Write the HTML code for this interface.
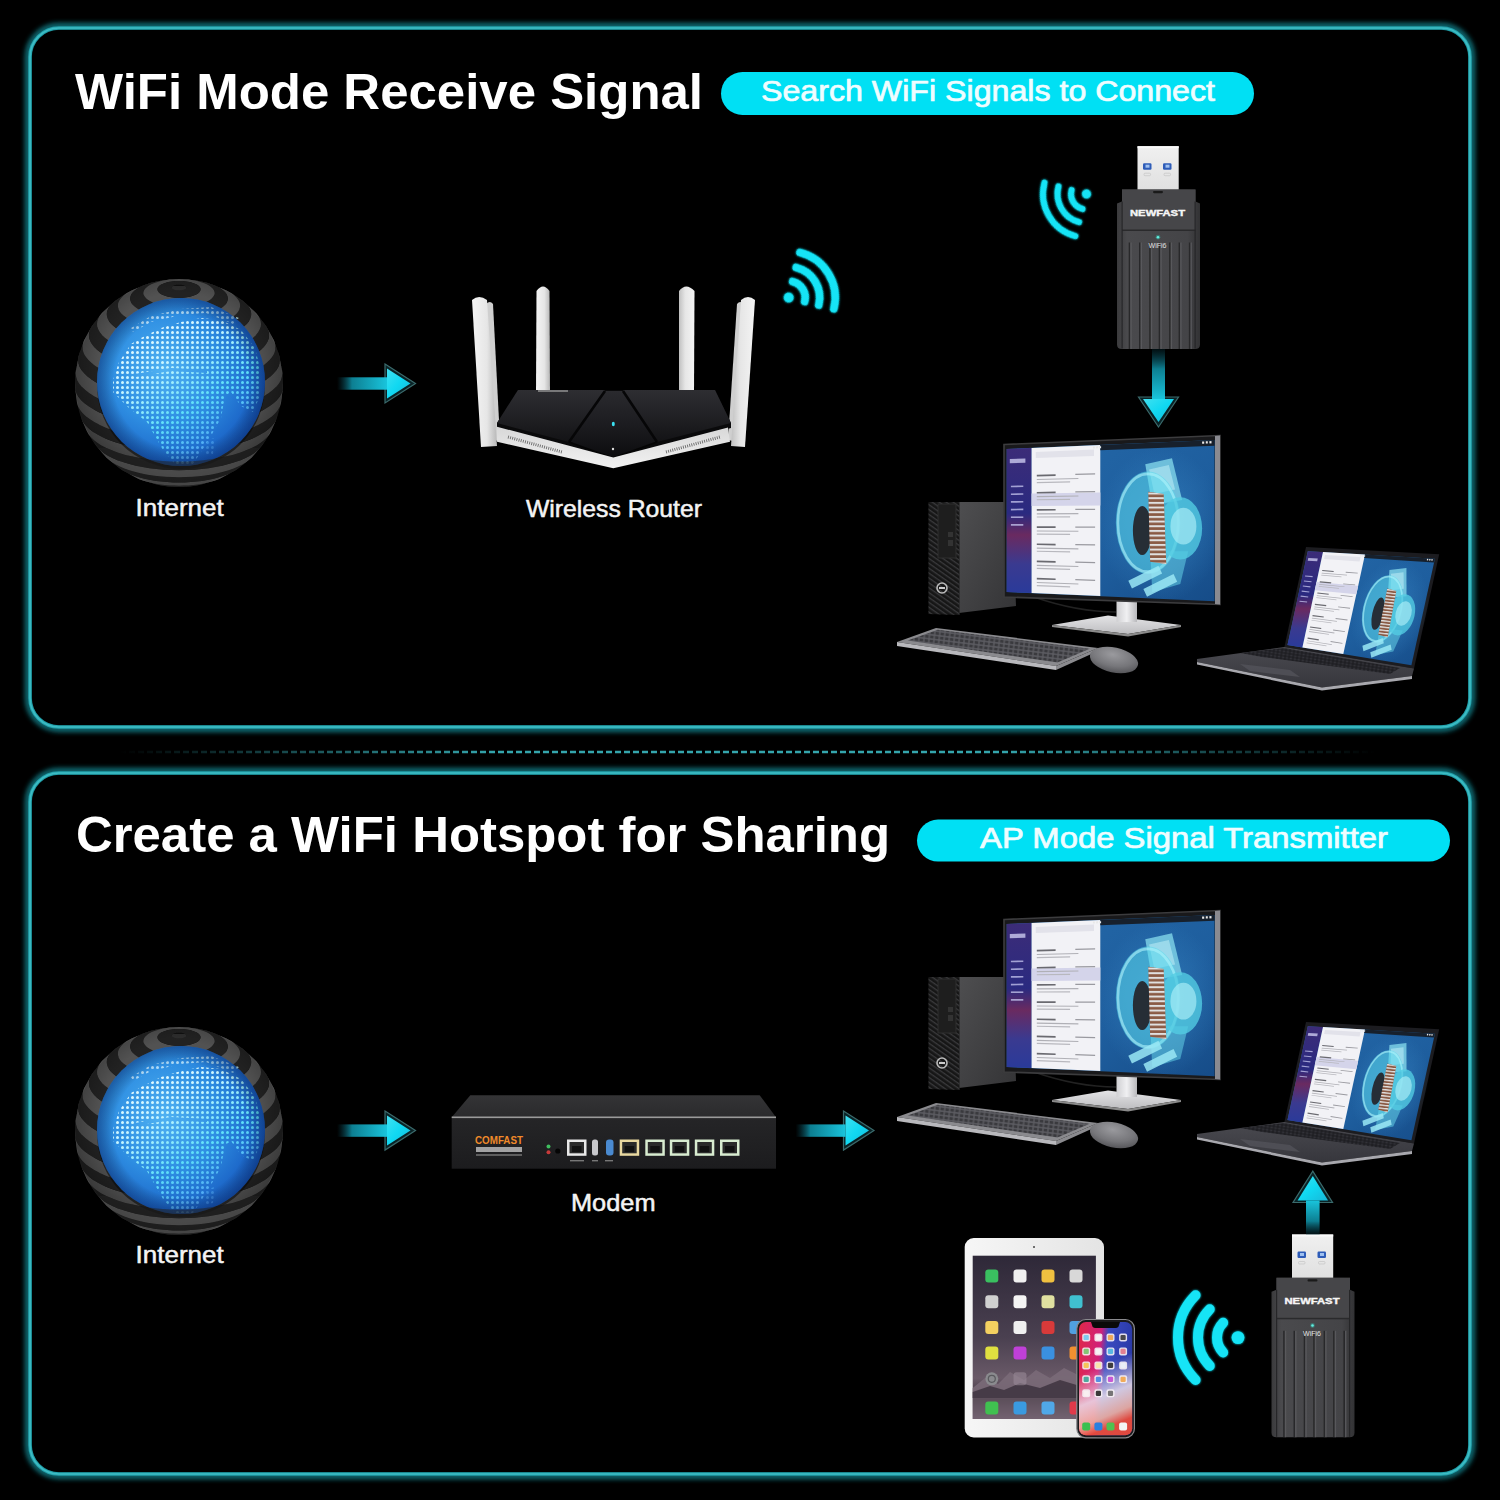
<!DOCTYPE html><html><head><meta charset="utf-8"><title>WiFi Adapter Modes</title><style>html,body{margin:0;padding:0;background:#000;width:1500px;height:1500px;overflow:hidden}svg{display:block}</style></head><body>
<svg width="1500" height="1500" viewBox="0 0 1500 1500">
<defs>
<filter id="glow" x="-5%" y="-5%" width="110%" height="110%"><feGaussianBlur stdDeviation="2.5"/></filter>
<filter id="softglow" x="-30%" y="-30%" width="160%" height="160%"><feGaussianBlur in="SourceGraphic" stdDeviation="1.2" result="b"/><feMerge><feMergeNode in="b"/><feMergeNode in="SourceGraphic"/></feMerge></filter>
<filter id="blur1"><feGaussianBlur stdDeviation="1"/></filter>
<radialGradient id="gBlue" cx="0.4" cy="0.42" r="0.65">
 <stop offset="0" stop-color="#50b2f2"/><stop offset="0.5" stop-color="#2e8ee2"/><stop offset="0.85" stop-color="#1c66c8"/><stop offset="1" stop-color="#1656b8"/>
</radialGradient>
<radialGradient id="gShade" cx="0.5" cy="0.5" r="0.5">
 <stop offset="0.8" stop-color="#000" stop-opacity="0"/><stop offset="1" stop-color="#001040" stop-opacity="0.35"/>
</radialGradient>
<pattern id="dots" width="5" height="5" patternUnits="userSpaceOnUse"><circle cx="2.5" cy="2.5" r="1.5" fill="#fff"/></pattern><linearGradient id="landGrad" x1="0.2" y1="0.1" x2="0.75" y2="0.95"><stop offset="0" stop-color="#f4fcff"/><stop offset="0.35" stop-color="#c8f6ff"/><stop offset="0.65" stop-color="#5ee0f8"/><stop offset="1" stop-color="#4a90f0"/></linearGradient><radialGradient id="shellShade" cx="0.5" cy="0.45" r="0.55"><stop offset="0.7" stop-color="#000" stop-opacity="0"/><stop offset="1" stop-color="#000" stop-opacity="0.35"/></radialGradient>
<linearGradient id="gShaftH" x1="0" x2="1" y1="0" y2="0"><stop offset="0" stop-color="#0a4a58" stop-opacity="0"/><stop offset="0.3" stop-color="#0d7f92"/><stop offset="1" stop-color="#19c4dc"/></linearGradient>
<linearGradient id="gShaftV" x1="0" x2="0" y1="0" y2="1"><stop offset="0" stop-color="#0a4a58" stop-opacity="0.2"/><stop offset="0.4" stop-color="#0d7f92"/><stop offset="1" stop-color="#19c4dc"/></linearGradient>
<linearGradient id="gShaftVu" x1="0" x2="0" y1="1" y2="0"><stop offset="0" stop-color="#0a4a58" stop-opacity="0.2"/><stop offset="0.4" stop-color="#0d7f92"/><stop offset="1" stop-color="#19c4dc"/></linearGradient>
<linearGradient id="gHead" x1="0" x2="1" y1="0" y2="1"><stop offset="0" stop-color="#40e0f0"/><stop offset="0.5" stop-color="#10d8f2"/><stop offset="1" stop-color="#18b8d8"/></linearGradient>
<linearGradient id="gDash" gradientUnits="userSpaceOnUse" x1="120" y1="0" x2="1375" y2="0"><stop offset="0" stop-color="#3ab8c0" stop-opacity="0"/><stop offset="0.3" stop-color="#3ab8c0" stop-opacity="0.9"/><stop offset="0.7" stop-color="#3ab8c0" stop-opacity="0.9"/><stop offset="1" stop-color="#3ab8c0" stop-opacity="0"/></linearGradient>

<linearGradient id="towerSide" x1="0" x2="1" y1="0" y2="1"><stop offset="0" stop-color="#4e4e50"/><stop offset="1" stop-color="#343436"/></linearGradient>
<pattern id="mesh" width="4" height="4" patternUnits="userSpaceOnUse" patternTransform="rotate(35)"><rect width="4" height="1.3" fill="#3a3a3c"/></pattern>
<linearGradient id="baseG" x1="0" x2="0" y1="0" y2="1"><stop offset="0" stop-color="#e4e4e6"/><stop offset="1" stop-color="#bdbdc0"/></linearGradient>
<linearGradient id="neckG" x1="0" x2="1"><stop offset="0" stop-color="#cfcfd2"/><stop offset="0.5" stop-color="#f0f0f2"/><stop offset="1" stop-color="#b8b8bb"/></linearGradient>
<linearGradient id="cadBg" x1="0" x2="1" y1="0" y2="1"><stop offset="0" stop-color="#2468a8"/><stop offset="0.6" stop-color="#1e5e9e"/><stop offset="1" stop-color="#164c88"/></linearGradient>
<linearGradient id="sidebarG" x1="0" x2="0" y1="0" y2="1"><stop offset="0" stop-color="#3c2c78"/><stop offset="0.45" stop-color="#2a2a80"/><stop offset="0.6" stop-color="#6a2a60"/><stop offset="0.8" stop-color="#3a3a90"/><stop offset="1" stop-color="#2a3a9a"/></linearGradient>
<pattern id="ribs" width="10" height="4.2" patternUnits="userSpaceOnUse"><rect width="10" height="1.8" fill="#e0e0e0"/></pattern>
<radialGradient id="cadGlow"><stop offset="0" stop-color="#3a8ac8" stop-opacity="0.6"/><stop offset="1" stop-color="#3a8ac8" stop-opacity="0"/></radialGradient>
<pattern id="keysP" width="5" height="4.2" patternUnits="userSpaceOnUse" patternTransform="rotate(7)"><rect width="5" height="4.2" fill="#5c5c62"/><rect x="0.7" y="0.7" width="3.6" height="2.8" fill="#3a3a3e"/></pattern>
<pattern id="keysP2" width="4" height="3" patternUnits="userSpaceOnUse" patternTransform="rotate(9)"><rect width="4" height="3" fill="#18181c"/><rect x="0.5" y="0.5" width="3" height="2" fill="#323238"/></pattern>
<radialGradient id="mouseG" cx="0.45" cy="0.3" r="0.75"><stop offset="0" stop-color="#9a9a9e"/><stop offset="0.6" stop-color="#76767a"/><stop offset="1" stop-color="#505054"/></radialGradient>
<linearGradient id="deckG" x1="0" x2="0" y1="0" y2="1"><stop offset="0" stop-color="#4a4a50"/><stop offset="1" stop-color="#36363c"/></linearGradient>
<linearGradient id="antG" x1="0" x2="1"><stop offset="0" stop-color="#f4f4f4"/><stop offset="0.6" stop-color="#e6e6e6"/><stop offset="1" stop-color="#b8b8b8"/></linearGradient>
<linearGradient id="antG2" x1="0" x2="1"><stop offset="0" stop-color="#c0c0c0"/><stop offset="0.4" stop-color="#e6e6e6"/><stop offset="1" stop-color="#f4f4f4"/></linearGradient>
<linearGradient id="prismL" x1="0" x2="1" y1="0" y2="1"><stop offset="0" stop-color="#3a3a40"/><stop offset="1" stop-color="#1a1a1e"/></linearGradient>
<linearGradient id="routerTop" x1="0" x2="0" y1="0" y2="1"><stop offset="0" stop-color="#2e2e32"/><stop offset="0.45" stop-color="#222226"/><stop offset="1" stop-color="#131315"/></linearGradient>
<linearGradient id="prismG" x1="0" x2="0" y1="0" y2="1"><stop offset="0" stop-color="#2a2a2e"/><stop offset="0.5" stop-color="#1c1c20"/><stop offset="1" stop-color="#0c0c0e"/></linearGradient>
<linearGradient id="routerBase" x1="0" x2="0" y1="0" y2="1"><stop offset="0" stop-color="#d8d8d8"/><stop offset="1" stop-color="#f2f2f2"/></linearGradient>
<linearGradient id="usbG" x1="0" x2="0" y1="0" y2="1"><stop offset="0" stop-color="#f0f0f0"/><stop offset="1" stop-color="#e0e0e0"/></linearGradient>
<linearGradient id="dongleG" x1="0" x2="1"><stop offset="0" stop-color="#3a3a3c"/><stop offset="0.12" stop-color="#4a4a4d"/><stop offset="0.85" stop-color="#444447"/><stop offset="1" stop-color="#323234"/></linearGradient>
<linearGradient id="modemTop" x1="0" x2="0" y1="0" y2="1"><stop offset="0" stop-color="#343436"/><stop offset="1" stop-color="#2a2a2c"/></linearGradient>
<linearGradient id="modemFront" x1="0" x2="0" y1="0" y2="1"><stop offset="0" stop-color="#252527"/><stop offset="1" stop-color="#1c1c1e"/></linearGradient>
<linearGradient id="ipadBody" x1="0" x2="1"><stop offset="0" stop-color="#f6f6f6"/><stop offset="1" stop-color="#e4e4e4"/></linearGradient>
<linearGradient id="ipadScreen" x1="0" x2="0" y1="0" y2="1"><stop offset="0" stop-color="#2e2838"/><stop offset="0.5" stop-color="#4a4050"/><stop offset="0.75" stop-color="#6a5a68"/><stop offset="0.88" stop-color="#3a3038"/><stop offset="1" stop-color="#6a5a68"/></linearGradient>
<linearGradient id="iphoneScreen" x1="0" x2="1" y1="0" y2="0.2"><stop offset="0" stop-color="#e02848"/><stop offset="0.42" stop-color="#d0207a"/><stop offset="0.55" stop-color="#3a4ac0"/><stop offset="1" stop-color="#2a3aa8"/></linearGradient>
<linearGradient id="iphoneBottom" x1="0" x2="0.2" y1="0" y2="1"><stop offset="0.45" stop-color="#f0e0e8" stop-opacity="0"/><stop offset="0.72" stop-color="#ece0ea" stop-opacity="0.85"/><stop offset="0.9" stop-color="#f0b0a0" stop-opacity="0.9"/><stop offset="1" stop-color="#e84a3a" stop-opacity="0.95"/></linearGradient>
</defs>
<defs><mask id="landMask1" maskUnits="userSpaceOnUse" x="0" y="0" width="1500" height="1500"><path d="M113.0,380.0 L119.0,362.0 L131.0,344.0 L141.0,338.0 L161.0,328.0 L181.0,322.0 L201.0,318.0 L221.0,320.0 L241.0,330.0 L255.0,348.0 L261.0,372.0 L259.0,398.0 L253.0,412.0 L241.0,406.0 L231.0,392.0 L225.0,396.0 L221.0,418.0 L211.0,436.0 L201.0,452.0 L193.0,464.0 L175.0,464.0 L163.0,450.0 L147.0,422.0 L129.0,408.0 L113.0,392.0Z" fill="url(#dots)"/><path d="M131.0,328.0 L151.0,316.0 L181.0,309.0 L211.0,307.0 L239.0,318.0 L233.0,324.0 L206.0,313.0 L181.0,315.0 L151.0,322.0 L133.0,332.0Z" fill="url(#dots)" opacity="0.7"/><path d="M207.0,440.0 L215.0,438.0 L213.0,454.0 L205.0,456.0Z" fill="url(#dots)" opacity="0.6"/><path d="M135.0,374.0 L171.0,368.0 L207.0,370.0 L207.0,373.0 L171.0,371.0 L135.0,377.0Z" fill="#000"/></mask><mask id="landMask2" maskUnits="userSpaceOnUse" x="0" y="0" width="1500" height="1500"><path d="M113.0,1129.0 L119.0,1111.0 L131.0,1093.0 L141.0,1087.0 L161.0,1077.0 L181.0,1071.0 L201.0,1067.0 L221.0,1069.0 L241.0,1079.0 L255.0,1097.0 L261.0,1121.0 L259.0,1147.0 L253.0,1161.0 L241.0,1155.0 L231.0,1141.0 L225.0,1145.0 L221.0,1167.0 L211.0,1185.0 L201.0,1201.0 L193.0,1213.0 L175.0,1213.0 L163.0,1199.0 L147.0,1171.0 L129.0,1157.0 L113.0,1141.0Z" fill="url(#dots)"/><path d="M131.0,1077.0 L151.0,1065.0 L181.0,1058.0 L211.0,1056.0 L239.0,1067.0 L233.0,1073.0 L206.0,1062.0 L181.0,1064.0 L151.0,1071.0 L133.0,1081.0Z" fill="url(#dots)" opacity="0.7"/><path d="M207.0,1189.0 L215.0,1187.0 L213.0,1203.0 L205.0,1205.0Z" fill="url(#dots)" opacity="0.6"/><path d="M135.0,1123.0 L171.0,1117.0 L207.0,1119.0 L207.0,1122.0 L171.0,1120.0 L135.0,1126.0Z" fill="#000"/></mask><clipPath id="gclip1"><rect x="60" y="448" width="240" height="60"/></clipPath><clipPath id="gclip2"><rect x="60" y="1196" width="240" height="60"/></clipPath></defs>
<rect width="1500" height="1500" fill="#000"/>
<rect x="28" y="26" width="1444" height="703" rx="31" fill="none" stroke="#139aa6" stroke-width="6" filter="url(#glow)" opacity="0.75"/>
<rect x="32" y="30" width="1436" height="695" rx="27" fill="#000"/>
<rect x="30" y="28" width="1440" height="699" rx="29" fill="none" stroke="#22a2ac" stroke-width="3.6"/>
<rect x="30" y="28" width="1440" height="699" rx="29" fill="none" stroke="#3ebcc4" stroke-width="1.7"/>
<rect x="28" y="771" width="1444" height="705" rx="31" fill="none" stroke="#139aa6" stroke-width="6" filter="url(#glow)" opacity="0.75"/>
<rect x="32" y="775" width="1436" height="697" rx="27" fill="#000"/>
<rect x="30" y="773" width="1440" height="701" rx="29" fill="none" stroke="#22a2ac" stroke-width="3.6"/>
<rect x="30" y="773" width="1440" height="701" rx="29" fill="none" stroke="#3ebcc4" stroke-width="1.7"/>
<line x1="120" y1="752" x2="1375" y2="752" stroke="url(#gDash)" stroke-width="2.4" stroke-dasharray="6 3"/>
<text x="75" y="108.6" font-family='"Liberation Sans", sans-serif' font-size="49.5" font-weight="bold" fill="#fff" textLength="628" lengthAdjust="spacingAndGlyphs">WiFi Mode Receive Signal</text>
<text x="76" y="852" font-family='"Liberation Sans", sans-serif' font-size="49.5" font-weight="bold" fill="#fff" textLength="814" lengthAdjust="spacingAndGlyphs">Create a WiFi Hotspot for Sharing</text>
<rect x="721" y="72" width="533" height="43" rx="21.5" fill="#00e0f4"/>
<text x="761" y="101" font-family='"Liberation Sans", sans-serif' font-size="29" font-weight="normal" fill="#effdff" stroke="#effdff" stroke-width="0.7" stroke-linejoin="round" textLength="454" lengthAdjust="spacingAndGlyphs">Search WiFi Signals to Connect</text>
<rect x="917" y="819.6" width="533" height="42" rx="21" fill="#00e0f4"/>
<text x="980" y="848" font-family='"Liberation Sans", sans-serif' font-size="29" font-weight="normal" fill="#effdff" stroke="#effdff" stroke-width="0.7" stroke-linejoin="round" textLength="408" lengthAdjust="spacingAndGlyphs">AP Mode Signal Transmitter</text>
<g>
<circle cx="179" cy="383" r="104" fill="#0e0e0e"/>
<path d="M193.5,477.8 L193.5,477.6 L193.4,477.3 L193.4,477.1 L193.3,476.8 L193.1,476.6 L193.0,476.3 L192.8,476.1 L192.6,475.9 L192.4,475.6 L192.1,475.4 L191.8,475.2 L191.5,475.0 L191.2,474.8 L190.9,474.6 L190.5,474.4 L190.1,474.2 L189.7,474.0 L189.2,473.8 L188.8,473.6 L188.3,473.5 L187.8,473.3 L187.3,473.2 L186.8,473.0 L186.2,472.9 L185.7,472.8 L185.1,472.7 L184.5,472.6 L184.0,472.5 L183.4,472.4 L182.7,472.3 L182.1,472.3 L181.5,472.2 L180.9,472.2 L180.3,472.2 L179.6,472.2 L179.0,472.1 L178.4,472.2 L177.7,472.2 L177.1,472.2 L176.5,472.2 L175.9,472.3 L175.3,472.3 L174.6,472.4 L174.0,472.5 L173.5,472.6 L172.9,472.7 L172.3,472.8 L171.8,472.9 L171.2,473.0 L170.7,473.2 L170.2,473.3 L169.7,473.5 L169.2,473.6 L168.8,473.8 L168.3,474.0 L167.9,474.2 L167.5,474.4 L167.1,474.6 L166.8,474.8 L166.5,475.0 L166.2,475.2 L165.9,475.4 L165.6,475.6 L165.4,475.9 L165.2,476.1 L165.0,476.3 L164.9,476.6 L164.7,476.8 L164.6,477.1 L164.6,477.3 L164.5,477.6 L164.5,477.8 L179.0,478.7 L179.0,478.7 L179.0,478.7 L179.0,478.7 L179.0,478.7 L179.0,478.7 L179.0,478.7 L179.0,478.7 L179.0,478.7 L179.0,478.7 L179.0,478.7 L179.0,478.7 L179.0,478.7 L179.0,478.7 L179.0,478.7 L179.0,478.7 L179.0,478.7 L179.0,478.7 L179.0,478.7 L179.0,478.7 L179.0,478.7 L179.0,478.7 L179.0,478.7 L179.0,478.7 L179.0,478.7 L179.0,478.7 L179.0,478.7 L179.0,478.7 L179.0,478.7 L179.0,478.7 L179.0,478.7 L179.0,478.7 L179.0,478.7 L179.0,478.7 L179.0,478.7 L179.0,478.7 L179.0,478.7 L179.0,478.7 L179.0,478.7 L179.0,478.7 L179.0,478.7 L179.0,478.7 L179.0,478.7 L179.0,478.7 L179.0,478.7 L179.0,478.7 L179.0,478.7 L179.0,478.7 L179.0,478.7 L179.0,478.7 L179.0,478.7 L179.0,478.7 L179.0,478.7 L179.0,478.7 L179.0,478.7 L179.0,478.7 L179.0,478.7 L179.0,478.7 L179.0,478.7 L179.0,478.7 L179.0,478.7 L179.0,478.7 L179.0,478.7 L179.0,478.7 L179.0,478.7 L179.0,478.7 L179.0,478.7 L179.0,478.7 L179.0,478.7 L179.0,478.7 L179.0,478.7 L179.0,478.7 L179.0,478.7Z" fill="#2e2e2e"/>
<path d="M207.7,475.0 L207.6,474.5 L207.6,474.0 L207.4,473.6 L207.2,473.1 L207.0,472.6 L206.7,472.1 L206.3,471.7 L205.9,471.2 L205.5,470.7 L205.0,470.3 L204.4,469.9 L203.8,469.4 L203.2,469.0 L202.5,468.6 L201.7,468.2 L201.0,467.8 L200.1,467.5 L199.3,467.1 L198.4,466.8 L197.4,466.4 L196.5,466.1 L195.4,465.8 L194.4,465.6 L193.3,465.3 L192.2,465.1 L191.1,464.9 L190.0,464.7 L188.8,464.5 L187.6,464.3 L186.4,464.2 L185.2,464.1 L184.0,464.0 L182.7,463.9 L181.5,463.9 L180.3,463.8 L179.0,463.8 L177.7,463.8 L176.5,463.9 L175.3,463.9 L174.0,464.0 L172.8,464.1 L171.6,464.2 L170.4,464.3 L169.2,464.5 L168.0,464.7 L166.9,464.9 L165.8,465.1 L164.7,465.3 L163.6,465.6 L162.6,465.8 L161.5,466.1 L160.6,466.4 L159.6,466.8 L158.7,467.1 L157.9,467.5 L157.0,467.8 L156.3,468.2 L155.5,468.6 L154.8,469.0 L154.2,469.4 L153.6,469.9 L153.0,470.3 L152.5,470.7 L152.1,471.2 L151.7,471.7 L151.3,472.1 L151.0,472.6 L150.8,473.1 L150.6,473.6 L150.4,474.0 L150.4,474.5 L150.3,475.0 L164.5,477.8 L164.5,477.6 L164.6,477.3 L164.6,477.1 L164.7,476.8 L164.9,476.6 L165.0,476.3 L165.2,476.1 L165.4,475.9 L165.6,475.6 L165.9,475.4 L166.2,475.2 L166.5,475.0 L166.8,474.8 L167.1,474.6 L167.5,474.4 L167.9,474.2 L168.3,474.0 L168.8,473.8 L169.2,473.6 L169.7,473.5 L170.2,473.3 L170.7,473.2 L171.2,473.0 L171.8,472.9 L172.3,472.8 L172.9,472.7 L173.5,472.6 L174.0,472.5 L174.6,472.4 L175.3,472.3 L175.9,472.3 L176.5,472.2 L177.1,472.2 L177.7,472.2 L178.4,472.2 L179.0,472.1 L179.6,472.2 L180.3,472.2 L180.9,472.2 L181.5,472.2 L182.1,472.3 L182.7,472.3 L183.4,472.4 L184.0,472.5 L184.5,472.6 L185.1,472.7 L185.7,472.8 L186.2,472.9 L186.8,473.0 L187.3,473.2 L187.8,473.3 L188.3,473.5 L188.8,473.6 L189.2,473.8 L189.7,474.0 L190.1,474.2 L190.5,474.4 L190.9,474.6 L191.2,474.8 L191.5,475.0 L191.8,475.2 L192.1,475.4 L192.4,475.6 L192.6,475.9 L192.8,476.1 L193.0,476.3 L193.1,476.6 L193.3,476.8 L193.4,477.1 L193.4,477.3 L193.5,477.6 L193.5,477.8Z" fill="#101010"/>
<path d="M221.3,470.5 L221.3,469.7 L221.1,469.0 L220.9,468.3 L220.7,467.6 L220.3,466.9 L219.9,466.2 L219.3,465.5 L218.7,464.8 L218.1,464.1 L217.3,463.5 L216.5,462.8 L215.6,462.2 L214.7,461.6 L213.7,461.0 L212.6,460.4 L211.4,459.8 L210.2,459.3 L208.9,458.8 L207.6,458.3 L206.2,457.8 L204.8,457.3 L203.3,456.9 L201.7,456.5 L200.2,456.1 L198.5,455.8 L196.9,455.5 L195.2,455.2 L193.5,454.9 L191.7,454.7 L189.9,454.5 L188.2,454.3 L186.3,454.2 L184.5,454.1 L182.7,454.0 L180.8,453.9 L179.0,453.9 L177.2,453.9 L175.3,454.0 L173.5,454.1 L171.7,454.2 L169.8,454.3 L168.1,454.5 L166.3,454.7 L164.5,454.9 L162.8,455.2 L161.1,455.5 L159.5,455.8 L157.8,456.1 L156.3,456.5 L154.7,456.9 L153.2,457.3 L151.8,457.8 L150.4,458.3 L149.1,458.8 L147.8,459.3 L146.6,459.8 L145.4,460.4 L144.3,461.0 L143.3,461.6 L142.4,462.2 L141.5,462.8 L140.7,463.5 L139.9,464.1 L139.3,464.8 L138.7,465.5 L138.1,466.2 L137.7,466.9 L137.3,467.6 L137.1,468.3 L136.9,469.0 L136.7,469.7 L136.7,470.5 L150.3,475.0 L150.4,474.5 L150.4,474.0 L150.6,473.6 L150.8,473.1 L151.0,472.6 L151.3,472.1 L151.7,471.7 L152.1,471.2 L152.5,470.7 L153.0,470.3 L153.6,469.9 L154.2,469.4 L154.8,469.0 L155.5,468.6 L156.3,468.2 L157.0,467.8 L157.9,467.5 L158.7,467.1 L159.6,466.8 L160.6,466.4 L161.5,466.1 L162.6,465.8 L163.6,465.6 L164.7,465.3 L165.8,465.1 L166.9,464.9 L168.0,464.7 L169.2,464.5 L170.4,464.3 L171.6,464.2 L172.8,464.1 L174.0,464.0 L175.3,463.9 L176.5,463.9 L177.7,463.8 L179.0,463.8 L180.3,463.8 L181.5,463.9 L182.7,463.9 L184.0,464.0 L185.2,464.1 L186.4,464.2 L187.6,464.3 L188.8,464.5 L190.0,464.7 L191.1,464.9 L192.2,465.1 L193.3,465.3 L194.4,465.6 L195.4,465.8 L196.5,466.1 L197.4,466.4 L198.4,466.8 L199.3,467.1 L200.1,467.5 L201.0,467.8 L201.7,468.2 L202.5,468.6 L203.2,469.0 L203.8,469.4 L204.4,469.9 L205.0,470.3 L205.5,470.7 L205.9,471.2 L206.3,471.7 L206.7,472.1 L207.0,472.6 L207.2,473.1 L207.4,473.6 L207.6,474.0 L207.6,474.5 L207.7,475.0Z" fill="#2e2e2e"/>
<path d="M234.1,464.2 L234.1,463.2 L233.9,462.3 L233.6,461.4 L233.3,460.4 L232.8,459.5 L232.2,458.6 L231.6,457.7 L230.8,456.8 L229.9,455.9 L228.9,455.1 L227.9,454.2 L226.7,453.4 L225.5,452.6 L224.1,451.8 L222.7,451.1 L221.2,450.3 L219.6,449.6 L218.0,449.0 L216.2,448.3 L214.4,447.7 L212.5,447.1 L210.6,446.5 L208.6,446.0 L206.6,445.5 L204.4,445.1 L202.3,444.7 L200.1,444.3 L197.8,444.0 L195.6,443.6 L193.3,443.4 L190.9,443.2 L188.6,443.0 L186.2,442.8 L183.8,442.7 L181.4,442.7 L179.0,442.7 L176.6,442.7 L174.2,442.7 L171.8,442.8 L169.4,443.0 L167.1,443.2 L164.7,443.4 L162.4,443.6 L160.2,444.0 L157.9,444.3 L155.7,444.7 L153.6,445.1 L151.4,445.5 L149.4,446.0 L147.4,446.5 L145.5,447.1 L143.6,447.7 L141.8,448.3 L140.0,449.0 L138.4,449.6 L136.8,450.3 L135.3,451.1 L133.9,451.8 L132.5,452.6 L131.3,453.4 L130.1,454.2 L129.1,455.1 L128.1,455.9 L127.2,456.8 L126.4,457.7 L125.8,458.6 L125.2,459.5 L124.7,460.4 L124.4,461.4 L124.1,462.3 L123.9,463.2 L123.9,464.2 L136.7,470.5 L136.7,469.7 L136.9,469.0 L137.1,468.3 L137.3,467.6 L137.7,466.9 L138.1,466.2 L138.7,465.5 L139.3,464.8 L139.9,464.1 L140.7,463.5 L141.5,462.8 L142.4,462.2 L143.3,461.6 L144.3,461.0 L145.4,460.4 L146.6,459.8 L147.8,459.3 L149.1,458.8 L150.4,458.3 L151.8,457.8 L153.2,457.3 L154.7,456.9 L156.3,456.5 L157.8,456.1 L159.5,455.8 L161.1,455.5 L162.8,455.2 L164.5,454.9 L166.3,454.7 L168.1,454.5 L169.8,454.3 L171.7,454.2 L173.5,454.1 L175.3,454.0 L177.2,453.9 L179.0,453.9 L180.8,453.9 L182.7,454.0 L184.5,454.1 L186.3,454.2 L188.2,454.3 L189.9,454.5 L191.7,454.7 L193.5,454.9 L195.2,455.2 L196.9,455.5 L198.5,455.8 L200.2,456.1 L201.7,456.5 L203.3,456.9 L204.8,457.3 L206.2,457.8 L207.6,458.3 L208.9,458.8 L210.2,459.3 L211.4,459.8 L212.6,460.4 L213.7,461.0 L214.7,461.6 L215.6,462.2 L216.5,462.8 L217.3,463.5 L218.1,464.1 L218.7,464.8 L219.3,465.5 L219.9,466.2 L220.3,466.9 L220.7,467.6 L220.9,468.3 L221.1,469.0 L221.3,469.7 L221.3,470.5Z" fill="#101010"/>
<path d="M245.8,456.3 L245.8,455.2 L245.6,454.1 L245.3,452.9 L244.8,451.8 L244.3,450.7 L243.6,449.6 L242.8,448.5 L241.8,447.4 L240.8,446.3 L239.6,445.3 L238.3,444.3 L236.9,443.3 L235.4,442.3 L233.8,441.4 L232.0,440.4 L230.2,439.5 L228.3,438.7 L226.3,437.9 L224.2,437.1 L222.0,436.3 L219.7,435.6 L217.3,434.9 L214.9,434.3 L212.4,433.7 L209.9,433.2 L207.3,432.7 L204.6,432.2 L201.9,431.8 L199.1,431.4 L196.3,431.1 L193.5,430.8 L190.6,430.6 L187.7,430.4 L184.8,430.3 L181.9,430.2 L179.0,430.2 L176.1,430.2 L173.2,430.3 L170.3,430.4 L167.4,430.6 L164.5,430.8 L161.7,431.1 L158.9,431.4 L156.1,431.8 L153.4,432.2 L150.7,432.7 L148.1,433.2 L145.6,433.7 L143.1,434.3 L140.7,434.9 L138.3,435.6 L136.0,436.3 L133.8,437.1 L131.7,437.9 L129.7,438.7 L127.8,439.5 L126.0,440.4 L124.2,441.4 L122.6,442.3 L121.1,443.3 L119.7,444.3 L118.4,445.3 L117.2,446.3 L116.2,447.4 L115.2,448.5 L114.4,449.6 L113.7,450.7 L113.2,451.8 L112.7,452.9 L112.4,454.1 L112.2,455.2 L112.2,456.3 L123.9,464.2 L123.9,463.2 L124.1,462.3 L124.4,461.4 L124.7,460.4 L125.2,459.5 L125.8,458.6 L126.4,457.7 L127.2,456.8 L128.1,455.9 L129.1,455.1 L130.1,454.2 L131.3,453.4 L132.5,452.6 L133.9,451.8 L135.3,451.1 L136.8,450.3 L138.4,449.6 L140.0,449.0 L141.8,448.3 L143.6,447.7 L145.5,447.1 L147.4,446.5 L149.4,446.0 L151.4,445.5 L153.6,445.1 L155.7,444.7 L157.9,444.3 L160.2,444.0 L162.4,443.6 L164.7,443.4 L167.1,443.2 L169.4,443.0 L171.8,442.8 L174.2,442.7 L176.6,442.7 L179.0,442.7 L181.4,442.7 L183.8,442.7 L186.2,442.8 L188.6,443.0 L190.9,443.2 L193.3,443.4 L195.6,443.6 L197.8,444.0 L200.1,444.3 L202.3,444.7 L204.4,445.1 L206.6,445.5 L208.6,446.0 L210.6,446.5 L212.5,447.1 L214.4,447.7 L216.2,448.3 L218.0,449.0 L219.6,449.6 L221.2,450.3 L222.7,451.1 L224.1,451.8 L225.5,452.6 L226.7,453.4 L227.9,454.2 L228.9,455.1 L229.9,455.9 L230.8,456.8 L231.6,457.7 L232.2,458.6 L232.8,459.5 L233.3,460.4 L233.6,461.4 L233.9,462.3 L234.1,463.2 L234.1,464.2Z" fill="#2e2e2e"/>
<path d="M256.3,447.1 L256.2,445.7 L256.0,444.4 L255.6,443.1 L255.1,441.8 L254.5,440.5 L253.7,439.2 L252.7,438.0 L251.6,436.7 L250.4,435.5 L249.0,434.3 L247.6,433.1 L245.9,432.0 L244.2,430.8 L242.3,429.7 L240.3,428.7 L238.2,427.6 L236.0,426.7 L233.7,425.7 L231.2,424.8 L228.7,423.9 L226.0,423.1 L223.3,422.3 L220.5,421.6 L217.6,420.9 L214.7,420.3 L211.7,419.7 L208.6,419.2 L205.4,418.7 L202.2,418.3 L199.0,417.9 L195.7,417.6 L192.4,417.3 L189.1,417.1 L185.7,417.0 L182.4,416.9 L179.0,416.9 L175.6,416.9 L172.3,417.0 L168.9,417.1 L165.6,417.3 L162.3,417.6 L159.0,417.9 L155.8,418.3 L152.6,418.7 L149.4,419.2 L146.3,419.7 L143.3,420.3 L140.4,420.9 L137.5,421.6 L134.7,422.3 L132.0,423.1 L129.3,423.9 L126.8,424.8 L124.3,425.7 L122.0,426.7 L119.8,427.6 L117.7,428.7 L115.7,429.7 L113.8,430.8 L112.1,432.0 L110.4,433.1 L109.0,434.3 L107.6,435.5 L106.4,436.7 L105.3,438.0 L104.3,439.2 L103.5,440.5 L102.9,441.8 L102.4,443.1 L102.0,444.4 L101.8,445.7 L101.7,447.1 L112.2,456.3 L112.2,455.2 L112.4,454.1 L112.7,452.9 L113.2,451.8 L113.7,450.7 L114.4,449.6 L115.2,448.5 L116.2,447.4 L117.2,446.3 L118.4,445.3 L119.7,444.3 L121.1,443.3 L122.6,442.3 L124.2,441.4 L126.0,440.4 L127.8,439.5 L129.7,438.7 L131.7,437.9 L133.8,437.1 L136.0,436.3 L138.3,435.6 L140.7,434.9 L143.1,434.3 L145.6,433.7 L148.1,433.2 L150.7,432.7 L153.4,432.2 L156.1,431.8 L158.9,431.4 L161.7,431.1 L164.5,430.8 L167.4,430.6 L170.3,430.4 L173.2,430.3 L176.1,430.2 L179.0,430.2 L181.9,430.2 L184.8,430.3 L187.7,430.4 L190.6,430.6 L193.5,430.8 L196.3,431.1 L199.1,431.4 L201.9,431.8 L204.6,432.2 L207.3,432.7 L209.9,433.2 L212.4,433.7 L214.9,434.3 L217.3,434.9 L219.7,435.6 L222.0,436.3 L224.2,437.1 L226.3,437.9 L228.3,438.7 L230.2,439.5 L232.0,440.4 L233.8,441.4 L235.4,442.3 L236.9,443.3 L238.3,444.3 L239.6,445.3 L240.8,446.3 L241.8,447.4 L242.8,448.5 L243.6,449.6 L244.3,450.7 L244.8,451.8 L245.3,452.9 L245.6,454.1 L245.8,455.2 L245.8,456.3Z" fill="#101010"/>
<path d="M265.2,436.5 L265.1,435.1 L264.9,433.6 L264.5,432.1 L263.9,430.7 L263.2,429.2 L262.3,427.8 L261.2,426.4 L260.0,425.0 L258.7,423.6 L257.1,422.3 L255.5,421.0 L253.7,419.7 L251.7,418.4 L249.6,417.2 L247.4,416.0 L245.0,414.9 L242.6,413.8 L240.0,412.7 L237.2,411.7 L234.4,410.7 L231.5,409.8 L228.5,408.9 L225.3,408.1 L222.1,407.4 L218.8,406.7 L215.4,406.0 L212.0,405.4 L208.5,404.9 L204.9,404.4 L201.3,404.0 L197.7,403.6 L194.0,403.4 L190.3,403.1 L186.5,403.0 L182.8,402.9 L179.0,402.8 L175.2,402.9 L171.5,403.0 L167.7,403.1 L164.0,403.4 L160.3,403.6 L156.7,404.0 L153.1,404.4 L149.5,404.9 L146.0,405.4 L142.6,406.0 L139.2,406.7 L135.9,407.4 L132.7,408.1 L129.5,408.9 L126.5,409.8 L123.6,410.7 L120.8,411.7 L118.0,412.7 L115.4,413.8 L113.0,414.9 L110.6,416.0 L108.4,417.2 L106.3,418.4 L104.3,419.7 L102.5,421.0 L100.9,422.3 L99.3,423.6 L98.0,425.0 L96.8,426.4 L95.7,427.8 L94.8,429.2 L94.1,430.7 L93.5,432.1 L93.1,433.6 L92.9,435.1 L92.8,436.5 L101.7,447.1 L101.8,445.7 L102.0,444.4 L102.4,443.1 L102.9,441.8 L103.5,440.5 L104.3,439.2 L105.3,438.0 L106.4,436.7 L107.6,435.5 L109.0,434.3 L110.4,433.1 L112.1,432.0 L113.8,430.8 L115.7,429.7 L117.7,428.7 L119.8,427.6 L122.0,426.7 L124.3,425.7 L126.8,424.8 L129.3,423.9 L132.0,423.1 L134.7,422.3 L137.5,421.6 L140.4,420.9 L143.3,420.3 L146.3,419.7 L149.4,419.2 L152.6,418.7 L155.8,418.3 L159.0,417.9 L162.3,417.6 L165.6,417.3 L168.9,417.1 L172.3,417.0 L175.6,416.9 L179.0,416.9 L182.4,416.9 L185.7,417.0 L189.1,417.1 L192.4,417.3 L195.7,417.6 L199.0,417.9 L202.2,418.3 L205.4,418.7 L208.6,419.2 L211.7,419.7 L214.7,420.3 L217.6,420.9 L220.5,421.6 L223.3,422.3 L226.0,423.1 L228.7,423.9 L231.2,424.8 L233.7,425.7 L236.0,426.7 L238.2,427.6 L240.3,428.7 L242.3,429.7 L244.2,430.8 L245.9,432.0 L247.6,433.1 L249.0,434.3 L250.4,435.5 L251.6,436.7 L252.7,438.0 L253.7,439.2 L254.5,440.5 L255.1,441.8 L255.6,443.1 L256.0,444.4 L256.2,445.7 L256.3,447.1Z" fill="#2e2e2e"/>
<path d="M272.5,425.0 L272.4,423.4 L272.1,421.8 L271.7,420.2 L271.1,418.6 L270.3,417.1 L269.3,415.5 L268.1,414.0 L266.8,412.5 L265.4,411.0 L263.7,409.5 L261.9,408.1 L260.0,406.7 L257.8,405.3 L255.6,404.0 L253.2,402.7 L250.6,401.5 L247.9,400.3 L245.1,399.1 L242.2,398.0 L239.1,397.0 L235.9,396.0 L232.6,395.0 L229.2,394.2 L225.7,393.3 L222.2,392.6 L218.5,391.9 L214.8,391.2 L211.0,390.6 L207.1,390.1 L203.2,389.7 L199.2,389.3 L195.2,389.0 L191.2,388.8 L187.1,388.6 L183.1,388.5 L179.0,388.4 L174.9,388.5 L170.9,388.6 L166.8,388.8 L162.8,389.0 L158.8,389.3 L154.8,389.7 L150.9,390.1 L147.0,390.6 L143.2,391.2 L139.5,391.9 L135.8,392.6 L132.3,393.3 L128.8,394.2 L125.4,395.0 L122.1,396.0 L118.9,397.0 L115.8,398.0 L112.9,399.1 L110.1,400.3 L107.4,401.5 L104.8,402.7 L102.4,404.0 L100.2,405.3 L98.0,406.7 L96.1,408.1 L94.3,409.5 L92.6,411.0 L91.2,412.5 L89.9,414.0 L88.7,415.5 L87.7,417.1 L86.9,418.6 L86.3,420.2 L85.9,421.8 L85.6,423.4 L85.5,425.0 L92.8,436.5 L92.9,435.1 L93.1,433.6 L93.5,432.1 L94.1,430.7 L94.8,429.2 L95.7,427.8 L96.8,426.4 L98.0,425.0 L99.3,423.6 L100.9,422.3 L102.5,421.0 L104.3,419.7 L106.3,418.4 L108.4,417.2 L110.6,416.0 L113.0,414.9 L115.4,413.8 L118.0,412.7 L120.8,411.7 L123.6,410.7 L126.5,409.8 L129.5,408.9 L132.7,408.1 L135.9,407.4 L139.2,406.7 L142.6,406.0 L146.0,405.4 L149.5,404.9 L153.1,404.4 L156.7,404.0 L160.3,403.6 L164.0,403.4 L167.7,403.1 L171.5,403.0 L175.2,402.9 L179.0,402.8 L182.8,402.9 L186.5,403.0 L190.3,403.1 L194.0,403.4 L197.7,403.6 L201.3,404.0 L204.9,404.4 L208.5,404.9 L212.0,405.4 L215.4,406.0 L218.8,406.7 L222.1,407.4 L225.3,408.1 L228.5,408.9 L231.5,409.8 L234.4,410.7 L237.2,411.7 L240.0,412.7 L242.6,413.8 L245.0,414.9 L247.4,416.0 L249.6,417.2 L251.7,418.4 L253.7,419.7 L255.5,421.0 L257.1,422.3 L258.7,423.6 L260.0,425.0 L261.2,426.4 L262.3,427.8 L263.2,429.2 L263.9,430.7 L264.5,432.1 L264.9,433.6 L265.1,435.1 L265.2,436.5Z" fill="#101010"/>
<path d="M277.9,412.6 L277.8,410.9 L277.5,409.2 L277.1,407.5 L276.4,405.9 L275.6,404.2 L274.5,402.6 L273.3,401.0 L271.9,399.4 L270.4,397.8 L268.6,396.2 L266.7,394.7 L264.7,393.3 L262.4,391.8 L260.0,390.4 L257.5,389.1 L254.8,387.7 L251.9,386.5 L248.9,385.3 L245.8,384.1 L242.6,383.0 L239.2,381.9 L235.7,380.9 L232.1,380.0 L228.5,379.1 L224.7,378.3 L220.8,377.6 L216.9,376.9 L212.8,376.3 L208.7,375.7 L204.6,375.3 L200.4,374.9 L196.2,374.5 L191.9,374.3 L187.6,374.1 L183.3,374.0 L179.0,373.9 L174.7,374.0 L170.4,374.1 L166.1,374.3 L161.8,374.5 L157.6,374.9 L153.4,375.3 L149.3,375.7 L145.2,376.3 L141.1,376.9 L137.2,377.6 L133.3,378.3 L129.5,379.1 L125.9,380.0 L122.3,380.9 L118.8,381.9 L115.4,383.0 L112.2,384.1 L109.1,385.3 L106.1,386.5 L103.2,387.7 L100.5,389.1 L98.0,390.4 L95.6,391.8 L93.3,393.3 L91.3,394.7 L89.4,396.2 L87.6,397.8 L86.1,399.4 L84.7,401.0 L83.5,402.6 L82.4,404.2 L81.6,405.9 L80.9,407.5 L80.5,409.2 L80.2,410.9 L80.1,412.6 L85.5,425.0 L85.6,423.4 L85.9,421.8 L86.3,420.2 L86.9,418.6 L87.7,417.1 L88.7,415.5 L89.9,414.0 L91.2,412.5 L92.6,411.0 L94.3,409.5 L96.1,408.1 L98.0,406.7 L100.2,405.3 L102.4,404.0 L104.8,402.7 L107.4,401.5 L110.1,400.3 L112.9,399.1 L115.8,398.0 L118.9,397.0 L122.1,396.0 L125.4,395.0 L128.8,394.2 L132.3,393.3 L135.8,392.6 L139.5,391.9 L143.2,391.2 L147.0,390.6 L150.9,390.1 L154.8,389.7 L158.8,389.3 L162.8,389.0 L166.8,388.8 L170.9,388.6 L174.9,388.5 L179.0,388.4 L183.1,388.5 L187.1,388.6 L191.2,388.8 L195.2,389.0 L199.2,389.3 L203.2,389.7 L207.1,390.1 L211.0,390.6 L214.8,391.2 L218.5,391.9 L222.2,392.6 L225.7,393.3 L229.2,394.2 L232.6,395.0 L235.9,396.0 L239.1,397.0 L242.2,398.0 L245.1,399.1 L247.9,400.3 L250.6,401.5 L253.2,402.7 L255.6,404.0 L257.8,405.3 L260.0,406.7 L261.9,408.1 L263.7,409.5 L265.4,411.0 L266.8,412.5 L268.1,414.0 L269.3,415.5 L270.3,417.1 L271.1,418.6 L271.7,420.2 L272.1,421.8 L272.4,423.4 L272.5,425.0Z" fill="#2e2e2e"/>
<path d="M281.4,399.6 L281.3,397.9 L281.0,396.1 L280.5,394.4 L279.9,392.7 L279.0,391.0 L277.9,389.3 L276.7,387.6 L275.2,385.9 L273.6,384.3 L271.8,382.7 L269.8,381.1 L267.7,379.6 L265.4,378.1 L262.9,376.7 L260.3,375.3 L257.5,373.9 L254.5,372.6 L251.4,371.3 L248.2,370.1 L244.8,369.0 L241.3,367.9 L237.7,366.8 L234.0,365.9 L230.2,365.0 L226.3,364.1 L222.3,363.4 L218.2,362.7 L214.0,362.0 L209.8,361.5 L205.5,361.0 L201.2,360.6 L196.8,360.2 L192.4,359.9 L187.9,359.8 L183.5,359.6 L179.0,359.6 L174.5,359.6 L170.1,359.8 L165.6,359.9 L161.2,360.2 L156.8,360.6 L152.5,361.0 L148.2,361.5 L144.0,362.0 L139.8,362.7 L135.7,363.4 L131.7,364.1 L127.8,365.0 L124.0,365.9 L120.3,366.8 L116.7,367.9 L113.2,369.0 L109.8,370.1 L106.6,371.3 L103.5,372.6 L100.5,373.9 L97.7,375.3 L95.1,376.7 L92.6,378.1 L90.3,379.6 L88.2,381.1 L86.2,382.7 L84.4,384.3 L82.8,385.9 L81.3,387.6 L80.1,389.3 L79.0,391.0 L78.1,392.7 L77.5,394.4 L77.0,396.1 L76.7,397.9 L76.6,399.6 L80.1,412.6 L80.2,410.9 L80.5,409.2 L80.9,407.5 L81.6,405.9 L82.4,404.2 L83.5,402.6 L84.7,401.0 L86.1,399.4 L87.6,397.8 L89.4,396.2 L91.3,394.7 L93.3,393.3 L95.6,391.8 L98.0,390.4 L100.5,389.1 L103.2,387.7 L106.1,386.5 L109.1,385.3 L112.2,384.1 L115.4,383.0 L118.8,381.9 L122.3,380.9 L125.9,380.0 L129.5,379.1 L133.3,378.3 L137.2,377.6 L141.1,376.9 L145.2,376.3 L149.3,375.7 L153.4,375.3 L157.6,374.9 L161.8,374.5 L166.1,374.3 L170.4,374.1 L174.7,374.0 L179.0,373.9 L183.3,374.0 L187.6,374.1 L191.9,374.3 L196.2,374.5 L200.4,374.9 L204.6,375.3 L208.7,375.7 L212.8,376.3 L216.9,376.9 L220.8,377.6 L224.7,378.3 L228.5,379.1 L232.1,380.0 L235.7,380.9 L239.2,381.9 L242.6,383.0 L245.8,384.1 L248.9,385.3 L251.9,386.5 L254.8,387.7 L257.5,389.1 L260.0,390.4 L262.4,391.8 L264.7,393.3 L266.7,394.7 L268.6,396.2 L270.4,397.8 L271.9,399.4 L273.3,401.0 L274.5,402.6 L275.6,404.2 L276.4,405.9 L277.1,407.5 L277.5,409.2 L277.8,410.9 L277.9,412.6Z" fill="#101010"/>
<path d="M282.9,386.3 L282.8,384.6 L282.5,382.8 L282.0,381.0 L281.4,379.3 L280.5,377.6 L279.4,375.8 L278.1,374.1 L276.7,372.5 L275.0,370.8 L273.2,369.2 L271.2,367.6 L269.0,366.0 L266.7,364.5 L264.1,363.0 L261.5,361.6 L258.6,360.2 L255.6,358.9 L252.5,357.6 L249.2,356.4 L245.8,355.2 L242.3,354.1 L238.6,353.1 L234.8,352.1 L231.0,351.2 L227.0,350.3 L222.9,349.5 L218.8,348.8 L214.5,348.2 L210.3,347.6 L205.9,347.1 L201.5,346.7 L197.0,346.3 L192.6,346.1 L188.1,345.9 L183.5,345.8 L179.0,345.7 L174.5,345.8 L169.9,345.9 L165.4,346.1 L161.0,346.3 L156.5,346.7 L152.1,347.1 L147.7,347.6 L143.5,348.2 L139.2,348.8 L135.1,349.5 L131.0,350.3 L127.0,351.2 L123.2,352.1 L119.4,353.1 L115.7,354.1 L112.2,355.2 L108.8,356.4 L105.5,357.6 L102.4,358.9 L99.4,360.2 L96.5,361.6 L93.9,363.0 L91.3,364.5 L89.0,366.0 L86.8,367.6 L84.8,369.2 L83.0,370.8 L81.3,372.5 L79.9,374.1 L78.6,375.8 L77.5,377.6 L76.6,379.3 L76.0,381.0 L75.5,382.8 L75.2,384.6 L75.1,386.3 L76.6,399.6 L76.7,397.9 L77.0,396.1 L77.5,394.4 L78.1,392.7 L79.0,391.0 L80.1,389.3 L81.3,387.6 L82.8,385.9 L84.4,384.3 L86.2,382.7 L88.2,381.1 L90.3,379.6 L92.6,378.1 L95.1,376.7 L97.7,375.3 L100.5,373.9 L103.5,372.6 L106.6,371.3 L109.8,370.1 L113.2,369.0 L116.7,367.9 L120.3,366.8 L124.0,365.9 L127.8,365.0 L131.7,364.1 L135.7,363.4 L139.8,362.7 L144.0,362.0 L148.2,361.5 L152.5,361.0 L156.8,360.6 L161.2,360.2 L165.6,359.9 L170.1,359.8 L174.5,359.6 L179.0,359.6 L183.5,359.6 L187.9,359.8 L192.4,359.9 L196.8,360.2 L201.2,360.6 L205.5,361.0 L209.8,361.5 L214.0,362.0 L218.2,362.7 L222.3,363.4 L226.3,364.1 L230.2,365.0 L234.0,365.9 L237.7,366.8 L241.3,367.9 L244.8,369.0 L248.2,370.1 L251.4,371.3 L254.5,372.6 L257.5,373.9 L260.3,375.3 L262.9,376.7 L265.4,378.1 L267.7,379.6 L269.8,381.1 L271.8,382.7 L273.6,384.3 L275.2,385.9 L276.7,387.6 L277.9,389.3 L279.0,391.0 L279.9,392.7 L280.5,394.4 L281.0,396.1 L281.3,397.9 L281.4,399.6Z" fill="#2e2e2e"/>
<path d="M282.4,373.0 L282.3,371.2 L282.0,369.5 L281.5,367.7 L280.9,366.0 L280.0,364.2 L278.9,362.5 L277.6,360.8 L276.2,359.2 L274.6,357.5 L272.7,355.9 L270.7,354.3 L268.6,352.8 L266.2,351.3 L263.7,349.8 L261.1,348.4 L258.2,347.0 L255.3,345.7 L252.1,344.4 L248.9,343.2 L245.5,342.0 L242.0,340.9 L238.3,339.9 L234.6,338.9 L230.7,338.0 L226.8,337.1 L222.7,336.4 L218.6,335.7 L214.4,335.0 L210.1,334.5 L205.8,334.0 L201.4,333.5 L197.0,333.2 L192.5,332.9 L188.0,332.7 L183.5,332.6 L179.0,332.6 L174.5,332.6 L170.0,332.7 L165.5,332.9 L161.0,333.2 L156.6,333.5 L152.2,334.0 L147.9,334.5 L143.6,335.0 L139.4,335.7 L135.3,336.4 L131.2,337.1 L127.3,338.0 L123.4,338.9 L119.7,339.9 L116.0,340.9 L112.5,342.0 L109.1,343.2 L105.9,344.4 L102.7,345.7 L99.8,347.0 L96.9,348.4 L94.3,349.8 L91.8,351.3 L89.4,352.8 L87.3,354.3 L85.3,355.9 L83.4,357.5 L81.8,359.2 L80.4,360.8 L79.1,362.5 L78.0,364.2 L77.1,366.0 L76.5,367.7 L76.0,369.5 L75.7,371.2 L75.6,373.0 L75.1,386.3 L75.2,384.6 L75.5,382.8 L76.0,381.0 L76.6,379.3 L77.5,377.6 L78.6,375.8 L79.9,374.1 L81.3,372.5 L83.0,370.8 L84.8,369.2 L86.8,367.6 L89.0,366.0 L91.3,364.5 L93.9,363.0 L96.5,361.6 L99.4,360.2 L102.4,358.9 L105.5,357.6 L108.8,356.4 L112.2,355.2 L115.7,354.1 L119.4,353.1 L123.2,352.1 L127.0,351.2 L131.0,350.3 L135.1,349.5 L139.2,348.8 L143.5,348.2 L147.7,347.6 L152.1,347.1 L156.5,346.7 L161.0,346.3 L165.4,346.1 L169.9,345.9 L174.5,345.8 L179.0,345.7 L183.5,345.8 L188.1,345.9 L192.6,346.1 L197.0,346.3 L201.5,346.7 L205.9,347.1 L210.3,347.6 L214.5,348.2 L218.8,348.8 L222.9,349.5 L227.0,350.3 L231.0,351.2 L234.8,352.1 L238.6,353.1 L242.3,354.1 L245.8,355.2 L249.2,356.4 L252.5,357.6 L255.6,358.9 L258.6,360.2 L261.5,361.6 L264.1,363.0 L266.7,364.5 L269.0,366.0 L271.2,367.6 L273.2,369.2 L275.0,370.8 L276.7,372.5 L278.1,374.1 L279.4,375.8 L280.5,377.6 L281.4,379.3 L282.0,381.0 L282.5,382.8 L282.8,384.6 L282.9,386.3Z" fill="#101010"/>
<path d="M279.9,359.8 L279.8,358.1 L279.5,356.4 L279.0,354.7 L278.4,353.0 L277.5,351.3 L276.5,349.6 L275.2,348.0 L273.8,346.4 L272.2,344.8 L270.5,343.2 L268.5,341.6 L266.4,340.1 L264.1,338.7 L261.7,337.2 L259.1,335.8 L256.3,334.5 L253.4,333.2 L250.4,332.0 L247.2,330.8 L243.9,329.6 L240.4,328.6 L236.9,327.5 L233.2,326.6 L229.5,325.7 L225.6,324.9 L221.6,324.1 L217.6,323.4 L213.5,322.8 L209.3,322.2 L205.1,321.8 L200.8,321.3 L196.5,321.0 L192.2,320.7 L187.8,320.6 L183.4,320.4 L179.0,320.4 L174.6,320.4 L170.2,320.6 L165.8,320.7 L161.5,321.0 L157.2,321.3 L152.9,321.8 L148.7,322.2 L144.5,322.8 L140.4,323.4 L136.4,324.1 L132.4,324.9 L128.5,325.7 L124.8,326.6 L121.1,327.5 L117.6,328.6 L114.1,329.6 L110.8,330.8 L107.6,332.0 L104.6,333.2 L101.7,334.5 L98.9,335.8 L96.3,337.2 L93.9,338.7 L91.6,340.1 L89.5,341.6 L87.5,343.2 L85.8,344.8 L84.2,346.4 L82.8,348.0 L81.5,349.6 L80.5,351.3 L79.6,353.0 L79.0,354.7 L78.5,356.4 L78.2,358.1 L78.1,359.8 L75.6,373.0 L75.7,371.2 L76.0,369.5 L76.5,367.7 L77.1,366.0 L78.0,364.2 L79.1,362.5 L80.4,360.8 L81.8,359.2 L83.4,357.5 L85.3,355.9 L87.3,354.3 L89.4,352.8 L91.8,351.3 L94.3,349.8 L96.9,348.4 L99.8,347.0 L102.7,345.7 L105.9,344.4 L109.1,343.2 L112.5,342.0 L116.0,340.9 L119.7,339.9 L123.4,338.9 L127.3,338.0 L131.2,337.1 L135.3,336.4 L139.4,335.7 L143.6,335.0 L147.9,334.5 L152.2,334.0 L156.6,333.5 L161.0,333.2 L165.5,332.9 L170.0,332.7 L174.5,332.6 L179.0,332.6 L183.5,332.6 L188.0,332.7 L192.5,332.9 L197.0,333.2 L201.4,333.5 L205.8,334.0 L210.1,334.5 L214.4,335.0 L218.6,335.7 L222.7,336.4 L226.8,337.1 L230.7,338.0 L234.6,338.9 L238.3,339.9 L242.0,340.9 L245.5,342.0 L248.9,343.2 L252.1,344.4 L255.3,345.7 L258.2,347.0 L261.1,348.4 L263.7,349.8 L266.2,351.3 L268.6,352.8 L270.7,354.3 L272.7,355.9 L274.6,357.5 L276.2,359.2 L277.6,360.8 L278.9,362.5 L280.0,364.2 L280.9,366.0 L281.5,367.7 L282.0,369.5 L282.3,371.2 L282.4,373.0Z" fill="#2e2e2e"/>
<path d="M275.4,347.1 L275.3,345.5 L275.1,343.9 L274.6,342.2 L274.0,340.6 L273.1,339.0 L272.1,337.4 L271.0,335.8 L269.6,334.3 L268.1,332.7 L266.4,331.2 L264.5,329.7 L262.5,328.3 L260.3,326.9 L258.0,325.5 L255.5,324.2 L252.9,322.9 L250.1,321.7 L247.2,320.5 L244.1,319.4 L241.0,318.3 L237.7,317.2 L234.3,316.3 L230.8,315.4 L227.2,314.5 L223.5,313.7 L219.8,313.0 L215.9,312.3 L212.0,311.7 L208.0,311.2 L204.0,310.7 L199.9,310.4 L195.7,310.0 L191.6,309.8 L187.4,309.6 L183.2,309.5 L179.0,309.5 L174.8,309.5 L170.6,309.6 L166.4,309.8 L162.3,310.0 L158.1,310.4 L154.0,310.7 L150.0,311.2 L146.0,311.7 L142.1,312.3 L138.2,313.0 L134.5,313.7 L130.8,314.5 L127.2,315.4 L123.7,316.3 L120.3,317.2 L117.0,318.3 L113.9,319.4 L110.8,320.5 L107.9,321.7 L105.1,322.9 L102.5,324.2 L100.0,325.5 L97.7,326.9 L95.5,328.3 L93.5,329.7 L91.6,331.2 L89.9,332.7 L88.4,334.3 L87.0,335.8 L85.9,337.4 L84.9,339.0 L84.0,340.6 L83.4,342.2 L82.9,343.9 L82.7,345.5 L82.6,347.1 L78.1,359.8 L78.2,358.1 L78.5,356.4 L79.0,354.7 L79.6,353.0 L80.5,351.3 L81.5,349.6 L82.8,348.0 L84.2,346.4 L85.8,344.8 L87.5,343.2 L89.5,341.6 L91.6,340.1 L93.9,338.7 L96.3,337.2 L98.9,335.8 L101.7,334.5 L104.6,333.2 L107.6,332.0 L110.8,330.8 L114.1,329.6 L117.6,328.6 L121.1,327.5 L124.8,326.6 L128.5,325.7 L132.4,324.9 L136.4,324.1 L140.4,323.4 L144.5,322.8 L148.7,322.2 L152.9,321.8 L157.2,321.3 L161.5,321.0 L165.8,320.7 L170.2,320.6 L174.6,320.4 L179.0,320.4 L183.4,320.4 L187.8,320.6 L192.2,320.7 L196.5,321.0 L200.8,321.3 L205.1,321.8 L209.3,322.2 L213.5,322.8 L217.6,323.4 L221.6,324.1 L225.6,324.9 L229.5,325.7 L233.2,326.6 L236.9,327.5 L240.4,328.6 L243.9,329.6 L247.2,330.8 L250.4,332.0 L253.4,333.2 L256.3,334.5 L259.1,335.8 L261.7,337.2 L264.1,338.7 L266.4,340.1 L268.5,341.6 L270.5,343.2 L272.2,344.8 L273.8,346.4 L275.2,348.0 L276.5,349.6 L277.5,351.3 L278.4,353.0 L279.0,354.7 L279.5,356.4 L279.8,358.1 L279.9,359.8Z" fill="#101010"/>
<path d="M269.1,335.1 L269.0,333.6 L268.7,332.1 L268.3,330.5 L267.7,329.0 L266.9,327.5 L266.0,326.0 L264.9,324.6 L263.6,323.1 L262.2,321.7 L260.6,320.3 L258.9,318.9 L257.0,317.5 L255.0,316.2 L252.8,314.9 L250.5,313.7 L248.0,312.5 L245.4,311.4 L242.7,310.2 L239.8,309.2 L236.9,308.2 L233.8,307.2 L230.7,306.3 L227.4,305.5 L224.0,304.7 L220.6,303.9 L217.1,303.2 L213.5,302.6 L209.8,302.1 L206.1,301.6 L202.3,301.1 L198.5,300.8 L194.6,300.5 L190.8,300.2 L186.8,300.1 L182.9,300.0 L179.0,299.9 L175.1,300.0 L171.2,300.1 L167.2,300.2 L163.4,300.5 L159.5,300.8 L155.7,301.1 L151.9,301.6 L148.2,302.1 L144.5,302.6 L140.9,303.2 L137.4,303.9 L134.0,304.7 L130.6,305.5 L127.3,306.3 L124.2,307.2 L121.1,308.2 L118.2,309.2 L115.3,310.2 L112.6,311.4 L110.0,312.5 L107.5,313.7 L105.2,314.9 L103.0,316.2 L101.0,317.5 L99.1,318.9 L97.4,320.3 L95.8,321.7 L94.4,323.1 L93.1,324.6 L92.0,326.0 L91.1,327.5 L90.3,329.0 L89.7,330.5 L89.3,332.1 L89.0,333.6 L88.9,335.1 L82.6,347.1 L82.7,345.5 L82.9,343.9 L83.4,342.2 L84.0,340.6 L84.9,339.0 L85.9,337.4 L87.0,335.8 L88.4,334.3 L89.9,332.7 L91.6,331.2 L93.5,329.7 L95.5,328.3 L97.7,326.9 L100.0,325.5 L102.5,324.2 L105.1,322.9 L107.9,321.7 L110.8,320.5 L113.9,319.4 L117.0,318.3 L120.3,317.2 L123.7,316.3 L127.2,315.4 L130.8,314.5 L134.5,313.7 L138.2,313.0 L142.1,312.3 L146.0,311.7 L150.0,311.2 L154.0,310.7 L158.1,310.4 L162.3,310.0 L166.4,309.8 L170.6,309.6 L174.8,309.5 L179.0,309.5 L183.2,309.5 L187.4,309.6 L191.6,309.8 L195.7,310.0 L199.9,310.4 L204.0,310.7 L208.0,311.2 L212.0,311.7 L215.9,312.3 L219.8,313.0 L223.5,313.7 L227.2,314.5 L230.8,315.4 L234.3,316.3 L237.7,317.2 L241.0,318.3 L244.1,319.4 L247.2,320.5 L250.1,321.7 L252.9,322.9 L255.5,324.2 L258.0,325.5 L260.3,326.9 L262.5,328.3 L264.5,329.7 L266.4,331.2 L268.1,332.7 L269.6,334.3 L271.0,335.8 L272.1,337.4 L273.1,339.0 L274.0,340.6 L274.6,342.2 L275.1,343.9 L275.3,345.5 L275.4,347.1Z" fill="#2e2e2e"/>
<path d="M261.0,324.1 L260.9,322.7 L260.6,321.3 L260.3,319.9 L259.7,318.5 L259.0,317.1 L258.2,315.8 L257.2,314.4 L256.0,313.1 L254.7,311.8 L253.3,310.5 L251.7,309.3 L250.0,308.1 L248.1,306.9 L246.1,305.7 L244.0,304.6 L241.8,303.5 L239.4,302.4 L236.9,301.4 L234.4,300.5 L231.7,299.5 L228.9,298.7 L226.0,297.8 L223.0,297.1 L220.0,296.3 L216.8,295.7 L213.6,295.0 L210.4,294.5 L207.0,294.0 L203.6,293.5 L200.2,293.1 L196.7,292.8 L193.2,292.5 L189.7,292.3 L186.1,292.2 L182.6,292.1 L179.0,292.0 L175.4,292.1 L171.9,292.2 L168.3,292.3 L164.8,292.5 L161.3,292.8 L157.8,293.1 L154.4,293.5 L151.0,294.0 L147.6,294.5 L144.4,295.0 L141.2,295.7 L138.0,296.3 L135.0,297.1 L132.0,297.8 L129.1,298.7 L126.3,299.5 L123.6,300.5 L121.1,301.4 L118.6,302.4 L116.2,303.5 L114.0,304.6 L111.9,305.7 L109.9,306.9 L108.0,308.1 L106.3,309.3 L104.7,310.5 L103.3,311.8 L102.0,313.1 L100.8,314.4 L99.8,315.8 L99.0,317.1 L98.3,318.5 L97.7,319.9 L97.4,321.3 L97.1,322.7 L97.0,324.1 L88.9,335.1 L89.0,333.6 L89.3,332.1 L89.7,330.5 L90.3,329.0 L91.1,327.5 L92.0,326.0 L93.1,324.6 L94.4,323.1 L95.8,321.7 L97.4,320.3 L99.1,318.9 L101.0,317.5 L103.0,316.2 L105.2,314.9 L107.5,313.7 L110.0,312.5 L112.6,311.4 L115.3,310.2 L118.2,309.2 L121.1,308.2 L124.2,307.2 L127.3,306.3 L130.6,305.5 L134.0,304.7 L137.4,303.9 L140.9,303.2 L144.5,302.6 L148.2,302.1 L151.9,301.6 L155.7,301.1 L159.5,300.8 L163.4,300.5 L167.2,300.2 L171.2,300.1 L175.1,300.0 L179.0,299.9 L182.9,300.0 L186.8,300.1 L190.8,300.2 L194.6,300.5 L198.5,300.8 L202.3,301.1 L206.1,301.6 L209.8,302.1 L213.5,302.6 L217.1,303.2 L220.6,303.9 L224.0,304.7 L227.4,305.5 L230.7,306.3 L233.8,307.2 L236.9,308.2 L239.8,309.2 L242.7,310.2 L245.4,311.4 L248.0,312.5 L250.5,313.7 L252.8,314.9 L255.0,316.2 L257.0,317.5 L258.9,318.9 L260.6,320.3 L262.2,321.7 L263.6,323.1 L264.9,324.6 L266.0,326.0 L266.9,327.5 L267.7,329.0 L268.3,330.5 L268.7,332.1 L269.0,333.6 L269.1,335.1Z" fill="#101010"/>
<path d="M251.2,314.1 L251.2,312.9 L251.0,311.7 L250.6,310.5 L250.1,309.2 L249.5,308.0 L248.8,306.8 L247.9,305.6 L246.9,304.5 L245.7,303.3 L244.5,302.2 L243.1,301.1 L241.6,300.0 L239.9,299.0 L238.2,297.9 L236.3,297.0 L234.3,296.0 L232.3,295.1 L230.1,294.2 L227.8,293.3 L225.4,292.5 L223.0,291.7 L220.4,291.0 L217.8,290.3 L215.1,289.7 L212.4,289.1 L209.5,288.6 L206.6,288.1 L203.7,287.6 L200.7,287.2 L197.7,286.9 L194.6,286.6 L191.5,286.3 L188.4,286.1 L185.3,286.0 L182.2,285.9 L179.0,285.9 L175.8,285.9 L172.7,286.0 L169.6,286.1 L166.5,286.3 L163.4,286.6 L160.3,286.9 L157.3,287.2 L154.3,287.6 L151.4,288.1 L148.5,288.6 L145.6,289.1 L142.9,289.7 L140.2,290.3 L137.6,291.0 L135.0,291.7 L132.6,292.5 L130.2,293.3 L127.9,294.2 L125.7,295.1 L123.7,296.0 L121.7,297.0 L119.8,297.9 L118.1,299.0 L116.4,300.0 L114.9,301.1 L113.5,302.2 L112.3,303.3 L111.1,304.5 L110.1,305.6 L109.2,306.8 L108.5,308.0 L107.9,309.2 L107.4,310.5 L107.0,311.7 L106.8,312.9 L106.8,314.1 L97.0,324.1 L97.1,322.7 L97.4,321.3 L97.7,319.9 L98.3,318.5 L99.0,317.1 L99.8,315.8 L100.8,314.4 L102.0,313.1 L103.3,311.8 L104.7,310.5 L106.3,309.3 L108.0,308.1 L109.9,306.9 L111.9,305.7 L114.0,304.6 L116.2,303.5 L118.6,302.4 L121.1,301.4 L123.6,300.5 L126.3,299.5 L129.1,298.7 L132.0,297.8 L135.0,297.1 L138.0,296.3 L141.2,295.7 L144.4,295.0 L147.6,294.5 L151.0,294.0 L154.4,293.5 L157.8,293.1 L161.3,292.8 L164.8,292.5 L168.3,292.3 L171.9,292.2 L175.4,292.1 L179.0,292.0 L182.6,292.1 L186.1,292.2 L189.7,292.3 L193.2,292.5 L196.7,292.8 L200.2,293.1 L203.6,293.5 L207.0,294.0 L210.4,294.5 L213.6,295.0 L216.8,295.7 L220.0,296.3 L223.0,297.1 L226.0,297.8 L228.9,298.7 L231.7,299.5 L234.4,300.5 L236.9,301.4 L239.4,302.4 L241.8,303.5 L244.0,304.6 L246.1,305.7 L248.1,306.9 L250.0,308.1 L251.7,309.3 L253.3,310.5 L254.7,311.8 L256.0,313.1 L257.2,314.4 L258.2,315.8 L259.0,317.1 L259.7,318.5 L260.3,319.9 L260.6,321.3 L260.9,322.7 L261.0,324.1Z" fill="#2e2e2e"/>
<path d="M240.1,305.6 L240.1,304.5 L239.9,303.5 L239.6,302.4 L239.2,301.4 L238.7,300.4 L238.0,299.4 L237.3,298.4 L236.4,297.4 L235.5,296.4 L234.4,295.5 L233.2,294.5 L231.9,293.6 L230.6,292.7 L229.1,291.9 L227.5,291.0 L225.8,290.2 L224.1,289.4 L222.2,288.7 L220.3,287.9 L218.3,287.3 L216.2,286.6 L214.1,286.0 L211.8,285.4 L209.6,284.9 L207.2,284.4 L204.8,283.9 L202.4,283.5 L199.9,283.1 L197.4,282.8 L194.8,282.5 L192.2,282.2 L189.6,282.0 L187.0,281.9 L184.3,281.8 L181.7,281.7 L179.0,281.7 L176.3,281.7 L173.7,281.8 L171.0,281.9 L168.4,282.0 L165.8,282.2 L163.2,282.5 L160.6,282.8 L158.1,283.1 L155.6,283.5 L153.2,283.9 L150.8,284.4 L148.4,284.9 L146.2,285.4 L143.9,286.0 L141.8,286.6 L139.7,287.3 L137.7,287.9 L135.8,288.7 L133.9,289.4 L132.2,290.2 L130.5,291.0 L128.9,291.9 L127.4,292.7 L126.1,293.6 L124.8,294.5 L123.6,295.5 L122.5,296.4 L121.6,297.4 L120.7,298.4 L120.0,299.4 L119.3,300.4 L118.8,301.4 L118.4,302.4 L118.1,303.5 L117.9,304.5 L117.9,305.6 L106.8,314.1 L106.8,312.9 L107.0,311.7 L107.4,310.5 L107.9,309.2 L108.5,308.0 L109.2,306.8 L110.1,305.6 L111.1,304.5 L112.3,303.3 L113.5,302.2 L114.9,301.1 L116.4,300.0 L118.1,299.0 L119.8,297.9 L121.7,297.0 L123.7,296.0 L125.7,295.1 L127.9,294.2 L130.2,293.3 L132.6,292.5 L135.0,291.7 L137.6,291.0 L140.2,290.3 L142.9,289.7 L145.6,289.1 L148.5,288.6 L151.4,288.1 L154.3,287.6 L157.3,287.2 L160.3,286.9 L163.4,286.6 L166.5,286.3 L169.6,286.1 L172.7,286.0 L175.8,285.9 L179.0,285.9 L182.2,285.9 L185.3,286.0 L188.4,286.1 L191.5,286.3 L194.6,286.6 L197.7,286.9 L200.7,287.2 L203.7,287.6 L206.6,288.1 L209.5,288.6 L212.4,289.1 L215.1,289.7 L217.8,290.3 L220.4,291.0 L223.0,291.7 L225.4,292.5 L227.8,293.3 L230.1,294.2 L232.3,295.1 L234.3,296.0 L236.3,297.0 L238.2,297.9 L239.9,299.0 L241.6,300.0 L243.1,301.1 L244.5,302.2 L245.7,303.3 L246.9,304.5 L247.9,305.6 L248.8,306.8 L249.5,308.0 L250.1,309.2 L250.6,310.5 L251.0,311.7 L251.2,312.9 L251.2,314.1Z" fill="#101010"/>
<path d="M227.8,298.5 L227.8,297.6 L227.6,296.8 L227.4,296.0 L227.1,295.2 L226.7,294.3 L226.2,293.5 L225.6,292.7 L224.9,291.9 L224.1,291.2 L223.3,290.4 L222.3,289.7 L221.3,288.9 L220.2,288.2 L219.0,287.5 L217.7,286.9 L216.4,286.2 L215.0,285.6 L213.5,285.0 L212.0,284.4 L210.4,283.9 L208.7,283.3 L207.0,282.8 L205.2,282.4 L203.4,282.0 L201.5,281.6 L199.6,281.2 L197.7,280.8 L195.7,280.5 L193.7,280.3 L191.6,280.0 L189.6,279.8 L187.5,279.7 L185.4,279.6 L183.3,279.5 L181.1,279.4 L179.0,279.4 L176.9,279.4 L174.7,279.5 L172.6,279.6 L170.5,279.7 L168.4,279.8 L166.4,280.0 L164.3,280.3 L162.3,280.5 L160.3,280.8 L158.4,281.2 L156.5,281.6 L154.6,282.0 L152.8,282.4 L151.0,282.8 L149.3,283.3 L147.6,283.9 L146.0,284.4 L144.5,285.0 L143.0,285.6 L141.6,286.2 L140.3,286.9 L139.0,287.5 L137.8,288.2 L136.7,288.9 L135.7,289.7 L134.7,290.4 L133.9,291.2 L133.1,291.9 L132.4,292.7 L131.8,293.5 L131.3,294.3 L130.9,295.2 L130.6,296.0 L130.4,296.8 L130.2,297.6 L130.2,298.5 L117.9,305.6 L117.9,304.5 L118.1,303.5 L118.4,302.4 L118.8,301.4 L119.3,300.4 L120.0,299.4 L120.7,298.4 L121.6,297.4 L122.5,296.4 L123.6,295.5 L124.8,294.5 L126.1,293.6 L127.4,292.7 L128.9,291.9 L130.5,291.0 L132.2,290.2 L133.9,289.4 L135.8,288.7 L137.7,287.9 L139.7,287.3 L141.8,286.6 L143.9,286.0 L146.2,285.4 L148.4,284.9 L150.8,284.4 L153.2,283.9 L155.6,283.5 L158.1,283.1 L160.6,282.8 L163.2,282.5 L165.8,282.2 L168.4,282.0 L171.0,281.9 L173.7,281.8 L176.3,281.7 L179.0,281.7 L181.7,281.7 L184.3,281.8 L187.0,281.9 L189.6,282.0 L192.2,282.2 L194.8,282.5 L197.4,282.8 L199.9,283.1 L202.4,283.5 L204.8,283.9 L207.2,284.4 L209.6,284.9 L211.8,285.4 L214.1,286.0 L216.2,286.6 L218.3,287.3 L220.3,287.9 L222.2,288.7 L224.1,289.4 L225.8,290.2 L227.5,291.0 L229.1,291.9 L230.6,292.7 L231.9,293.6 L233.2,294.5 L234.4,295.5 L235.5,296.4 L236.4,297.4 L237.3,298.4 L238.0,299.4 L238.7,300.4 L239.2,301.4 L239.6,302.4 L239.9,303.5 L240.1,304.5 L240.1,305.6Z" fill="#2e2e2e"/>
<path d="M214.6,293.0 L214.5,292.4 L214.4,291.8 L214.3,291.2 L214.0,290.6 L213.7,290.0 L213.4,289.4 L212.9,288.9 L212.4,288.3 L211.9,287.7 L211.2,287.2 L210.6,286.6 L209.8,286.1 L209.0,285.6 L208.1,285.1 L207.2,284.6 L206.2,284.1 L205.2,283.7 L204.2,283.2 L203.0,282.8 L201.9,282.4 L200.7,282.0 L199.4,281.7 L198.1,281.3 L196.8,281.0 L195.4,280.7 L194.0,280.4 L192.6,280.2 L191.2,280.0 L189.7,279.8 L188.2,279.6 L186.7,279.5 L185.2,279.4 L183.6,279.3 L182.1,279.2 L180.6,279.2 L179.0,279.1 L177.4,279.2 L175.9,279.2 L174.4,279.3 L172.8,279.4 L171.3,279.5 L169.8,279.6 L168.3,279.8 L166.8,280.0 L165.4,280.2 L164.0,280.4 L162.6,280.7 L161.2,281.0 L159.9,281.3 L158.6,281.7 L157.3,282.0 L156.1,282.4 L155.0,282.8 L153.8,283.2 L152.8,283.7 L151.8,284.1 L150.8,284.6 L149.9,285.1 L149.0,285.6 L148.2,286.1 L147.4,286.6 L146.8,287.2 L146.1,287.7 L145.6,288.3 L145.1,288.9 L144.6,289.4 L144.3,290.0 L144.0,290.6 L143.7,291.2 L143.6,291.8 L143.5,292.4 L143.4,293.0 L130.2,298.5 L130.2,297.6 L130.4,296.8 L130.6,296.0 L130.9,295.2 L131.3,294.3 L131.8,293.5 L132.4,292.7 L133.1,291.9 L133.9,291.2 L134.7,290.4 L135.7,289.7 L136.7,288.9 L137.8,288.2 L139.0,287.5 L140.3,286.9 L141.6,286.2 L143.0,285.6 L144.5,285.0 L146.0,284.4 L147.6,283.9 L149.3,283.3 L151.0,282.8 L152.8,282.4 L154.6,282.0 L156.5,281.6 L158.4,281.2 L160.3,280.8 L162.3,280.5 L164.3,280.3 L166.4,280.0 L168.4,279.8 L170.5,279.7 L172.6,279.6 L174.7,279.5 L176.9,279.4 L179.0,279.4 L181.1,279.4 L183.3,279.5 L185.4,279.6 L187.5,279.7 L189.6,279.8 L191.6,280.0 L193.7,280.3 L195.7,280.5 L197.7,280.8 L199.6,281.2 L201.5,281.6 L203.4,282.0 L205.2,282.4 L207.0,282.8 L208.7,283.3 L210.4,283.9 L212.0,284.4 L213.5,285.0 L215.0,285.6 L216.4,286.2 L217.7,286.9 L219.0,287.5 L220.2,288.2 L221.3,288.9 L222.3,289.7 L223.3,290.4 L224.1,291.2 L224.9,291.9 L225.6,292.7 L226.2,293.5 L226.7,294.3 L227.1,295.2 L227.4,296.0 L227.6,296.8 L227.8,297.6 L227.8,298.5Z" fill="#101010"/>
<path d="M200.6,289.4 L200.6,289.0 L200.5,288.6 L200.4,288.3 L200.3,287.9 L200.1,287.5 L199.9,287.2 L199.6,286.8 L199.3,286.5 L199.0,286.1 L198.6,285.8 L198.2,285.5 L197.7,285.1 L197.2,284.8 L196.7,284.5 L196.2,284.2 L195.6,283.9 L194.9,283.7 L194.3,283.4 L193.6,283.1 L192.9,282.9 L192.2,282.7 L191.4,282.4 L190.6,282.2 L189.8,282.0 L189.0,281.9 L188.1,281.7 L187.3,281.6 L186.4,281.4 L185.5,281.3 L184.6,281.2 L183.7,281.1 L182.8,281.0 L181.8,281.0 L180.9,280.9 L179.9,280.9 L179.0,280.9 L178.1,280.9 L177.1,280.9 L176.2,281.0 L175.2,281.0 L174.3,281.1 L173.4,281.2 L172.5,281.3 L171.6,281.4 L170.7,281.6 L169.9,281.7 L169.0,281.9 L168.2,282.0 L167.4,282.2 L166.6,282.4 L165.8,282.7 L165.1,282.9 L164.4,283.1 L163.7,283.4 L163.1,283.7 L162.4,283.9 L161.8,284.2 L161.3,284.5 L160.8,284.8 L160.3,285.1 L159.8,285.5 L159.4,285.8 L159.0,286.1 L158.7,286.5 L158.4,286.8 L158.1,287.2 L157.9,287.5 L157.7,287.9 L157.6,288.3 L157.5,288.6 L157.4,289.0 L157.4,289.4 L143.4,293.0 L143.5,292.4 L143.6,291.8 L143.7,291.2 L144.0,290.6 L144.3,290.0 L144.6,289.4 L145.1,288.9 L145.6,288.3 L146.1,287.7 L146.8,287.2 L147.4,286.6 L148.2,286.1 L149.0,285.6 L149.9,285.1 L150.8,284.6 L151.8,284.1 L152.8,283.7 L153.8,283.2 L155.0,282.8 L156.1,282.4 L157.3,282.0 L158.6,281.7 L159.9,281.3 L161.2,281.0 L162.6,280.7 L164.0,280.4 L165.4,280.2 L166.8,280.0 L168.3,279.8 L169.8,279.6 L171.3,279.5 L172.8,279.4 L174.4,279.3 L175.9,279.2 L177.4,279.2 L179.0,279.1 L180.6,279.2 L182.1,279.2 L183.6,279.3 L185.2,279.4 L186.7,279.5 L188.2,279.6 L189.7,279.8 L191.2,280.0 L192.6,280.2 L194.0,280.4 L195.4,280.7 L196.8,281.0 L198.1,281.3 L199.4,281.7 L200.7,282.0 L201.9,282.4 L203.0,282.8 L204.2,283.2 L205.2,283.7 L206.2,284.1 L207.2,284.6 L208.1,285.1 L209.0,285.6 L209.8,286.1 L210.6,286.6 L211.2,287.2 L211.9,287.7 L212.4,288.3 L212.9,288.9 L213.4,289.4 L213.7,290.0 L214.0,290.6 L214.3,291.2 L214.4,291.8 L214.5,292.4 L214.6,293.0Z" fill="#2e2e2e"/>
<path d="M186.3,287.5 L186.2,287.4 L186.2,287.3 L186.2,287.1 L186.1,287.0 L186.1,286.9 L186.0,286.8 L185.9,286.6 L185.8,286.5 L185.7,286.4 L185.6,286.3 L185.4,286.2 L185.3,286.1 L185.1,286.0 L184.9,285.9 L184.8,285.8 L184.6,285.7 L184.3,285.6 L184.1,285.5 L183.9,285.4 L183.7,285.3 L183.4,285.3 L183.2,285.2 L182.9,285.1 L182.6,285.0 L182.3,285.0 L182.1,284.9 L181.8,284.9 L181.5,284.8 L181.2,284.8 L180.9,284.8 L180.6,284.7 L180.3,284.7 L179.9,284.7 L179.6,284.7 L179.3,284.7 L179.0,284.7 L178.7,284.7 L178.4,284.7 L178.1,284.7 L177.7,284.7 L177.4,284.7 L177.1,284.8 L176.8,284.8 L176.5,284.8 L176.2,284.9 L175.9,284.9 L175.7,285.0 L175.4,285.0 L175.1,285.1 L174.8,285.2 L174.6,285.3 L174.3,285.3 L174.1,285.4 L173.9,285.5 L173.7,285.6 L173.4,285.7 L173.2,285.8 L173.1,285.9 L172.9,286.0 L172.7,286.1 L172.6,286.2 L172.4,286.3 L172.3,286.4 L172.2,286.5 L172.1,286.6 L172.0,286.8 L171.9,286.9 L171.9,287.0 L171.8,287.1 L171.8,287.3 L171.8,287.4 L171.7,287.5 L157.4,289.4 L157.4,289.0 L157.5,288.6 L157.6,288.3 L157.7,287.9 L157.9,287.5 L158.1,287.2 L158.4,286.8 L158.7,286.5 L159.0,286.1 L159.4,285.8 L159.8,285.5 L160.3,285.1 L160.8,284.8 L161.3,284.5 L161.8,284.2 L162.4,283.9 L163.1,283.7 L163.7,283.4 L164.4,283.1 L165.1,282.9 L165.8,282.7 L166.6,282.4 L167.4,282.2 L168.2,282.0 L169.0,281.9 L169.9,281.7 L170.7,281.6 L171.6,281.4 L172.5,281.3 L173.4,281.2 L174.3,281.1 L175.2,281.0 L176.2,281.0 L177.1,280.9 L178.1,280.9 L179.0,280.9 L179.9,280.9 L180.9,280.9 L181.8,281.0 L182.8,281.0 L183.7,281.1 L184.6,281.2 L185.5,281.3 L186.4,281.4 L187.3,281.6 L188.1,281.7 L189.0,281.9 L189.8,282.0 L190.6,282.2 L191.4,282.4 L192.2,282.7 L192.9,282.9 L193.6,283.1 L194.3,283.4 L194.9,283.7 L195.6,283.9 L196.2,284.2 L196.7,284.5 L197.2,284.8 L197.7,285.1 L198.2,285.5 L198.6,285.8 L199.0,286.1 L199.3,286.5 L199.6,286.8 L199.9,287.2 L200.1,287.5 L200.3,287.9 L200.4,288.3 L200.5,288.6 L200.6,289.0 L200.6,289.4Z" fill="#101010"/>
<path d="M147.4,481.8 L151.4,482.8 L155.7,483.7 L160.2,484.4 L164.7,485.0 L169.4,485.4 L174.2,485.6 L179.0,485.7 L183.8,485.6 L188.6,485.4 L193.3,485.0 L197.8,484.4 L202.3,483.7 L206.6,482.8 L210.6,481.8 L203.3,484.0 L200.2,484.8 L196.9,485.4 L193.5,486.0 L189.9,486.4 L186.3,486.7 L182.7,486.9 L179.0,487.0 L175.3,486.9 L171.7,486.7 L168.1,486.4 L164.5,486.0 L161.1,485.4 L157.8,484.8 L154.7,484.0Z" fill="#222222" opacity="1.0"/>
<path d="M127.8,473.1 L131.7,474.8 L136.0,476.3 L140.7,477.7 L145.6,479.0 L150.7,480.0 L156.1,480.9 L161.7,481.6 L167.4,482.1 L173.2,482.4 L179.0,482.5 L184.8,482.4 L190.6,482.1 L196.3,481.6 L201.9,480.9 L207.3,480.0 L212.4,479.0 L217.3,477.7 L222.0,476.3 L226.3,474.8 L230.2,473.1 L221.2,478.0 L218.0,479.4 L214.4,480.7 L210.6,481.8 L206.6,482.8 L202.3,483.7 L197.8,484.4 L193.3,485.0 L188.6,485.4 L183.8,485.6 L179.0,485.7 L174.2,485.6 L169.4,485.4 L164.7,485.0 L160.2,484.4 L155.7,483.7 L151.4,482.8 L147.4,481.8 L143.6,480.7 L140.0,479.4 L136.8,478.0Z" fill="#525252" opacity="1.0"/>
<path d="M112.1,462.2 L115.7,464.4 L119.8,466.5 L124.3,468.4 L129.3,470.2 L134.7,471.8 L140.4,473.2 L146.3,474.4 L152.6,475.4 L159.0,476.2 L165.6,476.8 L172.3,477.1 L179.0,477.3 L185.7,477.1 L192.4,476.8 L199.0,476.2 L205.4,475.4 L211.7,474.4 L217.6,473.2 L223.3,471.8 L228.7,470.2 L233.7,468.4 L238.2,466.5 L242.3,464.4 L245.9,462.2 L236.9,469.4 L233.8,471.3 L230.2,473.1 L226.3,474.8 L222.0,476.3 L217.3,477.7 L212.4,479.0 L207.3,480.0 L201.9,480.9 L196.3,481.6 L190.6,482.1 L184.8,482.4 L179.0,482.5 L173.2,482.4 L167.4,482.1 L161.7,481.6 L156.1,480.9 L150.7,480.0 L145.6,479.0 L140.7,477.7 L136.0,476.3 L131.7,474.8 L127.8,473.1 L124.2,471.3 L121.1,469.4Z" fill="#222222" opacity="1.0"/>
<path d="M98.0,448.1 L100.9,450.8 L104.3,453.4 L108.4,455.9 L113.0,458.2 L118.0,460.4 L123.6,462.3 L129.5,464.1 L135.9,465.7 L142.6,467.1 L149.5,468.2 L156.7,469.1 L164.0,469.7 L171.5,470.1 L179.0,470.2 L186.5,470.1 L194.0,469.7 L201.3,469.1 L208.5,468.2 L215.4,467.1 L222.1,465.7 L228.5,464.1 L234.4,462.3 L240.0,460.4 L245.0,458.2 L249.6,455.9 L253.7,453.4 L257.1,450.8 L260.0,448.1 L251.6,457.4 L249.0,459.8 L245.9,462.2 L242.3,464.4 L238.2,466.5 L233.7,468.4 L228.7,470.2 L223.3,471.8 L217.6,473.2 L211.7,474.4 L205.4,475.4 L199.0,476.2 L192.4,476.8 L185.7,477.1 L179.0,477.3 L172.3,477.1 L165.6,476.8 L159.0,476.2 L152.6,475.4 L146.3,474.4 L140.4,473.2 L134.7,471.8 L129.3,470.2 L124.3,468.4 L119.8,466.5 L115.7,464.4 L112.1,462.2 L109.0,459.8 L106.4,457.4Z" fill="#525252" opacity="1.0"/>
<path d="M88.7,434.4 L91.2,437.5 L94.3,440.4 L98.0,443.2 L102.4,445.9 L107.4,448.4 L112.9,450.8 L118.9,452.9 L125.4,454.9 L132.3,456.6 L139.5,458.1 L147.0,459.3 L154.8,460.2 L162.8,460.9 L170.9,461.4 L179.0,461.5 L187.1,461.4 L195.2,460.9 L203.2,460.2 L211.0,459.3 L218.5,458.1 L225.7,456.6 L232.6,454.9 L239.1,452.9 L245.1,450.8 L250.6,448.4 L255.6,445.9 L260.0,443.2 L263.7,440.4 L266.8,437.5 L269.3,434.4 L262.3,445.3 L260.0,448.1 L257.1,450.8 L253.7,453.4 L249.6,455.9 L245.0,458.2 L240.0,460.4 L234.4,462.3 L228.5,464.1 L222.1,465.7 L215.4,467.1 L208.5,468.2 L201.3,469.1 L194.0,469.7 L186.5,470.1 L179.0,470.2 L171.5,470.1 L164.0,469.7 L156.7,469.1 L149.5,468.2 L142.6,467.1 L135.9,465.7 L129.5,464.1 L123.6,462.3 L118.0,460.4 L113.0,458.2 L108.4,455.9 L104.3,453.4 L100.9,450.8 L98.0,448.1 L95.7,445.3Z" fill="#222222" opacity="1.0"/>
<path d="M81.6,419.3 L83.5,422.6 L86.1,425.8 L89.4,428.9 L93.3,431.9 L98.0,434.8 L103.2,437.4 L109.1,439.9 L115.4,442.2 L122.3,444.2 L129.5,446.1 L137.2,447.6 L145.2,448.9 L153.4,449.9 L161.8,450.6 L170.4,451.1 L179.0,451.2 L187.6,451.1 L196.2,450.6 L204.6,449.9 L212.8,448.9 L220.8,447.6 L228.5,446.1 L235.7,444.2 L242.6,442.2 L248.9,439.9 L254.8,437.4 L260.0,434.8 L264.7,431.9 L268.6,428.9 L271.9,425.8 L274.5,422.6 L276.4,419.3 L271.1,431.3 L269.3,434.4 L266.8,437.5 L263.7,440.4 L260.0,443.2 L255.6,445.9 L250.6,448.4 L245.1,450.8 L239.1,452.9 L232.6,454.9 L225.7,456.6 L218.5,458.1 L211.0,459.3 L203.2,460.2 L195.2,460.9 L187.1,461.4 L179.0,461.5 L170.9,461.4 L162.8,460.9 L154.8,460.2 L147.0,459.3 L139.5,458.1 L132.3,456.6 L125.4,454.9 L118.9,452.9 L112.9,450.8 L107.4,448.4 L102.4,445.9 L98.0,443.2 L94.3,440.4 L91.2,437.5 L88.7,434.4 L86.9,431.3Z" fill="#525252" opacity="1.0"/>
<path d="M78.1,406.6 L80.1,410.0 L82.8,413.3 L86.2,416.5 L90.3,419.6 L95.1,422.6 L100.5,425.3 L106.6,427.9 L113.2,430.3 L120.3,432.4 L127.8,434.3 L135.7,435.9 L144.0,437.2 L152.5,438.3 L161.2,439.0 L170.1,439.5 L179.0,439.6 L187.9,439.5 L196.8,439.0 L205.5,438.3 L214.0,437.2 L222.3,435.9 L230.2,434.3 L237.7,432.4 L244.8,430.3 L251.4,427.9 L257.5,425.3 L262.9,422.6 L267.7,419.6 L271.8,416.5 L275.2,413.3 L277.9,410.0 L279.9,406.6 L276.4,419.3 L274.5,422.6 L271.9,425.8 L268.6,428.9 L264.7,431.9 L260.0,434.8 L254.8,437.4 L248.9,439.9 L242.6,442.2 L235.7,444.2 L228.5,446.1 L220.8,447.6 L212.8,448.9 L204.6,449.9 L196.2,450.6 L187.6,451.1 L179.0,451.2 L170.4,451.1 L161.8,450.6 L153.4,449.9 L145.2,448.9 L137.2,447.6 L129.5,446.1 L122.3,444.2 L115.4,442.2 L109.1,439.9 L103.2,437.4 L98.0,434.8 L93.3,431.9 L89.4,428.9 L86.1,425.8 L83.5,422.6 L81.6,419.3Z" fill="#222222" opacity="1.0"/>
<path d="M75.5,389.9 L76.6,393.4 L78.6,396.9 L81.3,400.2 L84.8,403.5 L89.0,406.6 L93.9,409.6 L99.4,412.4 L105.5,415.1 L112.2,417.5 L119.4,419.6 L127.0,421.5 L135.1,423.1 L143.5,424.5 L152.1,425.6 L161.0,426.3 L169.9,426.8 L179.0,427.0 L188.1,426.8 L197.0,426.3 L205.9,425.6 L214.5,424.5 L222.9,423.1 L231.0,421.5 L238.6,419.6 L245.8,417.5 L252.5,415.1 L258.6,412.4 L264.1,409.6 L269.0,406.6 L273.2,403.5 L276.7,400.2 L279.4,396.9 L281.4,393.4 L282.5,389.9 L281.0,403.1 L279.9,406.6 L277.9,410.0 L275.2,413.3 L271.8,416.5 L267.7,419.6 L262.9,422.6 L257.5,425.3 L251.4,427.9 L244.8,430.3 L237.7,432.4 L230.2,434.3 L222.3,435.9 L214.0,437.2 L205.5,438.3 L196.8,439.0 L187.9,439.5 L179.0,439.6 L170.1,439.5 L161.2,439.0 L152.5,438.3 L144.0,437.2 L135.7,435.9 L127.8,434.3 L120.3,432.4 L113.2,430.3 L106.6,427.9 L100.5,425.3 L95.1,422.6 L90.3,419.6 L86.2,416.5 L82.8,413.3 L80.1,410.0 L78.1,406.6 L77.0,403.1Z" fill="#525252" opacity="1.0"/>
<path d="M75.6,373.0 L76.0,376.5 L77.1,380.0 L79.1,383.5 L81.8,386.8 L85.3,390.1 L89.4,393.2 L94.3,396.2 L99.8,399.0 L105.9,401.6 L112.5,404.0 L119.7,406.1 L127.3,408.0 L135.3,409.6 L143.6,411.0 L152.2,412.0 L161.0,412.8 L170.0,413.3 L179.0,413.4 L188.0,413.3 L197.0,412.8 L205.8,412.0 L214.4,411.0 L222.7,409.6 L230.7,408.0 L238.3,406.1 L245.5,404.0 L252.1,401.6 L258.2,399.0 L263.7,396.2 L268.6,393.2 L272.7,390.1 L276.2,386.8 L278.9,383.5 L280.9,380.0 L282.0,376.5 L282.4,373.0 L282.9,386.3 L282.5,389.9 L281.4,393.4 L279.4,396.9 L276.7,400.2 L273.2,403.5 L269.0,406.6 L264.1,409.6 L258.6,412.4 L252.5,415.1 L245.8,417.5 L238.6,419.6 L231.0,421.5 L222.9,423.1 L214.5,424.5 L205.9,425.6 L197.0,426.3 L188.1,426.8 L179.0,427.0 L169.9,426.8 L161.0,426.3 L152.1,425.6 L143.5,424.5 L135.1,423.1 L127.0,421.5 L119.4,419.6 L112.2,417.5 L105.5,415.1 L99.4,412.4 L93.9,409.6 L89.0,406.6 L84.8,403.5 L81.3,400.2 L78.6,396.9 L76.6,393.4 L75.5,389.9 L75.1,386.3Z" fill="#222222" opacity="1.0"/>
<path d="M78.1,359.8 L78.5,363.3 L79.6,366.7 L81.5,370.0 L84.2,373.3 L87.5,376.5 L91.6,379.6 L96.3,382.5 L101.7,385.2 L107.6,387.7 L114.1,390.0 L121.1,392.1 L128.5,394.0 L136.4,395.6 L144.5,396.9 L152.9,397.9 L161.5,398.7 L170.2,399.1 L179.0,399.3 L187.8,399.1 L196.5,398.7 L205.1,397.9 L213.5,396.9 L221.6,395.6 L229.5,394.0 L236.9,392.1 L243.9,390.0 L250.4,387.7 L256.3,385.2 L261.7,382.5 L266.4,379.6 L270.5,376.5 L273.8,373.3 L276.5,370.0 L278.4,366.7 L279.5,363.3 L279.9,359.8 L282.4,373.0 L282.0,376.5 L280.9,380.0 L278.9,383.5 L276.2,386.8 L272.7,390.1 L268.6,393.2 L263.7,396.2 L258.2,399.0 L252.1,401.6 L245.5,404.0 L238.3,406.1 L230.7,408.0 L222.7,409.6 L214.4,411.0 L205.8,412.0 L197.0,412.8 L188.0,413.3 L179.0,413.4 L170.0,413.3 L161.0,412.8 L152.2,412.0 L143.6,411.0 L135.3,409.6 L127.3,408.0 L119.7,406.1 L112.5,404.0 L105.9,401.6 L99.8,399.0 L94.3,396.2 L89.4,393.2 L85.3,390.1 L81.8,386.8 L79.1,383.5 L77.1,380.0 L76.0,376.5 L75.6,373.0Z" fill="#525252" opacity="1.0"/>
<path d="M82.9,343.9 L82.6,347.1 L82.9,350.4 L84.0,353.7 L85.9,356.9 L88.4,360.0 L91.6,363.1 L95.5,366.0 L100.0,368.7 L105.1,371.4 L110.8,373.8 L117.0,376.0 L123.7,378.0 L130.8,379.8 L138.2,381.3 L146.0,382.5 L154.0,383.5 L162.3,384.2 L170.6,384.7 L179.0,384.8 L187.4,384.7 L195.7,384.2 L204.0,383.5 L212.0,382.5 L219.8,381.3 L227.2,379.8 L234.3,378.0 L241.0,376.0 L247.2,373.8 L252.9,371.4 L258.0,368.7 L262.5,366.0 L266.4,363.1 L269.6,360.0 L272.1,356.9 L274.0,353.7 L275.1,350.4 L275.4,347.1 L275.1,343.9 L279.5,356.4 L279.9,359.8 L279.5,363.3 L278.4,366.7 L276.5,370.0 L273.8,373.3 L270.5,376.5 L266.4,379.6 L261.7,382.5 L256.3,385.2 L250.4,387.7 L243.9,390.0 L236.9,392.1 L229.5,394.0 L221.6,395.6 L213.5,396.9 L205.1,397.9 L196.5,398.7 L187.8,399.1 L179.0,399.3 L170.2,399.1 L161.5,398.7 L152.9,397.9 L144.5,396.9 L136.4,395.6 L128.5,394.0 L121.1,392.1 L114.1,390.0 L107.6,387.7 L101.7,385.2 L96.3,382.5 L91.6,379.6 L87.5,376.5 L84.2,373.3 L81.5,370.0 L79.6,366.7 L78.5,363.3 L78.1,359.8 L78.5,356.4Z" fill="#222222" opacity="1.0"/>
<path d="M90.3,329.0 L89.3,332.1 L88.9,335.1 L89.3,338.2 L90.3,341.2 L92.0,344.2 L94.4,347.2 L97.4,350.0 L101.0,352.7 L105.2,355.3 L110.0,357.8 L115.3,360.0 L121.1,362.1 L127.3,364.0 L134.0,365.6 L140.9,367.0 L148.2,368.2 L155.7,369.1 L163.4,369.8 L171.2,370.2 L179.0,370.3 L186.8,370.2 L194.6,369.8 L202.3,369.1 L209.8,368.2 L217.1,367.0 L224.0,365.6 L230.7,364.0 L236.9,362.1 L242.7,360.0 L248.0,357.8 L252.8,355.3 L257.0,352.7 L260.6,350.0 L263.6,347.2 L266.0,344.2 L267.7,341.2 L268.7,338.2 L269.1,335.1 L268.7,332.1 L267.7,329.0 L274.0,340.6 L275.1,343.9 L275.4,347.1 L275.1,350.4 L274.0,353.7 L272.1,356.9 L269.6,360.0 L266.4,363.1 L262.5,366.0 L258.0,368.7 L252.9,371.4 L247.2,373.8 L241.0,376.0 L234.3,378.0 L227.2,379.8 L219.8,381.3 L212.0,382.5 L204.0,383.5 L195.7,384.2 L187.4,384.7 L179.0,384.8 L170.6,384.7 L162.3,384.2 L154.0,383.5 L146.0,382.5 L138.2,381.3 L130.8,379.8 L123.7,378.0 L117.0,376.0 L110.8,373.8 L105.1,371.4 L100.0,368.7 L95.5,366.0 L91.6,363.1 L88.4,360.0 L85.9,356.9 L84.0,353.7 L82.9,350.4 L82.6,347.1 L82.9,343.9 L84.0,340.6Z" fill="#525252" opacity="1.0"/>
<path d="M99.8,315.8 L98.3,318.5 L97.4,321.3 L97.0,324.1 L97.4,326.9 L98.3,329.6 L99.8,332.3 L102.0,335.0 L104.7,337.6 L108.0,340.1 L111.9,342.4 L116.2,344.6 L121.1,346.7 L126.3,348.6 L132.0,350.3 L138.0,351.8 L144.4,353.1 L151.0,354.2 L157.8,355.0 L164.8,355.6 L171.9,356.0 L179.0,356.1 L186.1,356.0 L193.2,355.6 L200.2,355.0 L207.0,354.2 L213.6,353.1 L220.0,351.8 L226.0,350.3 L231.7,348.6 L236.9,346.7 L241.8,344.6 L246.1,342.4 L250.0,340.1 L253.3,337.6 L256.0,335.0 L258.2,332.3 L259.7,329.6 L260.6,326.9 L261.0,324.1 L260.6,321.3 L259.7,318.5 L258.2,315.8 L266.0,326.0 L267.7,329.0 L268.7,332.1 L269.1,335.1 L268.7,338.2 L267.7,341.2 L266.0,344.2 L263.6,347.2 L260.6,350.0 L257.0,352.7 L252.8,355.3 L248.0,357.8 L242.7,360.0 L236.9,362.1 L230.7,364.0 L224.0,365.6 L217.1,367.0 L209.8,368.2 L202.3,369.1 L194.6,369.8 L186.8,370.2 L179.0,370.3 L171.2,370.2 L163.4,369.8 L155.7,369.1 L148.2,368.2 L140.9,367.0 L134.0,365.6 L127.3,364.0 L121.1,362.1 L115.3,360.0 L110.0,357.8 L105.2,355.3 L101.0,352.7 L97.4,350.0 L94.4,347.2 L92.0,344.2 L90.3,341.2 L89.3,338.2 L88.9,335.1 L89.3,332.1 L90.3,329.0 L92.0,326.0Z" fill="#222222" opacity="1.0"/>
<path d="M111.1,304.5 L109.2,306.8 L107.9,309.2 L107.0,311.7 L106.8,314.1 L107.0,316.6 L107.9,319.0 L109.2,321.4 L111.1,323.8 L113.5,326.1 L116.4,328.2 L119.8,330.3 L123.7,332.3 L127.9,334.1 L132.6,335.8 L137.6,337.3 L142.9,338.6 L148.5,339.7 L154.3,340.7 L160.3,341.4 L166.5,341.9 L172.7,342.3 L179.0,342.4 L185.3,342.3 L191.5,341.9 L197.7,341.4 L203.7,340.7 L209.5,339.7 L215.1,338.6 L220.4,337.3 L225.4,335.8 L230.1,334.1 L234.3,332.3 L238.2,330.3 L241.6,328.2 L244.5,326.1 L246.9,323.8 L248.8,321.4 L250.1,319.0 L251.0,316.6 L251.2,314.1 L251.0,311.7 L250.1,309.2 L248.8,306.8 L246.9,304.5 L256.0,313.1 L258.2,315.8 L259.7,318.5 L260.6,321.3 L261.0,324.1 L260.6,326.9 L259.7,329.6 L258.2,332.3 L256.0,335.0 L253.3,337.6 L250.0,340.1 L246.1,342.4 L241.8,344.6 L236.9,346.7 L231.7,348.6 L226.0,350.3 L220.0,351.8 L213.6,353.1 L207.0,354.2 L200.2,355.0 L193.2,355.6 L186.1,356.0 L179.0,356.1 L171.9,356.0 L164.8,355.6 L157.8,355.0 L151.0,354.2 L144.4,353.1 L138.0,351.8 L132.0,350.3 L126.3,348.6 L121.1,346.7 L116.2,344.6 L111.9,342.4 L108.0,340.1 L104.7,337.6 L102.0,335.0 L99.8,332.3 L98.3,329.6 L97.4,326.9 L97.0,324.1 L97.4,321.3 L98.3,318.5 L99.8,315.8 L102.0,313.1Z" fill="#525252" opacity="1.0"/>
<path d="M126.1,293.6 L123.6,295.5 L121.6,297.4 L120.0,299.4 L118.8,301.4 L118.1,303.5 L117.9,305.6 L118.1,307.6 L118.8,309.7 L120.0,311.7 L121.6,313.7 L123.6,315.6 L126.1,317.5 L128.9,319.3 L132.2,320.9 L135.8,322.4 L139.7,323.8 L143.9,325.1 L148.4,326.2 L153.2,327.2 L158.1,328.0 L163.2,328.6 L168.4,329.1 L173.7,329.3 L179.0,329.4 L184.3,329.3 L189.6,329.1 L194.8,328.6 L199.9,328.0 L204.8,327.2 L209.6,326.2 L214.1,325.1 L218.3,323.8 L222.2,322.4 L225.8,320.9 L229.1,319.3 L231.9,317.5 L234.4,315.6 L236.4,313.7 L238.0,311.7 L239.2,309.7 L239.9,307.6 L240.1,305.6 L239.9,303.5 L239.2,301.4 L238.0,299.4 L236.4,297.4 L234.4,295.5 L231.9,293.6 L241.6,300.0 L244.5,302.2 L246.9,304.5 L248.8,306.8 L250.1,309.2 L251.0,311.7 L251.2,314.1 L251.0,316.6 L250.1,319.0 L248.8,321.4 L246.9,323.8 L244.5,326.1 L241.6,328.2 L238.2,330.3 L234.3,332.3 L230.1,334.1 L225.4,335.8 L220.4,337.3 L215.1,338.6 L209.5,339.7 L203.7,340.7 L197.7,341.4 L191.5,341.9 L185.3,342.3 L179.0,342.4 L172.7,342.3 L166.5,341.9 L160.3,341.4 L154.3,340.7 L148.5,339.7 L142.9,338.6 L137.6,337.3 L132.6,335.8 L127.9,334.1 L123.7,332.3 L119.8,330.3 L116.4,328.2 L113.5,326.1 L111.1,323.8 L109.2,321.4 L107.9,319.0 L107.0,316.6 L106.8,314.1 L107.0,311.7 L107.9,309.2 L109.2,306.8 L111.1,304.5 L113.5,302.2 L116.4,300.0Z" fill="#222222" opacity="1.0"/>
<path d="M141.6,286.2 L139.0,287.5 L136.7,288.9 L134.7,290.4 L133.1,291.9 L131.8,293.5 L130.9,295.2 L130.4,296.8 L130.2,298.5 L130.4,300.1 L130.9,301.8 L131.8,303.4 L133.1,305.0 L134.7,306.5 L136.7,308.0 L139.0,309.4 L141.6,310.7 L144.5,312.0 L147.6,313.1 L151.0,314.1 L154.6,315.0 L158.4,315.8 L162.3,316.4 L166.4,316.9 L170.5,317.3 L174.7,317.5 L179.0,317.6 L183.3,317.5 L187.5,317.3 L191.6,316.9 L195.7,316.4 L199.6,315.8 L203.4,315.0 L207.0,314.1 L210.4,313.1 L213.5,312.0 L216.4,310.7 L219.0,309.4 L221.3,308.0 L223.3,306.5 L224.9,305.0 L226.2,303.4 L227.1,301.8 L227.6,300.1 L227.8,298.5 L227.6,296.8 L227.1,295.2 L226.2,293.5 L224.9,291.9 L223.3,290.4 L221.3,288.9 L219.0,287.5 L216.4,286.2 L225.8,290.2 L229.1,291.9 L231.9,293.6 L234.4,295.5 L236.4,297.4 L238.0,299.4 L239.2,301.4 L239.9,303.5 L240.1,305.6 L239.9,307.6 L239.2,309.7 L238.0,311.7 L236.4,313.7 L234.4,315.6 L231.9,317.5 L229.1,319.3 L225.8,320.9 L222.2,322.4 L218.3,323.8 L214.1,325.1 L209.6,326.2 L204.8,327.2 L199.9,328.0 L194.8,328.6 L189.6,329.1 L184.3,329.3 L179.0,329.4 L173.7,329.3 L168.4,329.1 L163.2,328.6 L158.1,328.0 L153.2,327.2 L148.4,326.2 L143.9,325.1 L139.7,323.8 L135.8,322.4 L132.2,320.9 L128.9,319.3 L126.1,317.5 L123.6,315.6 L121.6,313.7 L120.0,311.7 L118.8,309.7 L118.1,307.6 L117.9,305.6 L118.1,303.5 L118.8,301.4 L120.0,299.4 L121.6,297.4 L123.6,295.5 L126.1,293.6 L128.9,291.9 L132.2,290.2Z" fill="#525252" opacity="1.0"/>
<path d="M166.8,280.0 L164.0,280.4 L161.2,281.0 L158.6,281.7 L156.1,282.4 L153.8,283.2 L151.8,284.1 L149.9,285.1 L148.2,286.1 L146.8,287.2 L145.6,288.3 L144.6,289.4 L144.0,290.6 L143.6,291.8 L143.4,293.0 L143.6,294.3 L144.0,295.5 L144.6,296.6 L145.6,297.8 L146.8,298.9 L148.2,300.0 L149.9,301.0 L151.8,302.0 L153.8,302.9 L156.1,303.7 L158.6,304.4 L161.2,305.1 L164.0,305.6 L166.8,306.1 L169.8,306.5 L172.8,306.7 L175.9,306.9 L179.0,306.9 L182.1,306.9 L185.2,306.7 L188.2,306.5 L191.2,306.1 L194.0,305.6 L196.8,305.1 L199.4,304.4 L201.9,303.7 L204.2,302.9 L206.2,302.0 L208.1,301.0 L209.8,300.0 L211.2,298.9 L212.4,297.8 L213.4,296.6 L214.0,295.5 L214.4,294.3 L214.6,293.0 L214.4,291.8 L214.0,290.6 L213.4,289.4 L212.4,288.3 L211.2,287.2 L209.8,286.1 L208.1,285.1 L206.2,284.1 L204.2,283.2 L201.9,282.4 L199.4,281.7 L196.8,281.0 L194.0,280.4 L191.2,280.0 L195.7,280.5 L199.6,281.2 L203.4,282.0 L207.0,282.8 L210.4,283.9 L213.5,285.0 L216.4,286.2 L219.0,287.5 L221.3,288.9 L223.3,290.4 L224.9,291.9 L226.2,293.5 L227.1,295.2 L227.6,296.8 L227.8,298.5 L227.6,300.1 L227.1,301.8 L226.2,303.4 L224.9,305.0 L223.3,306.5 L221.3,308.0 L219.0,309.4 L216.4,310.7 L213.5,312.0 L210.4,313.1 L207.0,314.1 L203.4,315.0 L199.6,315.8 L195.7,316.4 L191.6,316.9 L187.5,317.3 L183.3,317.5 L179.0,317.6 L174.7,317.5 L170.5,317.3 L166.4,316.9 L162.3,316.4 L158.4,315.8 L154.6,315.0 L151.0,314.1 L147.6,313.1 L144.5,312.0 L141.6,310.7 L139.0,309.4 L136.7,308.0 L134.7,306.5 L133.1,305.0 L131.8,303.4 L130.9,301.8 L130.4,300.1 L130.2,298.5 L130.4,296.8 L130.9,295.2 L131.8,293.5 L133.1,291.9 L134.7,290.4 L136.7,288.9 L139.0,287.5 L141.6,286.2 L144.5,285.0 L147.6,283.9 L151.0,282.8 L154.6,282.0 L158.4,281.2 L162.3,280.5Z" fill="#222222" opacity="1.0"/>
<path d="M179.0,280.9 L177.1,280.9 L175.2,281.0 L173.4,281.2 L171.6,281.4 L169.9,281.7 L168.2,282.0 L166.6,282.4 L165.1,282.9 L163.7,283.4 L162.4,283.9 L161.3,284.5 L160.3,285.1 L159.4,285.8 L158.7,286.5 L158.1,287.2 L157.7,287.9 L157.5,288.6 L157.4,289.4 L157.5,290.1 L157.7,290.8 L158.1,291.5 L158.7,292.2 L159.4,292.9 L160.3,293.6 L161.3,294.2 L162.4,294.8 L163.7,295.3 L165.1,295.8 L166.6,296.3 L168.2,296.7 L169.9,297.0 L171.6,297.3 L173.4,297.5 L175.2,297.7 L177.1,297.8 L179.0,297.8 L180.9,297.8 L182.8,297.7 L184.6,297.5 L186.4,297.3 L188.1,297.0 L189.8,296.7 L191.4,296.3 L192.9,295.8 L194.3,295.3 L195.6,294.8 L196.7,294.2 L197.7,293.6 L198.6,292.9 L199.3,292.2 L199.9,291.5 L200.3,290.8 L200.5,290.1 L200.6,289.4 L200.5,288.6 L200.3,287.9 L199.9,287.2 L199.3,286.5 L198.6,285.8 L197.7,285.1 L196.7,284.5 L195.6,283.9 L194.3,283.4 L192.9,282.9 L191.4,282.4 L189.8,282.0 L188.1,281.7 L186.4,281.4 L184.6,281.2 L182.8,281.0 L180.9,280.9 L179.0,280.9 L179.0,279.1 L182.1,279.2 L185.2,279.4 L188.2,279.6 L191.2,280.0 L194.0,280.4 L196.8,281.0 L199.4,281.7 L201.9,282.4 L204.2,283.2 L206.2,284.1 L208.1,285.1 L209.8,286.1 L211.2,287.2 L212.4,288.3 L213.4,289.4 L214.0,290.6 L214.4,291.8 L214.6,293.0 L214.4,294.3 L214.0,295.5 L213.4,296.6 L212.4,297.8 L211.2,298.9 L209.8,300.0 L208.1,301.0 L206.2,302.0 L204.2,302.9 L201.9,303.7 L199.4,304.4 L196.8,305.1 L194.0,305.6 L191.2,306.1 L188.2,306.5 L185.2,306.7 L182.1,306.9 L179.0,306.9 L175.9,306.9 L172.8,306.7 L169.8,306.5 L166.8,306.1 L164.0,305.6 L161.2,305.1 L158.6,304.4 L156.1,303.7 L153.8,302.9 L151.8,302.0 L149.9,301.0 L148.2,300.0 L146.8,298.9 L145.6,297.8 L144.6,296.6 L144.0,295.5 L143.6,294.3 L143.4,293.0 L143.6,291.8 L144.0,290.6 L144.6,289.4 L145.6,288.3 L146.8,287.2 L148.2,286.1 L149.9,285.1 L151.8,284.1 L153.8,283.2 L156.1,282.4 L158.6,281.7 L161.2,281.0 L164.0,280.4 L166.8,280.0 L169.8,279.6 L172.8,279.4 L175.9,279.2 L179.0,279.1Z" fill="#525252" opacity="1.0"/>
<path d="M179.0,284.7 L178.4,284.7 L177.7,284.7 L177.1,284.8 L176.5,284.8 L175.9,284.9 L175.4,285.0 L174.8,285.2 L174.3,285.3 L173.9,285.5 L173.4,285.7 L173.1,285.9 L172.7,286.1 L172.4,286.3 L172.2,286.5 L172.0,286.8 L171.9,287.0 L171.8,287.3 L171.7,287.5 L171.8,287.7 L171.9,288.0 L172.0,288.2 L172.2,288.5 L172.4,288.7 L172.7,288.9 L173.1,289.1 L173.4,289.3 L173.9,289.5 L174.3,289.7 L174.8,289.8 L175.4,290.0 L175.9,290.1 L176.5,290.2 L177.1,290.2 L177.7,290.3 L178.4,290.3 L179.0,290.3 L179.6,290.3 L180.3,290.3 L180.9,290.2 L181.5,290.2 L182.1,290.1 L182.6,290.0 L183.2,289.8 L183.7,289.7 L184.1,289.5 L184.6,289.3 L184.9,289.1 L185.3,288.9 L185.6,288.7 L185.8,288.5 L186.0,288.2 L186.1,288.0 L186.2,287.7 L186.3,287.5 L186.2,287.3 L186.1,287.0 L186.0,286.8 L185.8,286.5 L185.6,286.3 L185.3,286.1 L184.9,285.9 L184.6,285.7 L184.1,285.5 L183.7,285.3 L183.2,285.2 L182.6,285.0 L182.1,284.9 L181.5,284.8 L180.9,284.8 L180.3,284.7 L179.6,284.7 L179.0,284.7 L179.0,280.9 L180.9,280.9 L182.8,281.0 L184.6,281.2 L186.4,281.4 L188.1,281.7 L189.8,282.0 L191.4,282.4 L192.9,282.9 L194.3,283.4 L195.6,283.9 L196.7,284.5 L197.7,285.1 L198.6,285.8 L199.3,286.5 L199.9,287.2 L200.3,287.9 L200.5,288.6 L200.6,289.4 L200.5,290.1 L200.3,290.8 L199.9,291.5 L199.3,292.2 L198.6,292.9 L197.7,293.6 L196.7,294.2 L195.6,294.8 L194.3,295.3 L192.9,295.8 L191.4,296.3 L189.8,296.7 L188.1,297.0 L186.4,297.3 L184.6,297.5 L182.8,297.7 L180.9,297.8 L179.0,297.8 L177.1,297.8 L175.2,297.7 L173.4,297.5 L171.6,297.3 L169.9,297.0 L168.2,296.7 L166.6,296.3 L165.1,295.8 L163.7,295.3 L162.4,294.8 L161.3,294.2 L160.3,293.6 L159.4,292.9 L158.7,292.2 L158.1,291.5 L157.7,290.8 L157.5,290.1 L157.4,289.4 L157.5,288.6 L157.7,287.9 L158.1,287.2 L158.7,286.5 L159.4,285.8 L160.3,285.1 L161.3,284.5 L162.4,283.9 L163.7,283.4 L165.1,282.9 L166.6,282.4 L168.2,282.0 L169.9,281.7 L171.6,281.4 L173.4,281.2 L175.2,281.0 L177.1,280.9 L179.0,280.9Z" fill="#222222" opacity="1.0"/>
<circle cx="179" cy="383" r="103.5" fill="url(#shellShade)"/>
<circle cx="181" cy="382" r="84" fill="#0a0a0a" opacity="0.6" transform="translate(0,3)"/>
<circle cx="181" cy="382" r="84" fill="url(#gBlue)"/>
<rect x="97" y="298" width="168" height="168" fill="url(#landGrad)" mask="url(#landMask1)"/>
<circle cx="181" cy="382" r="84" fill="url(#gShade)"/>
<g clip-path="url(#gclip1)"><path d="M147.4,481.8 L151.4,482.8 L155.7,483.7 L160.2,484.4 L164.7,485.0 L169.4,485.4 L174.2,485.6 L179.0,485.7 L183.8,485.6 L188.6,485.4 L193.3,485.0 L197.8,484.4 L202.3,483.7 L206.6,482.8 L210.6,481.8 L203.3,484.0 L200.2,484.8 L196.9,485.4 L193.5,486.0 L189.9,486.4 L186.3,486.7 L182.7,486.9 L179.0,487.0 L175.3,486.9 L171.7,486.7 L168.1,486.4 L164.5,486.0 L161.1,485.4 L157.8,484.8 L154.7,484.0Z" fill="#222222" opacity="0.55"/>
<path d="M127.8,473.1 L131.7,474.8 L136.0,476.3 L140.7,477.7 L145.6,479.0 L150.7,480.0 L156.1,480.9 L161.7,481.6 L167.4,482.1 L173.2,482.4 L179.0,482.5 L184.8,482.4 L190.6,482.1 L196.3,481.6 L201.9,480.9 L207.3,480.0 L212.4,479.0 L217.3,477.7 L222.0,476.3 L226.3,474.8 L230.2,473.1 L221.2,478.0 L218.0,479.4 L214.4,480.7 L210.6,481.8 L206.6,482.8 L202.3,483.7 L197.8,484.4 L193.3,485.0 L188.6,485.4 L183.8,485.6 L179.0,485.7 L174.2,485.6 L169.4,485.4 L164.7,485.0 L160.2,484.4 L155.7,483.7 L151.4,482.8 L147.4,481.8 L143.6,480.7 L140.0,479.4 L136.8,478.0Z" fill="#525252" opacity="0.55"/>
<path d="M112.1,462.2 L115.7,464.4 L119.8,466.5 L124.3,468.4 L129.3,470.2 L134.7,471.8 L140.4,473.2 L146.3,474.4 L152.6,475.4 L159.0,476.2 L165.6,476.8 L172.3,477.1 L179.0,477.3 L185.7,477.1 L192.4,476.8 L199.0,476.2 L205.4,475.4 L211.7,474.4 L217.6,473.2 L223.3,471.8 L228.7,470.2 L233.7,468.4 L238.2,466.5 L242.3,464.4 L245.9,462.2 L236.9,469.4 L233.8,471.3 L230.2,473.1 L226.3,474.8 L222.0,476.3 L217.3,477.7 L212.4,479.0 L207.3,480.0 L201.9,480.9 L196.3,481.6 L190.6,482.1 L184.8,482.4 L179.0,482.5 L173.2,482.4 L167.4,482.1 L161.7,481.6 L156.1,480.9 L150.7,480.0 L145.6,479.0 L140.7,477.7 L136.0,476.3 L131.7,474.8 L127.8,473.1 L124.2,471.3 L121.1,469.4Z" fill="#222222" opacity="0.55"/>
<path d="M98.0,448.1 L100.9,450.8 L104.3,453.4 L108.4,455.9 L113.0,458.2 L118.0,460.4 L123.6,462.3 L129.5,464.1 L135.9,465.7 L142.6,467.1 L149.5,468.2 L156.7,469.1 L164.0,469.7 L171.5,470.1 L179.0,470.2 L186.5,470.1 L194.0,469.7 L201.3,469.1 L208.5,468.2 L215.4,467.1 L222.1,465.7 L228.5,464.1 L234.4,462.3 L240.0,460.4 L245.0,458.2 L249.6,455.9 L253.7,453.4 L257.1,450.8 L260.0,448.1 L251.6,457.4 L249.0,459.8 L245.9,462.2 L242.3,464.4 L238.2,466.5 L233.7,468.4 L228.7,470.2 L223.3,471.8 L217.6,473.2 L211.7,474.4 L205.4,475.4 L199.0,476.2 L192.4,476.8 L185.7,477.1 L179.0,477.3 L172.3,477.1 L165.6,476.8 L159.0,476.2 L152.6,475.4 L146.3,474.4 L140.4,473.2 L134.7,471.8 L129.3,470.2 L124.3,468.4 L119.8,466.5 L115.7,464.4 L112.1,462.2 L109.0,459.8 L106.4,457.4Z" fill="#525252" opacity="0.55"/>
<path d="M88.7,434.4 L91.2,437.5 L94.3,440.4 L98.0,443.2 L102.4,445.9 L107.4,448.4 L112.9,450.8 L118.9,452.9 L125.4,454.9 L132.3,456.6 L139.5,458.1 L147.0,459.3 L154.8,460.2 L162.8,460.9 L170.9,461.4 L179.0,461.5 L187.1,461.4 L195.2,460.9 L203.2,460.2 L211.0,459.3 L218.5,458.1 L225.7,456.6 L232.6,454.9 L239.1,452.9 L245.1,450.8 L250.6,448.4 L255.6,445.9 L260.0,443.2 L263.7,440.4 L266.8,437.5 L269.3,434.4 L262.3,445.3 L260.0,448.1 L257.1,450.8 L253.7,453.4 L249.6,455.9 L245.0,458.2 L240.0,460.4 L234.4,462.3 L228.5,464.1 L222.1,465.7 L215.4,467.1 L208.5,468.2 L201.3,469.1 L194.0,469.7 L186.5,470.1 L179.0,470.2 L171.5,470.1 L164.0,469.7 L156.7,469.1 L149.5,468.2 L142.6,467.1 L135.9,465.7 L129.5,464.1 L123.6,462.3 L118.0,460.4 L113.0,458.2 L108.4,455.9 L104.3,453.4 L100.9,450.8 L98.0,448.1 L95.7,445.3Z" fill="#222222" opacity="0.55"/></g>
</g>
<g>
<circle cx="179" cy="1131" r="104" fill="#0e0e0e"/>
<path d="M193.5,1225.8 L193.5,1225.6 L193.4,1225.3 L193.4,1225.1 L193.3,1224.8 L193.1,1224.6 L193.0,1224.3 L192.8,1224.1 L192.6,1223.9 L192.4,1223.6 L192.1,1223.4 L191.8,1223.2 L191.5,1223.0 L191.2,1222.8 L190.9,1222.6 L190.5,1222.4 L190.1,1222.2 L189.7,1222.0 L189.2,1221.8 L188.8,1221.6 L188.3,1221.5 L187.8,1221.3 L187.3,1221.2 L186.8,1221.0 L186.2,1220.9 L185.7,1220.8 L185.1,1220.7 L184.5,1220.6 L184.0,1220.5 L183.4,1220.4 L182.7,1220.3 L182.1,1220.3 L181.5,1220.2 L180.9,1220.2 L180.3,1220.2 L179.6,1220.2 L179.0,1220.1 L178.4,1220.2 L177.7,1220.2 L177.1,1220.2 L176.5,1220.2 L175.9,1220.3 L175.3,1220.3 L174.6,1220.4 L174.0,1220.5 L173.5,1220.6 L172.9,1220.7 L172.3,1220.8 L171.8,1220.9 L171.2,1221.0 L170.7,1221.2 L170.2,1221.3 L169.7,1221.5 L169.2,1221.6 L168.8,1221.8 L168.3,1222.0 L167.9,1222.2 L167.5,1222.4 L167.1,1222.6 L166.8,1222.8 L166.5,1223.0 L166.2,1223.2 L165.9,1223.4 L165.6,1223.6 L165.4,1223.9 L165.2,1224.1 L165.0,1224.3 L164.9,1224.6 L164.7,1224.8 L164.6,1225.1 L164.6,1225.3 L164.5,1225.6 L164.5,1225.8 L179.0,1226.7 L179.0,1226.7 L179.0,1226.7 L179.0,1226.7 L179.0,1226.7 L179.0,1226.7 L179.0,1226.7 L179.0,1226.7 L179.0,1226.7 L179.0,1226.7 L179.0,1226.7 L179.0,1226.7 L179.0,1226.7 L179.0,1226.7 L179.0,1226.7 L179.0,1226.7 L179.0,1226.7 L179.0,1226.7 L179.0,1226.7 L179.0,1226.7 L179.0,1226.7 L179.0,1226.7 L179.0,1226.7 L179.0,1226.7 L179.0,1226.7 L179.0,1226.7 L179.0,1226.7 L179.0,1226.7 L179.0,1226.7 L179.0,1226.7 L179.0,1226.7 L179.0,1226.7 L179.0,1226.7 L179.0,1226.7 L179.0,1226.7 L179.0,1226.7 L179.0,1226.7 L179.0,1226.7 L179.0,1226.7 L179.0,1226.7 L179.0,1226.7 L179.0,1226.7 L179.0,1226.7 L179.0,1226.7 L179.0,1226.7 L179.0,1226.7 L179.0,1226.7 L179.0,1226.7 L179.0,1226.7 L179.0,1226.7 L179.0,1226.7 L179.0,1226.7 L179.0,1226.7 L179.0,1226.7 L179.0,1226.7 L179.0,1226.7 L179.0,1226.7 L179.0,1226.7 L179.0,1226.7 L179.0,1226.7 L179.0,1226.7 L179.0,1226.7 L179.0,1226.7 L179.0,1226.7 L179.0,1226.7 L179.0,1226.7 L179.0,1226.7 L179.0,1226.7 L179.0,1226.7 L179.0,1226.7 L179.0,1226.7 L179.0,1226.7 L179.0,1226.7Z" fill="#2e2e2e"/>
<path d="M207.7,1223.0 L207.6,1222.5 L207.6,1222.0 L207.4,1221.6 L207.2,1221.1 L207.0,1220.6 L206.7,1220.1 L206.3,1219.7 L205.9,1219.2 L205.5,1218.7 L205.0,1218.3 L204.4,1217.9 L203.8,1217.4 L203.2,1217.0 L202.5,1216.6 L201.7,1216.2 L201.0,1215.8 L200.1,1215.5 L199.3,1215.1 L198.4,1214.8 L197.4,1214.4 L196.5,1214.1 L195.4,1213.8 L194.4,1213.6 L193.3,1213.3 L192.2,1213.1 L191.1,1212.9 L190.0,1212.7 L188.8,1212.5 L187.6,1212.3 L186.4,1212.2 L185.2,1212.1 L184.0,1212.0 L182.7,1211.9 L181.5,1211.9 L180.3,1211.8 L179.0,1211.8 L177.7,1211.8 L176.5,1211.9 L175.3,1211.9 L174.0,1212.0 L172.8,1212.1 L171.6,1212.2 L170.4,1212.3 L169.2,1212.5 L168.0,1212.7 L166.9,1212.9 L165.8,1213.1 L164.7,1213.3 L163.6,1213.6 L162.6,1213.8 L161.5,1214.1 L160.6,1214.4 L159.6,1214.8 L158.7,1215.1 L157.9,1215.5 L157.0,1215.8 L156.3,1216.2 L155.5,1216.6 L154.8,1217.0 L154.2,1217.4 L153.6,1217.9 L153.0,1218.3 L152.5,1218.7 L152.1,1219.2 L151.7,1219.7 L151.3,1220.1 L151.0,1220.6 L150.8,1221.1 L150.6,1221.6 L150.4,1222.0 L150.4,1222.5 L150.3,1223.0 L164.5,1225.8 L164.5,1225.6 L164.6,1225.3 L164.6,1225.1 L164.7,1224.8 L164.9,1224.6 L165.0,1224.3 L165.2,1224.1 L165.4,1223.9 L165.6,1223.6 L165.9,1223.4 L166.2,1223.2 L166.5,1223.0 L166.8,1222.8 L167.1,1222.6 L167.5,1222.4 L167.9,1222.2 L168.3,1222.0 L168.8,1221.8 L169.2,1221.6 L169.7,1221.5 L170.2,1221.3 L170.7,1221.2 L171.2,1221.0 L171.8,1220.9 L172.3,1220.8 L172.9,1220.7 L173.5,1220.6 L174.0,1220.5 L174.6,1220.4 L175.3,1220.3 L175.9,1220.3 L176.5,1220.2 L177.1,1220.2 L177.7,1220.2 L178.4,1220.2 L179.0,1220.1 L179.6,1220.2 L180.3,1220.2 L180.9,1220.2 L181.5,1220.2 L182.1,1220.3 L182.7,1220.3 L183.4,1220.4 L184.0,1220.5 L184.5,1220.6 L185.1,1220.7 L185.7,1220.8 L186.2,1220.9 L186.8,1221.0 L187.3,1221.2 L187.8,1221.3 L188.3,1221.5 L188.8,1221.6 L189.2,1221.8 L189.7,1222.0 L190.1,1222.2 L190.5,1222.4 L190.9,1222.6 L191.2,1222.8 L191.5,1223.0 L191.8,1223.2 L192.1,1223.4 L192.4,1223.6 L192.6,1223.9 L192.8,1224.1 L193.0,1224.3 L193.1,1224.6 L193.3,1224.8 L193.4,1225.1 L193.4,1225.3 L193.5,1225.6 L193.5,1225.8Z" fill="#101010"/>
<path d="M221.3,1218.5 L221.3,1217.7 L221.1,1217.0 L220.9,1216.3 L220.7,1215.6 L220.3,1214.9 L219.9,1214.2 L219.3,1213.5 L218.7,1212.8 L218.1,1212.1 L217.3,1211.5 L216.5,1210.8 L215.6,1210.2 L214.7,1209.6 L213.7,1209.0 L212.6,1208.4 L211.4,1207.8 L210.2,1207.3 L208.9,1206.8 L207.6,1206.3 L206.2,1205.8 L204.8,1205.3 L203.3,1204.9 L201.7,1204.5 L200.2,1204.1 L198.5,1203.8 L196.9,1203.5 L195.2,1203.2 L193.5,1202.9 L191.7,1202.7 L189.9,1202.5 L188.2,1202.3 L186.3,1202.2 L184.5,1202.1 L182.7,1202.0 L180.8,1201.9 L179.0,1201.9 L177.2,1201.9 L175.3,1202.0 L173.5,1202.1 L171.7,1202.2 L169.8,1202.3 L168.1,1202.5 L166.3,1202.7 L164.5,1202.9 L162.8,1203.2 L161.1,1203.5 L159.5,1203.8 L157.8,1204.1 L156.3,1204.5 L154.7,1204.9 L153.2,1205.3 L151.8,1205.8 L150.4,1206.3 L149.1,1206.8 L147.8,1207.3 L146.6,1207.8 L145.4,1208.4 L144.3,1209.0 L143.3,1209.6 L142.4,1210.2 L141.5,1210.8 L140.7,1211.5 L139.9,1212.1 L139.3,1212.8 L138.7,1213.5 L138.1,1214.2 L137.7,1214.9 L137.3,1215.6 L137.1,1216.3 L136.9,1217.0 L136.7,1217.7 L136.7,1218.5 L150.3,1223.0 L150.4,1222.5 L150.4,1222.0 L150.6,1221.6 L150.8,1221.1 L151.0,1220.6 L151.3,1220.1 L151.7,1219.7 L152.1,1219.2 L152.5,1218.7 L153.0,1218.3 L153.6,1217.9 L154.2,1217.4 L154.8,1217.0 L155.5,1216.6 L156.3,1216.2 L157.0,1215.8 L157.9,1215.5 L158.7,1215.1 L159.6,1214.8 L160.6,1214.4 L161.5,1214.1 L162.6,1213.8 L163.6,1213.6 L164.7,1213.3 L165.8,1213.1 L166.9,1212.9 L168.0,1212.7 L169.2,1212.5 L170.4,1212.3 L171.6,1212.2 L172.8,1212.1 L174.0,1212.0 L175.3,1211.9 L176.5,1211.9 L177.7,1211.8 L179.0,1211.8 L180.3,1211.8 L181.5,1211.9 L182.7,1211.9 L184.0,1212.0 L185.2,1212.1 L186.4,1212.2 L187.6,1212.3 L188.8,1212.5 L190.0,1212.7 L191.1,1212.9 L192.2,1213.1 L193.3,1213.3 L194.4,1213.6 L195.4,1213.8 L196.5,1214.1 L197.4,1214.4 L198.4,1214.8 L199.3,1215.1 L200.1,1215.5 L201.0,1215.8 L201.7,1216.2 L202.5,1216.6 L203.2,1217.0 L203.8,1217.4 L204.4,1217.9 L205.0,1218.3 L205.5,1218.7 L205.9,1219.2 L206.3,1219.7 L206.7,1220.1 L207.0,1220.6 L207.2,1221.1 L207.4,1221.6 L207.6,1222.0 L207.6,1222.5 L207.7,1223.0Z" fill="#2e2e2e"/>
<path d="M234.1,1212.2 L234.1,1211.2 L233.9,1210.3 L233.6,1209.4 L233.3,1208.4 L232.8,1207.5 L232.2,1206.6 L231.6,1205.7 L230.8,1204.8 L229.9,1203.9 L228.9,1203.1 L227.9,1202.2 L226.7,1201.4 L225.5,1200.6 L224.1,1199.8 L222.7,1199.1 L221.2,1198.3 L219.6,1197.6 L218.0,1197.0 L216.2,1196.3 L214.4,1195.7 L212.5,1195.1 L210.6,1194.5 L208.6,1194.0 L206.6,1193.5 L204.4,1193.1 L202.3,1192.7 L200.1,1192.3 L197.8,1192.0 L195.6,1191.6 L193.3,1191.4 L190.9,1191.2 L188.6,1191.0 L186.2,1190.8 L183.8,1190.7 L181.4,1190.7 L179.0,1190.7 L176.6,1190.7 L174.2,1190.7 L171.8,1190.8 L169.4,1191.0 L167.1,1191.2 L164.7,1191.4 L162.4,1191.6 L160.2,1192.0 L157.9,1192.3 L155.7,1192.7 L153.6,1193.1 L151.4,1193.5 L149.4,1194.0 L147.4,1194.5 L145.5,1195.1 L143.6,1195.7 L141.8,1196.3 L140.0,1197.0 L138.4,1197.6 L136.8,1198.3 L135.3,1199.1 L133.9,1199.8 L132.5,1200.6 L131.3,1201.4 L130.1,1202.2 L129.1,1203.1 L128.1,1203.9 L127.2,1204.8 L126.4,1205.7 L125.8,1206.6 L125.2,1207.5 L124.7,1208.4 L124.4,1209.4 L124.1,1210.3 L123.9,1211.2 L123.9,1212.2 L136.7,1218.5 L136.7,1217.7 L136.9,1217.0 L137.1,1216.3 L137.3,1215.6 L137.7,1214.9 L138.1,1214.2 L138.7,1213.5 L139.3,1212.8 L139.9,1212.1 L140.7,1211.5 L141.5,1210.8 L142.4,1210.2 L143.3,1209.6 L144.3,1209.0 L145.4,1208.4 L146.6,1207.8 L147.8,1207.3 L149.1,1206.8 L150.4,1206.3 L151.8,1205.8 L153.2,1205.3 L154.7,1204.9 L156.3,1204.5 L157.8,1204.1 L159.5,1203.8 L161.1,1203.5 L162.8,1203.2 L164.5,1202.9 L166.3,1202.7 L168.1,1202.5 L169.8,1202.3 L171.7,1202.2 L173.5,1202.1 L175.3,1202.0 L177.2,1201.9 L179.0,1201.9 L180.8,1201.9 L182.7,1202.0 L184.5,1202.1 L186.3,1202.2 L188.2,1202.3 L189.9,1202.5 L191.7,1202.7 L193.5,1202.9 L195.2,1203.2 L196.9,1203.5 L198.5,1203.8 L200.2,1204.1 L201.7,1204.5 L203.3,1204.9 L204.8,1205.3 L206.2,1205.8 L207.6,1206.3 L208.9,1206.8 L210.2,1207.3 L211.4,1207.8 L212.6,1208.4 L213.7,1209.0 L214.7,1209.6 L215.6,1210.2 L216.5,1210.8 L217.3,1211.5 L218.1,1212.1 L218.7,1212.8 L219.3,1213.5 L219.9,1214.2 L220.3,1214.9 L220.7,1215.6 L220.9,1216.3 L221.1,1217.0 L221.3,1217.7 L221.3,1218.5Z" fill="#101010"/>
<path d="M245.8,1204.3 L245.8,1203.2 L245.6,1202.1 L245.3,1200.9 L244.8,1199.8 L244.3,1198.7 L243.6,1197.6 L242.8,1196.5 L241.8,1195.4 L240.8,1194.3 L239.6,1193.3 L238.3,1192.3 L236.9,1191.3 L235.4,1190.3 L233.8,1189.4 L232.0,1188.4 L230.2,1187.5 L228.3,1186.7 L226.3,1185.9 L224.2,1185.1 L222.0,1184.3 L219.7,1183.6 L217.3,1182.9 L214.9,1182.3 L212.4,1181.7 L209.9,1181.2 L207.3,1180.7 L204.6,1180.2 L201.9,1179.8 L199.1,1179.4 L196.3,1179.1 L193.5,1178.8 L190.6,1178.6 L187.7,1178.4 L184.8,1178.3 L181.9,1178.2 L179.0,1178.2 L176.1,1178.2 L173.2,1178.3 L170.3,1178.4 L167.4,1178.6 L164.5,1178.8 L161.7,1179.1 L158.9,1179.4 L156.1,1179.8 L153.4,1180.2 L150.7,1180.7 L148.1,1181.2 L145.6,1181.7 L143.1,1182.3 L140.7,1182.9 L138.3,1183.6 L136.0,1184.3 L133.8,1185.1 L131.7,1185.9 L129.7,1186.7 L127.8,1187.5 L126.0,1188.4 L124.2,1189.4 L122.6,1190.3 L121.1,1191.3 L119.7,1192.3 L118.4,1193.3 L117.2,1194.3 L116.2,1195.4 L115.2,1196.5 L114.4,1197.6 L113.7,1198.7 L113.2,1199.8 L112.7,1200.9 L112.4,1202.1 L112.2,1203.2 L112.2,1204.3 L123.9,1212.2 L123.9,1211.2 L124.1,1210.3 L124.4,1209.4 L124.7,1208.4 L125.2,1207.5 L125.8,1206.6 L126.4,1205.7 L127.2,1204.8 L128.1,1203.9 L129.1,1203.1 L130.1,1202.2 L131.3,1201.4 L132.5,1200.6 L133.9,1199.8 L135.3,1199.1 L136.8,1198.3 L138.4,1197.6 L140.0,1197.0 L141.8,1196.3 L143.6,1195.7 L145.5,1195.1 L147.4,1194.5 L149.4,1194.0 L151.4,1193.5 L153.6,1193.1 L155.7,1192.7 L157.9,1192.3 L160.2,1192.0 L162.4,1191.6 L164.7,1191.4 L167.1,1191.2 L169.4,1191.0 L171.8,1190.8 L174.2,1190.7 L176.6,1190.7 L179.0,1190.7 L181.4,1190.7 L183.8,1190.7 L186.2,1190.8 L188.6,1191.0 L190.9,1191.2 L193.3,1191.4 L195.6,1191.6 L197.8,1192.0 L200.1,1192.3 L202.3,1192.7 L204.4,1193.1 L206.6,1193.5 L208.6,1194.0 L210.6,1194.5 L212.5,1195.1 L214.4,1195.7 L216.2,1196.3 L218.0,1197.0 L219.6,1197.6 L221.2,1198.3 L222.7,1199.1 L224.1,1199.8 L225.5,1200.6 L226.7,1201.4 L227.9,1202.2 L228.9,1203.1 L229.9,1203.9 L230.8,1204.8 L231.6,1205.7 L232.2,1206.6 L232.8,1207.5 L233.3,1208.4 L233.6,1209.4 L233.9,1210.3 L234.1,1211.2 L234.1,1212.2Z" fill="#2e2e2e"/>
<path d="M256.3,1195.1 L256.2,1193.7 L256.0,1192.4 L255.6,1191.1 L255.1,1189.8 L254.5,1188.5 L253.7,1187.2 L252.7,1186.0 L251.6,1184.7 L250.4,1183.5 L249.0,1182.3 L247.6,1181.1 L245.9,1180.0 L244.2,1178.8 L242.3,1177.7 L240.3,1176.7 L238.2,1175.6 L236.0,1174.7 L233.7,1173.7 L231.2,1172.8 L228.7,1171.9 L226.0,1171.1 L223.3,1170.3 L220.5,1169.6 L217.6,1168.9 L214.7,1168.3 L211.7,1167.7 L208.6,1167.2 L205.4,1166.7 L202.2,1166.3 L199.0,1165.9 L195.7,1165.6 L192.4,1165.3 L189.1,1165.1 L185.7,1165.0 L182.4,1164.9 L179.0,1164.9 L175.6,1164.9 L172.3,1165.0 L168.9,1165.1 L165.6,1165.3 L162.3,1165.6 L159.0,1165.9 L155.8,1166.3 L152.6,1166.7 L149.4,1167.2 L146.3,1167.7 L143.3,1168.3 L140.4,1168.9 L137.5,1169.6 L134.7,1170.3 L132.0,1171.1 L129.3,1171.9 L126.8,1172.8 L124.3,1173.7 L122.0,1174.7 L119.8,1175.6 L117.7,1176.7 L115.7,1177.7 L113.8,1178.8 L112.1,1180.0 L110.4,1181.1 L109.0,1182.3 L107.6,1183.5 L106.4,1184.7 L105.3,1186.0 L104.3,1187.2 L103.5,1188.5 L102.9,1189.8 L102.4,1191.1 L102.0,1192.4 L101.8,1193.7 L101.7,1195.1 L112.2,1204.3 L112.2,1203.2 L112.4,1202.1 L112.7,1200.9 L113.2,1199.8 L113.7,1198.7 L114.4,1197.6 L115.2,1196.5 L116.2,1195.4 L117.2,1194.3 L118.4,1193.3 L119.7,1192.3 L121.1,1191.3 L122.6,1190.3 L124.2,1189.4 L126.0,1188.4 L127.8,1187.5 L129.7,1186.7 L131.7,1185.9 L133.8,1185.1 L136.0,1184.3 L138.3,1183.6 L140.7,1182.9 L143.1,1182.3 L145.6,1181.7 L148.1,1181.2 L150.7,1180.7 L153.4,1180.2 L156.1,1179.8 L158.9,1179.4 L161.7,1179.1 L164.5,1178.8 L167.4,1178.6 L170.3,1178.4 L173.2,1178.3 L176.1,1178.2 L179.0,1178.2 L181.9,1178.2 L184.8,1178.3 L187.7,1178.4 L190.6,1178.6 L193.5,1178.8 L196.3,1179.1 L199.1,1179.4 L201.9,1179.8 L204.6,1180.2 L207.3,1180.7 L209.9,1181.2 L212.4,1181.7 L214.9,1182.3 L217.3,1182.9 L219.7,1183.6 L222.0,1184.3 L224.2,1185.1 L226.3,1185.9 L228.3,1186.7 L230.2,1187.5 L232.0,1188.4 L233.8,1189.4 L235.4,1190.3 L236.9,1191.3 L238.3,1192.3 L239.6,1193.3 L240.8,1194.3 L241.8,1195.4 L242.8,1196.5 L243.6,1197.6 L244.3,1198.7 L244.8,1199.8 L245.3,1200.9 L245.6,1202.1 L245.8,1203.2 L245.8,1204.3Z" fill="#101010"/>
<path d="M265.2,1184.5 L265.1,1183.1 L264.9,1181.6 L264.5,1180.1 L263.9,1178.7 L263.2,1177.2 L262.3,1175.8 L261.2,1174.4 L260.0,1173.0 L258.7,1171.6 L257.1,1170.3 L255.5,1169.0 L253.7,1167.7 L251.7,1166.4 L249.6,1165.2 L247.4,1164.0 L245.0,1162.9 L242.6,1161.8 L240.0,1160.7 L237.2,1159.7 L234.4,1158.7 L231.5,1157.8 L228.5,1156.9 L225.3,1156.1 L222.1,1155.4 L218.8,1154.7 L215.4,1154.0 L212.0,1153.4 L208.5,1152.9 L204.9,1152.4 L201.3,1152.0 L197.7,1151.6 L194.0,1151.4 L190.3,1151.1 L186.5,1151.0 L182.8,1150.9 L179.0,1150.8 L175.2,1150.9 L171.5,1151.0 L167.7,1151.1 L164.0,1151.4 L160.3,1151.6 L156.7,1152.0 L153.1,1152.4 L149.5,1152.9 L146.0,1153.4 L142.6,1154.0 L139.2,1154.7 L135.9,1155.4 L132.7,1156.1 L129.5,1156.9 L126.5,1157.8 L123.6,1158.7 L120.8,1159.7 L118.0,1160.7 L115.4,1161.8 L113.0,1162.9 L110.6,1164.0 L108.4,1165.2 L106.3,1166.4 L104.3,1167.7 L102.5,1169.0 L100.9,1170.3 L99.3,1171.6 L98.0,1173.0 L96.8,1174.4 L95.7,1175.8 L94.8,1177.2 L94.1,1178.7 L93.5,1180.1 L93.1,1181.6 L92.9,1183.1 L92.8,1184.5 L101.7,1195.1 L101.8,1193.7 L102.0,1192.4 L102.4,1191.1 L102.9,1189.8 L103.5,1188.5 L104.3,1187.2 L105.3,1186.0 L106.4,1184.7 L107.6,1183.5 L109.0,1182.3 L110.4,1181.1 L112.1,1180.0 L113.8,1178.8 L115.7,1177.7 L117.7,1176.7 L119.8,1175.6 L122.0,1174.7 L124.3,1173.7 L126.8,1172.8 L129.3,1171.9 L132.0,1171.1 L134.7,1170.3 L137.5,1169.6 L140.4,1168.9 L143.3,1168.3 L146.3,1167.7 L149.4,1167.2 L152.6,1166.7 L155.8,1166.3 L159.0,1165.9 L162.3,1165.6 L165.6,1165.3 L168.9,1165.1 L172.3,1165.0 L175.6,1164.9 L179.0,1164.9 L182.4,1164.9 L185.7,1165.0 L189.1,1165.1 L192.4,1165.3 L195.7,1165.6 L199.0,1165.9 L202.2,1166.3 L205.4,1166.7 L208.6,1167.2 L211.7,1167.7 L214.7,1168.3 L217.6,1168.9 L220.5,1169.6 L223.3,1170.3 L226.0,1171.1 L228.7,1171.9 L231.2,1172.8 L233.7,1173.7 L236.0,1174.7 L238.2,1175.6 L240.3,1176.7 L242.3,1177.7 L244.2,1178.8 L245.9,1180.0 L247.6,1181.1 L249.0,1182.3 L250.4,1183.5 L251.6,1184.7 L252.7,1186.0 L253.7,1187.2 L254.5,1188.5 L255.1,1189.8 L255.6,1191.1 L256.0,1192.4 L256.2,1193.7 L256.3,1195.1Z" fill="#2e2e2e"/>
<path d="M272.5,1173.0 L272.4,1171.4 L272.1,1169.8 L271.7,1168.2 L271.1,1166.6 L270.3,1165.1 L269.3,1163.5 L268.1,1162.0 L266.8,1160.5 L265.4,1159.0 L263.7,1157.5 L261.9,1156.1 L260.0,1154.7 L257.8,1153.3 L255.6,1152.0 L253.2,1150.7 L250.6,1149.5 L247.9,1148.3 L245.1,1147.1 L242.2,1146.0 L239.1,1145.0 L235.9,1144.0 L232.6,1143.0 L229.2,1142.2 L225.7,1141.3 L222.2,1140.6 L218.5,1139.9 L214.8,1139.2 L211.0,1138.6 L207.1,1138.1 L203.2,1137.7 L199.2,1137.3 L195.2,1137.0 L191.2,1136.8 L187.1,1136.6 L183.1,1136.5 L179.0,1136.4 L174.9,1136.5 L170.9,1136.6 L166.8,1136.8 L162.8,1137.0 L158.8,1137.3 L154.8,1137.7 L150.9,1138.1 L147.0,1138.6 L143.2,1139.2 L139.5,1139.9 L135.8,1140.6 L132.3,1141.3 L128.8,1142.2 L125.4,1143.0 L122.1,1144.0 L118.9,1145.0 L115.8,1146.0 L112.9,1147.1 L110.1,1148.3 L107.4,1149.5 L104.8,1150.7 L102.4,1152.0 L100.2,1153.3 L98.0,1154.7 L96.1,1156.1 L94.3,1157.5 L92.6,1159.0 L91.2,1160.5 L89.9,1162.0 L88.7,1163.5 L87.7,1165.1 L86.9,1166.6 L86.3,1168.2 L85.9,1169.8 L85.6,1171.4 L85.5,1173.0 L92.8,1184.5 L92.9,1183.1 L93.1,1181.6 L93.5,1180.1 L94.1,1178.7 L94.8,1177.2 L95.7,1175.8 L96.8,1174.4 L98.0,1173.0 L99.3,1171.6 L100.9,1170.3 L102.5,1169.0 L104.3,1167.7 L106.3,1166.4 L108.4,1165.2 L110.6,1164.0 L113.0,1162.9 L115.4,1161.8 L118.0,1160.7 L120.8,1159.7 L123.6,1158.7 L126.5,1157.8 L129.5,1156.9 L132.7,1156.1 L135.9,1155.4 L139.2,1154.7 L142.6,1154.0 L146.0,1153.4 L149.5,1152.9 L153.1,1152.4 L156.7,1152.0 L160.3,1151.6 L164.0,1151.4 L167.7,1151.1 L171.5,1151.0 L175.2,1150.9 L179.0,1150.8 L182.8,1150.9 L186.5,1151.0 L190.3,1151.1 L194.0,1151.4 L197.7,1151.6 L201.3,1152.0 L204.9,1152.4 L208.5,1152.9 L212.0,1153.4 L215.4,1154.0 L218.8,1154.7 L222.1,1155.4 L225.3,1156.1 L228.5,1156.9 L231.5,1157.8 L234.4,1158.7 L237.2,1159.7 L240.0,1160.7 L242.6,1161.8 L245.0,1162.9 L247.4,1164.0 L249.6,1165.2 L251.7,1166.4 L253.7,1167.7 L255.5,1169.0 L257.1,1170.3 L258.7,1171.6 L260.0,1173.0 L261.2,1174.4 L262.3,1175.8 L263.2,1177.2 L263.9,1178.7 L264.5,1180.1 L264.9,1181.6 L265.1,1183.1 L265.2,1184.5Z" fill="#101010"/>
<path d="M277.9,1160.6 L277.8,1158.9 L277.5,1157.2 L277.1,1155.5 L276.4,1153.9 L275.6,1152.2 L274.5,1150.6 L273.3,1149.0 L271.9,1147.4 L270.4,1145.8 L268.6,1144.2 L266.7,1142.7 L264.7,1141.3 L262.4,1139.8 L260.0,1138.4 L257.5,1137.1 L254.8,1135.7 L251.9,1134.5 L248.9,1133.3 L245.8,1132.1 L242.6,1131.0 L239.2,1129.9 L235.7,1128.9 L232.1,1128.0 L228.5,1127.1 L224.7,1126.3 L220.8,1125.6 L216.9,1124.9 L212.8,1124.3 L208.7,1123.7 L204.6,1123.3 L200.4,1122.9 L196.2,1122.5 L191.9,1122.3 L187.6,1122.1 L183.3,1122.0 L179.0,1121.9 L174.7,1122.0 L170.4,1122.1 L166.1,1122.3 L161.8,1122.5 L157.6,1122.9 L153.4,1123.3 L149.3,1123.7 L145.2,1124.3 L141.1,1124.9 L137.2,1125.6 L133.3,1126.3 L129.5,1127.1 L125.9,1128.0 L122.3,1128.9 L118.8,1129.9 L115.4,1131.0 L112.2,1132.1 L109.1,1133.3 L106.1,1134.5 L103.2,1135.7 L100.5,1137.1 L98.0,1138.4 L95.6,1139.8 L93.3,1141.3 L91.3,1142.7 L89.4,1144.2 L87.6,1145.8 L86.1,1147.4 L84.7,1149.0 L83.5,1150.6 L82.4,1152.2 L81.6,1153.9 L80.9,1155.5 L80.5,1157.2 L80.2,1158.9 L80.1,1160.6 L85.5,1173.0 L85.6,1171.4 L85.9,1169.8 L86.3,1168.2 L86.9,1166.6 L87.7,1165.1 L88.7,1163.5 L89.9,1162.0 L91.2,1160.5 L92.6,1159.0 L94.3,1157.5 L96.1,1156.1 L98.0,1154.7 L100.2,1153.3 L102.4,1152.0 L104.8,1150.7 L107.4,1149.5 L110.1,1148.3 L112.9,1147.1 L115.8,1146.0 L118.9,1145.0 L122.1,1144.0 L125.4,1143.0 L128.8,1142.2 L132.3,1141.3 L135.8,1140.6 L139.5,1139.9 L143.2,1139.2 L147.0,1138.6 L150.9,1138.1 L154.8,1137.7 L158.8,1137.3 L162.8,1137.0 L166.8,1136.8 L170.9,1136.6 L174.9,1136.5 L179.0,1136.4 L183.1,1136.5 L187.1,1136.6 L191.2,1136.8 L195.2,1137.0 L199.2,1137.3 L203.2,1137.7 L207.1,1138.1 L211.0,1138.6 L214.8,1139.2 L218.5,1139.9 L222.2,1140.6 L225.7,1141.3 L229.2,1142.2 L232.6,1143.0 L235.9,1144.0 L239.1,1145.0 L242.2,1146.0 L245.1,1147.1 L247.9,1148.3 L250.6,1149.5 L253.2,1150.7 L255.6,1152.0 L257.8,1153.3 L260.0,1154.7 L261.9,1156.1 L263.7,1157.5 L265.4,1159.0 L266.8,1160.5 L268.1,1162.0 L269.3,1163.5 L270.3,1165.1 L271.1,1166.6 L271.7,1168.2 L272.1,1169.8 L272.4,1171.4 L272.5,1173.0Z" fill="#2e2e2e"/>
<path d="M281.4,1147.6 L281.3,1145.9 L281.0,1144.1 L280.5,1142.4 L279.9,1140.7 L279.0,1139.0 L277.9,1137.3 L276.7,1135.6 L275.2,1133.9 L273.6,1132.3 L271.8,1130.7 L269.8,1129.1 L267.7,1127.6 L265.4,1126.1 L262.9,1124.7 L260.3,1123.3 L257.5,1121.9 L254.5,1120.6 L251.4,1119.3 L248.2,1118.1 L244.8,1117.0 L241.3,1115.9 L237.7,1114.8 L234.0,1113.9 L230.2,1113.0 L226.3,1112.1 L222.3,1111.4 L218.2,1110.7 L214.0,1110.0 L209.8,1109.5 L205.5,1109.0 L201.2,1108.6 L196.8,1108.2 L192.4,1107.9 L187.9,1107.8 L183.5,1107.6 L179.0,1107.6 L174.5,1107.6 L170.1,1107.8 L165.6,1107.9 L161.2,1108.2 L156.8,1108.6 L152.5,1109.0 L148.2,1109.5 L144.0,1110.0 L139.8,1110.7 L135.7,1111.4 L131.7,1112.1 L127.8,1113.0 L124.0,1113.9 L120.3,1114.8 L116.7,1115.9 L113.2,1117.0 L109.8,1118.1 L106.6,1119.3 L103.5,1120.6 L100.5,1121.9 L97.7,1123.3 L95.1,1124.7 L92.6,1126.1 L90.3,1127.6 L88.2,1129.1 L86.2,1130.7 L84.4,1132.3 L82.8,1133.9 L81.3,1135.6 L80.1,1137.3 L79.0,1139.0 L78.1,1140.7 L77.5,1142.4 L77.0,1144.1 L76.7,1145.9 L76.6,1147.6 L80.1,1160.6 L80.2,1158.9 L80.5,1157.2 L80.9,1155.5 L81.6,1153.9 L82.4,1152.2 L83.5,1150.6 L84.7,1149.0 L86.1,1147.4 L87.6,1145.8 L89.4,1144.2 L91.3,1142.7 L93.3,1141.3 L95.6,1139.8 L98.0,1138.4 L100.5,1137.1 L103.2,1135.7 L106.1,1134.5 L109.1,1133.3 L112.2,1132.1 L115.4,1131.0 L118.8,1129.9 L122.3,1128.9 L125.9,1128.0 L129.5,1127.1 L133.3,1126.3 L137.2,1125.6 L141.1,1124.9 L145.2,1124.3 L149.3,1123.7 L153.4,1123.3 L157.6,1122.9 L161.8,1122.5 L166.1,1122.3 L170.4,1122.1 L174.7,1122.0 L179.0,1121.9 L183.3,1122.0 L187.6,1122.1 L191.9,1122.3 L196.2,1122.5 L200.4,1122.9 L204.6,1123.3 L208.7,1123.7 L212.8,1124.3 L216.9,1124.9 L220.8,1125.6 L224.7,1126.3 L228.5,1127.1 L232.1,1128.0 L235.7,1128.9 L239.2,1129.9 L242.6,1131.0 L245.8,1132.1 L248.9,1133.3 L251.9,1134.5 L254.8,1135.7 L257.5,1137.1 L260.0,1138.4 L262.4,1139.8 L264.7,1141.3 L266.7,1142.7 L268.6,1144.2 L270.4,1145.8 L271.9,1147.4 L273.3,1149.0 L274.5,1150.6 L275.6,1152.2 L276.4,1153.9 L277.1,1155.5 L277.5,1157.2 L277.8,1158.9 L277.9,1160.6Z" fill="#101010"/>
<path d="M282.9,1134.3 L282.8,1132.6 L282.5,1130.8 L282.0,1129.0 L281.4,1127.3 L280.5,1125.6 L279.4,1123.8 L278.1,1122.1 L276.7,1120.5 L275.0,1118.8 L273.2,1117.2 L271.2,1115.6 L269.0,1114.0 L266.7,1112.5 L264.1,1111.0 L261.5,1109.6 L258.6,1108.2 L255.6,1106.9 L252.5,1105.6 L249.2,1104.4 L245.8,1103.2 L242.3,1102.1 L238.6,1101.1 L234.8,1100.1 L231.0,1099.2 L227.0,1098.3 L222.9,1097.5 L218.8,1096.8 L214.5,1096.2 L210.3,1095.6 L205.9,1095.1 L201.5,1094.7 L197.0,1094.3 L192.6,1094.1 L188.1,1093.9 L183.5,1093.8 L179.0,1093.7 L174.5,1093.8 L169.9,1093.9 L165.4,1094.1 L161.0,1094.3 L156.5,1094.7 L152.1,1095.1 L147.7,1095.6 L143.5,1096.2 L139.2,1096.8 L135.1,1097.5 L131.0,1098.3 L127.0,1099.2 L123.2,1100.1 L119.4,1101.1 L115.7,1102.1 L112.2,1103.2 L108.8,1104.4 L105.5,1105.6 L102.4,1106.9 L99.4,1108.2 L96.5,1109.6 L93.9,1111.0 L91.3,1112.5 L89.0,1114.0 L86.8,1115.6 L84.8,1117.2 L83.0,1118.8 L81.3,1120.5 L79.9,1122.1 L78.6,1123.8 L77.5,1125.6 L76.6,1127.3 L76.0,1129.0 L75.5,1130.8 L75.2,1132.6 L75.1,1134.3 L76.6,1147.6 L76.7,1145.9 L77.0,1144.1 L77.5,1142.4 L78.1,1140.7 L79.0,1139.0 L80.1,1137.3 L81.3,1135.6 L82.8,1133.9 L84.4,1132.3 L86.2,1130.7 L88.2,1129.1 L90.3,1127.6 L92.6,1126.1 L95.1,1124.7 L97.7,1123.3 L100.5,1121.9 L103.5,1120.6 L106.6,1119.3 L109.8,1118.1 L113.2,1117.0 L116.7,1115.9 L120.3,1114.8 L124.0,1113.9 L127.8,1113.0 L131.7,1112.1 L135.7,1111.4 L139.8,1110.7 L144.0,1110.0 L148.2,1109.5 L152.5,1109.0 L156.8,1108.6 L161.2,1108.2 L165.6,1107.9 L170.1,1107.8 L174.5,1107.6 L179.0,1107.6 L183.5,1107.6 L187.9,1107.8 L192.4,1107.9 L196.8,1108.2 L201.2,1108.6 L205.5,1109.0 L209.8,1109.5 L214.0,1110.0 L218.2,1110.7 L222.3,1111.4 L226.3,1112.1 L230.2,1113.0 L234.0,1113.9 L237.7,1114.8 L241.3,1115.9 L244.8,1117.0 L248.2,1118.1 L251.4,1119.3 L254.5,1120.6 L257.5,1121.9 L260.3,1123.3 L262.9,1124.7 L265.4,1126.1 L267.7,1127.6 L269.8,1129.1 L271.8,1130.7 L273.6,1132.3 L275.2,1133.9 L276.7,1135.6 L277.9,1137.3 L279.0,1139.0 L279.9,1140.7 L280.5,1142.4 L281.0,1144.1 L281.3,1145.9 L281.4,1147.6Z" fill="#2e2e2e"/>
<path d="M282.4,1121.0 L282.3,1119.2 L282.0,1117.5 L281.5,1115.7 L280.9,1114.0 L280.0,1112.2 L278.9,1110.5 L277.6,1108.8 L276.2,1107.2 L274.6,1105.5 L272.7,1103.9 L270.7,1102.3 L268.6,1100.8 L266.2,1099.3 L263.7,1097.8 L261.1,1096.4 L258.2,1095.0 L255.3,1093.7 L252.1,1092.4 L248.9,1091.2 L245.5,1090.0 L242.0,1088.9 L238.3,1087.9 L234.6,1086.9 L230.7,1086.0 L226.8,1085.1 L222.7,1084.4 L218.6,1083.7 L214.4,1083.0 L210.1,1082.5 L205.8,1082.0 L201.4,1081.5 L197.0,1081.2 L192.5,1080.9 L188.0,1080.7 L183.5,1080.6 L179.0,1080.6 L174.5,1080.6 L170.0,1080.7 L165.5,1080.9 L161.0,1081.2 L156.6,1081.5 L152.2,1082.0 L147.9,1082.5 L143.6,1083.0 L139.4,1083.7 L135.3,1084.4 L131.2,1085.1 L127.3,1086.0 L123.4,1086.9 L119.7,1087.9 L116.0,1088.9 L112.5,1090.0 L109.1,1091.2 L105.9,1092.4 L102.7,1093.7 L99.8,1095.0 L96.9,1096.4 L94.3,1097.8 L91.8,1099.3 L89.4,1100.8 L87.3,1102.3 L85.3,1103.9 L83.4,1105.5 L81.8,1107.2 L80.4,1108.8 L79.1,1110.5 L78.0,1112.2 L77.1,1114.0 L76.5,1115.7 L76.0,1117.5 L75.7,1119.2 L75.6,1121.0 L75.1,1134.3 L75.2,1132.6 L75.5,1130.8 L76.0,1129.0 L76.6,1127.3 L77.5,1125.6 L78.6,1123.8 L79.9,1122.1 L81.3,1120.5 L83.0,1118.8 L84.8,1117.2 L86.8,1115.6 L89.0,1114.0 L91.3,1112.5 L93.9,1111.0 L96.5,1109.6 L99.4,1108.2 L102.4,1106.9 L105.5,1105.6 L108.8,1104.4 L112.2,1103.2 L115.7,1102.1 L119.4,1101.1 L123.2,1100.1 L127.0,1099.2 L131.0,1098.3 L135.1,1097.5 L139.2,1096.8 L143.5,1096.2 L147.7,1095.6 L152.1,1095.1 L156.5,1094.7 L161.0,1094.3 L165.4,1094.1 L169.9,1093.9 L174.5,1093.8 L179.0,1093.7 L183.5,1093.8 L188.1,1093.9 L192.6,1094.1 L197.0,1094.3 L201.5,1094.7 L205.9,1095.1 L210.3,1095.6 L214.5,1096.2 L218.8,1096.8 L222.9,1097.5 L227.0,1098.3 L231.0,1099.2 L234.8,1100.1 L238.6,1101.1 L242.3,1102.1 L245.8,1103.2 L249.2,1104.4 L252.5,1105.6 L255.6,1106.9 L258.6,1108.2 L261.5,1109.6 L264.1,1111.0 L266.7,1112.5 L269.0,1114.0 L271.2,1115.6 L273.2,1117.2 L275.0,1118.8 L276.7,1120.5 L278.1,1122.1 L279.4,1123.8 L280.5,1125.6 L281.4,1127.3 L282.0,1129.0 L282.5,1130.8 L282.8,1132.6 L282.9,1134.3Z" fill="#101010"/>
<path d="M279.9,1107.8 L279.8,1106.1 L279.5,1104.4 L279.0,1102.7 L278.4,1101.0 L277.5,1099.3 L276.5,1097.6 L275.2,1096.0 L273.8,1094.4 L272.2,1092.8 L270.5,1091.2 L268.5,1089.6 L266.4,1088.1 L264.1,1086.7 L261.7,1085.2 L259.1,1083.8 L256.3,1082.5 L253.4,1081.2 L250.4,1080.0 L247.2,1078.8 L243.9,1077.6 L240.4,1076.6 L236.9,1075.5 L233.2,1074.6 L229.5,1073.7 L225.6,1072.9 L221.6,1072.1 L217.6,1071.4 L213.5,1070.8 L209.3,1070.2 L205.1,1069.8 L200.8,1069.3 L196.5,1069.0 L192.2,1068.7 L187.8,1068.6 L183.4,1068.4 L179.0,1068.4 L174.6,1068.4 L170.2,1068.6 L165.8,1068.7 L161.5,1069.0 L157.2,1069.3 L152.9,1069.8 L148.7,1070.2 L144.5,1070.8 L140.4,1071.4 L136.4,1072.1 L132.4,1072.9 L128.5,1073.7 L124.8,1074.6 L121.1,1075.5 L117.6,1076.6 L114.1,1077.6 L110.8,1078.8 L107.6,1080.0 L104.6,1081.2 L101.7,1082.5 L98.9,1083.8 L96.3,1085.2 L93.9,1086.7 L91.6,1088.1 L89.5,1089.6 L87.5,1091.2 L85.8,1092.8 L84.2,1094.4 L82.8,1096.0 L81.5,1097.6 L80.5,1099.3 L79.6,1101.0 L79.0,1102.7 L78.5,1104.4 L78.2,1106.1 L78.1,1107.8 L75.6,1121.0 L75.7,1119.2 L76.0,1117.5 L76.5,1115.7 L77.1,1114.0 L78.0,1112.2 L79.1,1110.5 L80.4,1108.8 L81.8,1107.2 L83.4,1105.5 L85.3,1103.9 L87.3,1102.3 L89.4,1100.8 L91.8,1099.3 L94.3,1097.8 L96.9,1096.4 L99.8,1095.0 L102.7,1093.7 L105.9,1092.4 L109.1,1091.2 L112.5,1090.0 L116.0,1088.9 L119.7,1087.9 L123.4,1086.9 L127.3,1086.0 L131.2,1085.1 L135.3,1084.4 L139.4,1083.7 L143.6,1083.0 L147.9,1082.5 L152.2,1082.0 L156.6,1081.5 L161.0,1081.2 L165.5,1080.9 L170.0,1080.7 L174.5,1080.6 L179.0,1080.6 L183.5,1080.6 L188.0,1080.7 L192.5,1080.9 L197.0,1081.2 L201.4,1081.5 L205.8,1082.0 L210.1,1082.5 L214.4,1083.0 L218.6,1083.7 L222.7,1084.4 L226.8,1085.1 L230.7,1086.0 L234.6,1086.9 L238.3,1087.9 L242.0,1088.9 L245.5,1090.0 L248.9,1091.2 L252.1,1092.4 L255.3,1093.7 L258.2,1095.0 L261.1,1096.4 L263.7,1097.8 L266.2,1099.3 L268.6,1100.8 L270.7,1102.3 L272.7,1103.9 L274.6,1105.5 L276.2,1107.2 L277.6,1108.8 L278.9,1110.5 L280.0,1112.2 L280.9,1114.0 L281.5,1115.7 L282.0,1117.5 L282.3,1119.2 L282.4,1121.0Z" fill="#2e2e2e"/>
<path d="M275.4,1095.1 L275.3,1093.5 L275.1,1091.9 L274.6,1090.2 L274.0,1088.6 L273.1,1087.0 L272.1,1085.4 L271.0,1083.8 L269.6,1082.3 L268.1,1080.7 L266.4,1079.2 L264.5,1077.7 L262.5,1076.3 L260.3,1074.9 L258.0,1073.5 L255.5,1072.2 L252.9,1070.9 L250.1,1069.7 L247.2,1068.5 L244.1,1067.4 L241.0,1066.3 L237.7,1065.2 L234.3,1064.3 L230.8,1063.4 L227.2,1062.5 L223.5,1061.7 L219.8,1061.0 L215.9,1060.3 L212.0,1059.7 L208.0,1059.2 L204.0,1058.7 L199.9,1058.4 L195.7,1058.0 L191.6,1057.8 L187.4,1057.6 L183.2,1057.5 L179.0,1057.5 L174.8,1057.5 L170.6,1057.6 L166.4,1057.8 L162.3,1058.0 L158.1,1058.4 L154.0,1058.7 L150.0,1059.2 L146.0,1059.7 L142.1,1060.3 L138.2,1061.0 L134.5,1061.7 L130.8,1062.5 L127.2,1063.4 L123.7,1064.3 L120.3,1065.2 L117.0,1066.3 L113.9,1067.4 L110.8,1068.5 L107.9,1069.7 L105.1,1070.9 L102.5,1072.2 L100.0,1073.5 L97.7,1074.9 L95.5,1076.3 L93.5,1077.7 L91.6,1079.2 L89.9,1080.7 L88.4,1082.3 L87.0,1083.8 L85.9,1085.4 L84.9,1087.0 L84.0,1088.6 L83.4,1090.2 L82.9,1091.9 L82.7,1093.5 L82.6,1095.1 L78.1,1107.8 L78.2,1106.1 L78.5,1104.4 L79.0,1102.7 L79.6,1101.0 L80.5,1099.3 L81.5,1097.6 L82.8,1096.0 L84.2,1094.4 L85.8,1092.8 L87.5,1091.2 L89.5,1089.6 L91.6,1088.1 L93.9,1086.7 L96.3,1085.2 L98.9,1083.8 L101.7,1082.5 L104.6,1081.2 L107.6,1080.0 L110.8,1078.8 L114.1,1077.6 L117.6,1076.6 L121.1,1075.5 L124.8,1074.6 L128.5,1073.7 L132.4,1072.9 L136.4,1072.1 L140.4,1071.4 L144.5,1070.8 L148.7,1070.2 L152.9,1069.8 L157.2,1069.3 L161.5,1069.0 L165.8,1068.7 L170.2,1068.6 L174.6,1068.4 L179.0,1068.4 L183.4,1068.4 L187.8,1068.6 L192.2,1068.7 L196.5,1069.0 L200.8,1069.3 L205.1,1069.8 L209.3,1070.2 L213.5,1070.8 L217.6,1071.4 L221.6,1072.1 L225.6,1072.9 L229.5,1073.7 L233.2,1074.6 L236.9,1075.5 L240.4,1076.6 L243.9,1077.6 L247.2,1078.8 L250.4,1080.0 L253.4,1081.2 L256.3,1082.5 L259.1,1083.8 L261.7,1085.2 L264.1,1086.7 L266.4,1088.1 L268.5,1089.6 L270.5,1091.2 L272.2,1092.8 L273.8,1094.4 L275.2,1096.0 L276.5,1097.6 L277.5,1099.3 L278.4,1101.0 L279.0,1102.7 L279.5,1104.4 L279.8,1106.1 L279.9,1107.8Z" fill="#101010"/>
<path d="M269.1,1083.1 L269.0,1081.6 L268.7,1080.1 L268.3,1078.5 L267.7,1077.0 L266.9,1075.5 L266.0,1074.0 L264.9,1072.6 L263.6,1071.1 L262.2,1069.7 L260.6,1068.3 L258.9,1066.9 L257.0,1065.5 L255.0,1064.2 L252.8,1062.9 L250.5,1061.7 L248.0,1060.5 L245.4,1059.4 L242.7,1058.2 L239.8,1057.2 L236.9,1056.2 L233.8,1055.2 L230.7,1054.3 L227.4,1053.5 L224.0,1052.7 L220.6,1051.9 L217.1,1051.2 L213.5,1050.6 L209.8,1050.1 L206.1,1049.6 L202.3,1049.1 L198.5,1048.8 L194.6,1048.5 L190.8,1048.2 L186.8,1048.1 L182.9,1048.0 L179.0,1047.9 L175.1,1048.0 L171.2,1048.1 L167.2,1048.2 L163.4,1048.5 L159.5,1048.8 L155.7,1049.1 L151.9,1049.6 L148.2,1050.1 L144.5,1050.6 L140.9,1051.2 L137.4,1051.9 L134.0,1052.7 L130.6,1053.5 L127.3,1054.3 L124.2,1055.2 L121.1,1056.2 L118.2,1057.2 L115.3,1058.2 L112.6,1059.4 L110.0,1060.5 L107.5,1061.7 L105.2,1062.9 L103.0,1064.2 L101.0,1065.5 L99.1,1066.9 L97.4,1068.3 L95.8,1069.7 L94.4,1071.1 L93.1,1072.6 L92.0,1074.0 L91.1,1075.5 L90.3,1077.0 L89.7,1078.5 L89.3,1080.1 L89.0,1081.6 L88.9,1083.1 L82.6,1095.1 L82.7,1093.5 L82.9,1091.9 L83.4,1090.2 L84.0,1088.6 L84.9,1087.0 L85.9,1085.4 L87.0,1083.8 L88.4,1082.3 L89.9,1080.7 L91.6,1079.2 L93.5,1077.7 L95.5,1076.3 L97.7,1074.9 L100.0,1073.5 L102.5,1072.2 L105.1,1070.9 L107.9,1069.7 L110.8,1068.5 L113.9,1067.4 L117.0,1066.3 L120.3,1065.2 L123.7,1064.3 L127.2,1063.4 L130.8,1062.5 L134.5,1061.7 L138.2,1061.0 L142.1,1060.3 L146.0,1059.7 L150.0,1059.2 L154.0,1058.7 L158.1,1058.4 L162.3,1058.0 L166.4,1057.8 L170.6,1057.6 L174.8,1057.5 L179.0,1057.5 L183.2,1057.5 L187.4,1057.6 L191.6,1057.8 L195.7,1058.0 L199.9,1058.4 L204.0,1058.7 L208.0,1059.2 L212.0,1059.7 L215.9,1060.3 L219.8,1061.0 L223.5,1061.7 L227.2,1062.5 L230.8,1063.4 L234.3,1064.3 L237.7,1065.2 L241.0,1066.3 L244.1,1067.4 L247.2,1068.5 L250.1,1069.7 L252.9,1070.9 L255.5,1072.2 L258.0,1073.5 L260.3,1074.9 L262.5,1076.3 L264.5,1077.7 L266.4,1079.2 L268.1,1080.7 L269.6,1082.3 L271.0,1083.8 L272.1,1085.4 L273.1,1087.0 L274.0,1088.6 L274.6,1090.2 L275.1,1091.9 L275.3,1093.5 L275.4,1095.1Z" fill="#2e2e2e"/>
<path d="M261.0,1072.1 L260.9,1070.7 L260.6,1069.3 L260.3,1067.9 L259.7,1066.5 L259.0,1065.1 L258.2,1063.8 L257.2,1062.4 L256.0,1061.1 L254.7,1059.8 L253.3,1058.5 L251.7,1057.3 L250.0,1056.1 L248.1,1054.9 L246.1,1053.7 L244.0,1052.6 L241.8,1051.5 L239.4,1050.4 L236.9,1049.4 L234.4,1048.5 L231.7,1047.5 L228.9,1046.7 L226.0,1045.8 L223.0,1045.1 L220.0,1044.3 L216.8,1043.7 L213.6,1043.0 L210.4,1042.5 L207.0,1042.0 L203.6,1041.5 L200.2,1041.1 L196.7,1040.8 L193.2,1040.5 L189.7,1040.3 L186.1,1040.2 L182.6,1040.1 L179.0,1040.0 L175.4,1040.1 L171.9,1040.2 L168.3,1040.3 L164.8,1040.5 L161.3,1040.8 L157.8,1041.1 L154.4,1041.5 L151.0,1042.0 L147.6,1042.5 L144.4,1043.0 L141.2,1043.7 L138.0,1044.3 L135.0,1045.1 L132.0,1045.8 L129.1,1046.7 L126.3,1047.5 L123.6,1048.5 L121.1,1049.4 L118.6,1050.4 L116.2,1051.5 L114.0,1052.6 L111.9,1053.7 L109.9,1054.9 L108.0,1056.1 L106.3,1057.3 L104.7,1058.5 L103.3,1059.8 L102.0,1061.1 L100.8,1062.4 L99.8,1063.8 L99.0,1065.1 L98.3,1066.5 L97.7,1067.9 L97.4,1069.3 L97.1,1070.7 L97.0,1072.1 L88.9,1083.1 L89.0,1081.6 L89.3,1080.1 L89.7,1078.5 L90.3,1077.0 L91.1,1075.5 L92.0,1074.0 L93.1,1072.6 L94.4,1071.1 L95.8,1069.7 L97.4,1068.3 L99.1,1066.9 L101.0,1065.5 L103.0,1064.2 L105.2,1062.9 L107.5,1061.7 L110.0,1060.5 L112.6,1059.4 L115.3,1058.2 L118.2,1057.2 L121.1,1056.2 L124.2,1055.2 L127.3,1054.3 L130.6,1053.5 L134.0,1052.7 L137.4,1051.9 L140.9,1051.2 L144.5,1050.6 L148.2,1050.1 L151.9,1049.6 L155.7,1049.1 L159.5,1048.8 L163.4,1048.5 L167.2,1048.2 L171.2,1048.1 L175.1,1048.0 L179.0,1047.9 L182.9,1048.0 L186.8,1048.1 L190.8,1048.2 L194.6,1048.5 L198.5,1048.8 L202.3,1049.1 L206.1,1049.6 L209.8,1050.1 L213.5,1050.6 L217.1,1051.2 L220.6,1051.9 L224.0,1052.7 L227.4,1053.5 L230.7,1054.3 L233.8,1055.2 L236.9,1056.2 L239.8,1057.2 L242.7,1058.2 L245.4,1059.4 L248.0,1060.5 L250.5,1061.7 L252.8,1062.9 L255.0,1064.2 L257.0,1065.5 L258.9,1066.9 L260.6,1068.3 L262.2,1069.7 L263.6,1071.1 L264.9,1072.6 L266.0,1074.0 L266.9,1075.5 L267.7,1077.0 L268.3,1078.5 L268.7,1080.1 L269.0,1081.6 L269.1,1083.1Z" fill="#101010"/>
<path d="M251.2,1062.1 L251.2,1060.9 L251.0,1059.7 L250.6,1058.5 L250.1,1057.2 L249.5,1056.0 L248.8,1054.8 L247.9,1053.6 L246.9,1052.5 L245.7,1051.3 L244.5,1050.2 L243.1,1049.1 L241.6,1048.0 L239.9,1047.0 L238.2,1045.9 L236.3,1045.0 L234.3,1044.0 L232.3,1043.1 L230.1,1042.2 L227.8,1041.3 L225.4,1040.5 L223.0,1039.7 L220.4,1039.0 L217.8,1038.3 L215.1,1037.7 L212.4,1037.1 L209.5,1036.6 L206.6,1036.1 L203.7,1035.6 L200.7,1035.2 L197.7,1034.9 L194.6,1034.6 L191.5,1034.3 L188.4,1034.1 L185.3,1034.0 L182.2,1033.9 L179.0,1033.9 L175.8,1033.9 L172.7,1034.0 L169.6,1034.1 L166.5,1034.3 L163.4,1034.6 L160.3,1034.9 L157.3,1035.2 L154.3,1035.6 L151.4,1036.1 L148.5,1036.6 L145.6,1037.1 L142.9,1037.7 L140.2,1038.3 L137.6,1039.0 L135.0,1039.7 L132.6,1040.5 L130.2,1041.3 L127.9,1042.2 L125.7,1043.1 L123.7,1044.0 L121.7,1045.0 L119.8,1045.9 L118.1,1047.0 L116.4,1048.0 L114.9,1049.1 L113.5,1050.2 L112.3,1051.3 L111.1,1052.5 L110.1,1053.6 L109.2,1054.8 L108.5,1056.0 L107.9,1057.2 L107.4,1058.5 L107.0,1059.7 L106.8,1060.9 L106.8,1062.1 L97.0,1072.1 L97.1,1070.7 L97.4,1069.3 L97.7,1067.9 L98.3,1066.5 L99.0,1065.1 L99.8,1063.8 L100.8,1062.4 L102.0,1061.1 L103.3,1059.8 L104.7,1058.5 L106.3,1057.3 L108.0,1056.1 L109.9,1054.9 L111.9,1053.7 L114.0,1052.6 L116.2,1051.5 L118.6,1050.4 L121.1,1049.4 L123.6,1048.5 L126.3,1047.5 L129.1,1046.7 L132.0,1045.8 L135.0,1045.1 L138.0,1044.3 L141.2,1043.7 L144.4,1043.0 L147.6,1042.5 L151.0,1042.0 L154.4,1041.5 L157.8,1041.1 L161.3,1040.8 L164.8,1040.5 L168.3,1040.3 L171.9,1040.2 L175.4,1040.1 L179.0,1040.0 L182.6,1040.1 L186.1,1040.2 L189.7,1040.3 L193.2,1040.5 L196.7,1040.8 L200.2,1041.1 L203.6,1041.5 L207.0,1042.0 L210.4,1042.5 L213.6,1043.0 L216.8,1043.7 L220.0,1044.3 L223.0,1045.1 L226.0,1045.8 L228.9,1046.7 L231.7,1047.5 L234.4,1048.5 L236.9,1049.4 L239.4,1050.4 L241.8,1051.5 L244.0,1052.6 L246.1,1053.7 L248.1,1054.9 L250.0,1056.1 L251.7,1057.3 L253.3,1058.5 L254.7,1059.8 L256.0,1061.1 L257.2,1062.4 L258.2,1063.8 L259.0,1065.1 L259.7,1066.5 L260.3,1067.9 L260.6,1069.3 L260.9,1070.7 L261.0,1072.1Z" fill="#2e2e2e"/>
<path d="M240.1,1053.6 L240.1,1052.5 L239.9,1051.5 L239.6,1050.4 L239.2,1049.4 L238.7,1048.4 L238.0,1047.4 L237.3,1046.4 L236.4,1045.4 L235.5,1044.4 L234.4,1043.5 L233.2,1042.5 L231.9,1041.6 L230.6,1040.7 L229.1,1039.9 L227.5,1039.0 L225.8,1038.2 L224.1,1037.4 L222.2,1036.7 L220.3,1035.9 L218.3,1035.3 L216.2,1034.6 L214.1,1034.0 L211.8,1033.4 L209.6,1032.9 L207.2,1032.4 L204.8,1031.9 L202.4,1031.5 L199.9,1031.1 L197.4,1030.8 L194.8,1030.5 L192.2,1030.2 L189.6,1030.0 L187.0,1029.9 L184.3,1029.8 L181.7,1029.7 L179.0,1029.7 L176.3,1029.7 L173.7,1029.8 L171.0,1029.9 L168.4,1030.0 L165.8,1030.2 L163.2,1030.5 L160.6,1030.8 L158.1,1031.1 L155.6,1031.5 L153.2,1031.9 L150.8,1032.4 L148.4,1032.9 L146.2,1033.4 L143.9,1034.0 L141.8,1034.6 L139.7,1035.3 L137.7,1035.9 L135.8,1036.7 L133.9,1037.4 L132.2,1038.2 L130.5,1039.0 L128.9,1039.9 L127.4,1040.7 L126.1,1041.6 L124.8,1042.5 L123.6,1043.5 L122.5,1044.4 L121.6,1045.4 L120.7,1046.4 L120.0,1047.4 L119.3,1048.4 L118.8,1049.4 L118.4,1050.4 L118.1,1051.5 L117.9,1052.5 L117.9,1053.6 L106.8,1062.1 L106.8,1060.9 L107.0,1059.7 L107.4,1058.5 L107.9,1057.2 L108.5,1056.0 L109.2,1054.8 L110.1,1053.6 L111.1,1052.5 L112.3,1051.3 L113.5,1050.2 L114.9,1049.1 L116.4,1048.0 L118.1,1047.0 L119.8,1045.9 L121.7,1045.0 L123.7,1044.0 L125.7,1043.1 L127.9,1042.2 L130.2,1041.3 L132.6,1040.5 L135.0,1039.7 L137.6,1039.0 L140.2,1038.3 L142.9,1037.7 L145.6,1037.1 L148.5,1036.6 L151.4,1036.1 L154.3,1035.6 L157.3,1035.2 L160.3,1034.9 L163.4,1034.6 L166.5,1034.3 L169.6,1034.1 L172.7,1034.0 L175.8,1033.9 L179.0,1033.9 L182.2,1033.9 L185.3,1034.0 L188.4,1034.1 L191.5,1034.3 L194.6,1034.6 L197.7,1034.9 L200.7,1035.2 L203.7,1035.6 L206.6,1036.1 L209.5,1036.6 L212.4,1037.1 L215.1,1037.7 L217.8,1038.3 L220.4,1039.0 L223.0,1039.7 L225.4,1040.5 L227.8,1041.3 L230.1,1042.2 L232.3,1043.1 L234.3,1044.0 L236.3,1045.0 L238.2,1045.9 L239.9,1047.0 L241.6,1048.0 L243.1,1049.1 L244.5,1050.2 L245.7,1051.3 L246.9,1052.5 L247.9,1053.6 L248.8,1054.8 L249.5,1056.0 L250.1,1057.2 L250.6,1058.5 L251.0,1059.7 L251.2,1060.9 L251.2,1062.1Z" fill="#101010"/>
<path d="M227.8,1046.5 L227.8,1045.6 L227.6,1044.8 L227.4,1044.0 L227.1,1043.2 L226.7,1042.3 L226.2,1041.5 L225.6,1040.7 L224.9,1039.9 L224.1,1039.2 L223.3,1038.4 L222.3,1037.7 L221.3,1036.9 L220.2,1036.2 L219.0,1035.5 L217.7,1034.9 L216.4,1034.2 L215.0,1033.6 L213.5,1033.0 L212.0,1032.4 L210.4,1031.9 L208.7,1031.3 L207.0,1030.8 L205.2,1030.4 L203.4,1030.0 L201.5,1029.6 L199.6,1029.2 L197.7,1028.8 L195.7,1028.5 L193.7,1028.3 L191.6,1028.0 L189.6,1027.8 L187.5,1027.7 L185.4,1027.6 L183.3,1027.5 L181.1,1027.4 L179.0,1027.4 L176.9,1027.4 L174.7,1027.5 L172.6,1027.6 L170.5,1027.7 L168.4,1027.8 L166.4,1028.0 L164.3,1028.3 L162.3,1028.5 L160.3,1028.8 L158.4,1029.2 L156.5,1029.6 L154.6,1030.0 L152.8,1030.4 L151.0,1030.8 L149.3,1031.3 L147.6,1031.9 L146.0,1032.4 L144.5,1033.0 L143.0,1033.6 L141.6,1034.2 L140.3,1034.9 L139.0,1035.5 L137.8,1036.2 L136.7,1036.9 L135.7,1037.7 L134.7,1038.4 L133.9,1039.2 L133.1,1039.9 L132.4,1040.7 L131.8,1041.5 L131.3,1042.3 L130.9,1043.2 L130.6,1044.0 L130.4,1044.8 L130.2,1045.6 L130.2,1046.5 L117.9,1053.6 L117.9,1052.5 L118.1,1051.5 L118.4,1050.4 L118.8,1049.4 L119.3,1048.4 L120.0,1047.4 L120.7,1046.4 L121.6,1045.4 L122.5,1044.4 L123.6,1043.5 L124.8,1042.5 L126.1,1041.6 L127.4,1040.7 L128.9,1039.9 L130.5,1039.0 L132.2,1038.2 L133.9,1037.4 L135.8,1036.7 L137.7,1035.9 L139.7,1035.3 L141.8,1034.6 L143.9,1034.0 L146.2,1033.4 L148.4,1032.9 L150.8,1032.4 L153.2,1031.9 L155.6,1031.5 L158.1,1031.1 L160.6,1030.8 L163.2,1030.5 L165.8,1030.2 L168.4,1030.0 L171.0,1029.9 L173.7,1029.8 L176.3,1029.7 L179.0,1029.7 L181.7,1029.7 L184.3,1029.8 L187.0,1029.9 L189.6,1030.0 L192.2,1030.2 L194.8,1030.5 L197.4,1030.8 L199.9,1031.1 L202.4,1031.5 L204.8,1031.9 L207.2,1032.4 L209.6,1032.9 L211.8,1033.4 L214.1,1034.0 L216.2,1034.6 L218.3,1035.3 L220.3,1035.9 L222.2,1036.7 L224.1,1037.4 L225.8,1038.2 L227.5,1039.0 L229.1,1039.9 L230.6,1040.7 L231.9,1041.6 L233.2,1042.5 L234.4,1043.5 L235.5,1044.4 L236.4,1045.4 L237.3,1046.4 L238.0,1047.4 L238.7,1048.4 L239.2,1049.4 L239.6,1050.4 L239.9,1051.5 L240.1,1052.5 L240.1,1053.6Z" fill="#2e2e2e"/>
<path d="M214.6,1041.0 L214.5,1040.4 L214.4,1039.8 L214.3,1039.2 L214.0,1038.6 L213.7,1038.0 L213.4,1037.4 L212.9,1036.9 L212.4,1036.3 L211.9,1035.7 L211.2,1035.2 L210.6,1034.6 L209.8,1034.1 L209.0,1033.6 L208.1,1033.1 L207.2,1032.6 L206.2,1032.1 L205.2,1031.7 L204.2,1031.2 L203.0,1030.8 L201.9,1030.4 L200.7,1030.0 L199.4,1029.7 L198.1,1029.3 L196.8,1029.0 L195.4,1028.7 L194.0,1028.4 L192.6,1028.2 L191.2,1028.0 L189.7,1027.8 L188.2,1027.6 L186.7,1027.5 L185.2,1027.4 L183.6,1027.3 L182.1,1027.2 L180.6,1027.2 L179.0,1027.1 L177.4,1027.2 L175.9,1027.2 L174.4,1027.3 L172.8,1027.4 L171.3,1027.5 L169.8,1027.6 L168.3,1027.8 L166.8,1028.0 L165.4,1028.2 L164.0,1028.4 L162.6,1028.7 L161.2,1029.0 L159.9,1029.3 L158.6,1029.7 L157.3,1030.0 L156.1,1030.4 L155.0,1030.8 L153.8,1031.2 L152.8,1031.7 L151.8,1032.1 L150.8,1032.6 L149.9,1033.1 L149.0,1033.6 L148.2,1034.1 L147.4,1034.6 L146.8,1035.2 L146.1,1035.7 L145.6,1036.3 L145.1,1036.9 L144.6,1037.4 L144.3,1038.0 L144.0,1038.6 L143.7,1039.2 L143.6,1039.8 L143.5,1040.4 L143.4,1041.0 L130.2,1046.5 L130.2,1045.6 L130.4,1044.8 L130.6,1044.0 L130.9,1043.2 L131.3,1042.3 L131.8,1041.5 L132.4,1040.7 L133.1,1039.9 L133.9,1039.2 L134.7,1038.4 L135.7,1037.7 L136.7,1036.9 L137.8,1036.2 L139.0,1035.5 L140.3,1034.9 L141.6,1034.2 L143.0,1033.6 L144.5,1033.0 L146.0,1032.4 L147.6,1031.9 L149.3,1031.3 L151.0,1030.8 L152.8,1030.4 L154.6,1030.0 L156.5,1029.6 L158.4,1029.2 L160.3,1028.8 L162.3,1028.5 L164.3,1028.3 L166.4,1028.0 L168.4,1027.8 L170.5,1027.7 L172.6,1027.6 L174.7,1027.5 L176.9,1027.4 L179.0,1027.4 L181.1,1027.4 L183.3,1027.5 L185.4,1027.6 L187.5,1027.7 L189.6,1027.8 L191.6,1028.0 L193.7,1028.3 L195.7,1028.5 L197.7,1028.8 L199.6,1029.2 L201.5,1029.6 L203.4,1030.0 L205.2,1030.4 L207.0,1030.8 L208.7,1031.3 L210.4,1031.9 L212.0,1032.4 L213.5,1033.0 L215.0,1033.6 L216.4,1034.2 L217.7,1034.9 L219.0,1035.5 L220.2,1036.2 L221.3,1036.9 L222.3,1037.7 L223.3,1038.4 L224.1,1039.2 L224.9,1039.9 L225.6,1040.7 L226.2,1041.5 L226.7,1042.3 L227.1,1043.2 L227.4,1044.0 L227.6,1044.8 L227.8,1045.6 L227.8,1046.5Z" fill="#101010"/>
<path d="M200.6,1037.4 L200.6,1037.0 L200.5,1036.6 L200.4,1036.3 L200.3,1035.9 L200.1,1035.5 L199.9,1035.2 L199.6,1034.8 L199.3,1034.5 L199.0,1034.1 L198.6,1033.8 L198.2,1033.5 L197.7,1033.1 L197.2,1032.8 L196.7,1032.5 L196.2,1032.2 L195.6,1031.9 L194.9,1031.7 L194.3,1031.4 L193.6,1031.1 L192.9,1030.9 L192.2,1030.7 L191.4,1030.4 L190.6,1030.2 L189.8,1030.0 L189.0,1029.9 L188.1,1029.7 L187.3,1029.6 L186.4,1029.4 L185.5,1029.3 L184.6,1029.2 L183.7,1029.1 L182.8,1029.0 L181.8,1029.0 L180.9,1028.9 L179.9,1028.9 L179.0,1028.9 L178.1,1028.9 L177.1,1028.9 L176.2,1029.0 L175.2,1029.0 L174.3,1029.1 L173.4,1029.2 L172.5,1029.3 L171.6,1029.4 L170.7,1029.6 L169.9,1029.7 L169.0,1029.9 L168.2,1030.0 L167.4,1030.2 L166.6,1030.4 L165.8,1030.7 L165.1,1030.9 L164.4,1031.1 L163.7,1031.4 L163.1,1031.7 L162.4,1031.9 L161.8,1032.2 L161.3,1032.5 L160.8,1032.8 L160.3,1033.1 L159.8,1033.5 L159.4,1033.8 L159.0,1034.1 L158.7,1034.5 L158.4,1034.8 L158.1,1035.2 L157.9,1035.5 L157.7,1035.9 L157.6,1036.3 L157.5,1036.6 L157.4,1037.0 L157.4,1037.4 L143.4,1041.0 L143.5,1040.4 L143.6,1039.8 L143.7,1039.2 L144.0,1038.6 L144.3,1038.0 L144.6,1037.4 L145.1,1036.9 L145.6,1036.3 L146.1,1035.7 L146.8,1035.2 L147.4,1034.6 L148.2,1034.1 L149.0,1033.6 L149.9,1033.1 L150.8,1032.6 L151.8,1032.1 L152.8,1031.7 L153.8,1031.2 L155.0,1030.8 L156.1,1030.4 L157.3,1030.0 L158.6,1029.7 L159.9,1029.3 L161.2,1029.0 L162.6,1028.7 L164.0,1028.4 L165.4,1028.2 L166.8,1028.0 L168.3,1027.8 L169.8,1027.6 L171.3,1027.5 L172.8,1027.4 L174.4,1027.3 L175.9,1027.2 L177.4,1027.2 L179.0,1027.1 L180.6,1027.2 L182.1,1027.2 L183.6,1027.3 L185.2,1027.4 L186.7,1027.5 L188.2,1027.6 L189.7,1027.8 L191.2,1028.0 L192.6,1028.2 L194.0,1028.4 L195.4,1028.7 L196.8,1029.0 L198.1,1029.3 L199.4,1029.7 L200.7,1030.0 L201.9,1030.4 L203.0,1030.8 L204.2,1031.2 L205.2,1031.7 L206.2,1032.1 L207.2,1032.6 L208.1,1033.1 L209.0,1033.6 L209.8,1034.1 L210.6,1034.6 L211.2,1035.2 L211.9,1035.7 L212.4,1036.3 L212.9,1036.9 L213.4,1037.4 L213.7,1038.0 L214.0,1038.6 L214.3,1039.2 L214.4,1039.8 L214.5,1040.4 L214.6,1041.0Z" fill="#2e2e2e"/>
<path d="M186.3,1035.5 L186.2,1035.4 L186.2,1035.3 L186.2,1035.1 L186.1,1035.0 L186.1,1034.9 L186.0,1034.8 L185.9,1034.6 L185.8,1034.5 L185.7,1034.4 L185.6,1034.3 L185.4,1034.2 L185.3,1034.1 L185.1,1034.0 L184.9,1033.9 L184.8,1033.8 L184.6,1033.7 L184.3,1033.6 L184.1,1033.5 L183.9,1033.4 L183.7,1033.3 L183.4,1033.3 L183.2,1033.2 L182.9,1033.1 L182.6,1033.0 L182.3,1033.0 L182.1,1032.9 L181.8,1032.9 L181.5,1032.8 L181.2,1032.8 L180.9,1032.8 L180.6,1032.7 L180.3,1032.7 L179.9,1032.7 L179.6,1032.7 L179.3,1032.7 L179.0,1032.7 L178.7,1032.7 L178.4,1032.7 L178.1,1032.7 L177.7,1032.7 L177.4,1032.7 L177.1,1032.8 L176.8,1032.8 L176.5,1032.8 L176.2,1032.9 L175.9,1032.9 L175.7,1033.0 L175.4,1033.0 L175.1,1033.1 L174.8,1033.2 L174.6,1033.3 L174.3,1033.3 L174.1,1033.4 L173.9,1033.5 L173.7,1033.6 L173.4,1033.7 L173.2,1033.8 L173.1,1033.9 L172.9,1034.0 L172.7,1034.1 L172.6,1034.2 L172.4,1034.3 L172.3,1034.4 L172.2,1034.5 L172.1,1034.6 L172.0,1034.8 L171.9,1034.9 L171.9,1035.0 L171.8,1035.1 L171.8,1035.3 L171.8,1035.4 L171.7,1035.5 L157.4,1037.4 L157.4,1037.0 L157.5,1036.6 L157.6,1036.3 L157.7,1035.9 L157.9,1035.5 L158.1,1035.2 L158.4,1034.8 L158.7,1034.5 L159.0,1034.1 L159.4,1033.8 L159.8,1033.5 L160.3,1033.1 L160.8,1032.8 L161.3,1032.5 L161.8,1032.2 L162.4,1031.9 L163.1,1031.7 L163.7,1031.4 L164.4,1031.1 L165.1,1030.9 L165.8,1030.7 L166.6,1030.4 L167.4,1030.2 L168.2,1030.0 L169.0,1029.9 L169.9,1029.7 L170.7,1029.6 L171.6,1029.4 L172.5,1029.3 L173.4,1029.2 L174.3,1029.1 L175.2,1029.0 L176.2,1029.0 L177.1,1028.9 L178.1,1028.9 L179.0,1028.9 L179.9,1028.9 L180.9,1028.9 L181.8,1029.0 L182.8,1029.0 L183.7,1029.1 L184.6,1029.2 L185.5,1029.3 L186.4,1029.4 L187.3,1029.6 L188.1,1029.7 L189.0,1029.9 L189.8,1030.0 L190.6,1030.2 L191.4,1030.4 L192.2,1030.7 L192.9,1030.9 L193.6,1031.1 L194.3,1031.4 L194.9,1031.7 L195.6,1031.9 L196.2,1032.2 L196.7,1032.5 L197.2,1032.8 L197.7,1033.1 L198.2,1033.5 L198.6,1033.8 L199.0,1034.1 L199.3,1034.5 L199.6,1034.8 L199.9,1035.2 L200.1,1035.5 L200.3,1035.9 L200.4,1036.3 L200.5,1036.6 L200.6,1037.0 L200.6,1037.4Z" fill="#101010"/>
<path d="M147.4,1229.8 L151.4,1230.8 L155.7,1231.7 L160.2,1232.4 L164.7,1233.0 L169.4,1233.4 L174.2,1233.6 L179.0,1233.7 L183.8,1233.6 L188.6,1233.4 L193.3,1233.0 L197.8,1232.4 L202.3,1231.7 L206.6,1230.8 L210.6,1229.8 L203.3,1232.0 L200.2,1232.8 L196.9,1233.4 L193.5,1234.0 L189.9,1234.4 L186.3,1234.7 L182.7,1234.9 L179.0,1235.0 L175.3,1234.9 L171.7,1234.7 L168.1,1234.4 L164.5,1234.0 L161.1,1233.4 L157.8,1232.8 L154.7,1232.0Z" fill="#222222" opacity="1.0"/>
<path d="M127.8,1221.1 L131.7,1222.8 L136.0,1224.3 L140.7,1225.7 L145.6,1227.0 L150.7,1228.0 L156.1,1228.9 L161.7,1229.6 L167.4,1230.1 L173.2,1230.4 L179.0,1230.5 L184.8,1230.4 L190.6,1230.1 L196.3,1229.6 L201.9,1228.9 L207.3,1228.0 L212.4,1227.0 L217.3,1225.7 L222.0,1224.3 L226.3,1222.8 L230.2,1221.1 L221.2,1226.0 L218.0,1227.4 L214.4,1228.7 L210.6,1229.8 L206.6,1230.8 L202.3,1231.7 L197.8,1232.4 L193.3,1233.0 L188.6,1233.4 L183.8,1233.6 L179.0,1233.7 L174.2,1233.6 L169.4,1233.4 L164.7,1233.0 L160.2,1232.4 L155.7,1231.7 L151.4,1230.8 L147.4,1229.8 L143.6,1228.7 L140.0,1227.4 L136.8,1226.0Z" fill="#525252" opacity="1.0"/>
<path d="M112.1,1210.2 L115.7,1212.4 L119.8,1214.5 L124.3,1216.4 L129.3,1218.2 L134.7,1219.8 L140.4,1221.2 L146.3,1222.4 L152.6,1223.4 L159.0,1224.2 L165.6,1224.8 L172.3,1225.1 L179.0,1225.3 L185.7,1225.1 L192.4,1224.8 L199.0,1224.2 L205.4,1223.4 L211.7,1222.4 L217.6,1221.2 L223.3,1219.8 L228.7,1218.2 L233.7,1216.4 L238.2,1214.5 L242.3,1212.4 L245.9,1210.2 L236.9,1217.4 L233.8,1219.3 L230.2,1221.1 L226.3,1222.8 L222.0,1224.3 L217.3,1225.7 L212.4,1227.0 L207.3,1228.0 L201.9,1228.9 L196.3,1229.6 L190.6,1230.1 L184.8,1230.4 L179.0,1230.5 L173.2,1230.4 L167.4,1230.1 L161.7,1229.6 L156.1,1228.9 L150.7,1228.0 L145.6,1227.0 L140.7,1225.7 L136.0,1224.3 L131.7,1222.8 L127.8,1221.1 L124.2,1219.3 L121.1,1217.4Z" fill="#222222" opacity="1.0"/>
<path d="M98.0,1196.1 L100.9,1198.8 L104.3,1201.4 L108.4,1203.9 L113.0,1206.2 L118.0,1208.4 L123.6,1210.3 L129.5,1212.1 L135.9,1213.7 L142.6,1215.1 L149.5,1216.2 L156.7,1217.1 L164.0,1217.7 L171.5,1218.1 L179.0,1218.2 L186.5,1218.1 L194.0,1217.7 L201.3,1217.1 L208.5,1216.2 L215.4,1215.1 L222.1,1213.7 L228.5,1212.1 L234.4,1210.3 L240.0,1208.4 L245.0,1206.2 L249.6,1203.9 L253.7,1201.4 L257.1,1198.8 L260.0,1196.1 L251.6,1205.4 L249.0,1207.8 L245.9,1210.2 L242.3,1212.4 L238.2,1214.5 L233.7,1216.4 L228.7,1218.2 L223.3,1219.8 L217.6,1221.2 L211.7,1222.4 L205.4,1223.4 L199.0,1224.2 L192.4,1224.8 L185.7,1225.1 L179.0,1225.3 L172.3,1225.1 L165.6,1224.8 L159.0,1224.2 L152.6,1223.4 L146.3,1222.4 L140.4,1221.2 L134.7,1219.8 L129.3,1218.2 L124.3,1216.4 L119.8,1214.5 L115.7,1212.4 L112.1,1210.2 L109.0,1207.8 L106.4,1205.4Z" fill="#525252" opacity="1.0"/>
<path d="M88.7,1182.4 L91.2,1185.5 L94.3,1188.4 L98.0,1191.2 L102.4,1193.9 L107.4,1196.4 L112.9,1198.8 L118.9,1200.9 L125.4,1202.9 L132.3,1204.6 L139.5,1206.1 L147.0,1207.3 L154.8,1208.2 L162.8,1208.9 L170.9,1209.4 L179.0,1209.5 L187.1,1209.4 L195.2,1208.9 L203.2,1208.2 L211.0,1207.3 L218.5,1206.1 L225.7,1204.6 L232.6,1202.9 L239.1,1200.9 L245.1,1198.8 L250.6,1196.4 L255.6,1193.9 L260.0,1191.2 L263.7,1188.4 L266.8,1185.5 L269.3,1182.4 L262.3,1193.3 L260.0,1196.1 L257.1,1198.8 L253.7,1201.4 L249.6,1203.9 L245.0,1206.2 L240.0,1208.4 L234.4,1210.3 L228.5,1212.1 L222.1,1213.7 L215.4,1215.1 L208.5,1216.2 L201.3,1217.1 L194.0,1217.7 L186.5,1218.1 L179.0,1218.2 L171.5,1218.1 L164.0,1217.7 L156.7,1217.1 L149.5,1216.2 L142.6,1215.1 L135.9,1213.7 L129.5,1212.1 L123.6,1210.3 L118.0,1208.4 L113.0,1206.2 L108.4,1203.9 L104.3,1201.4 L100.9,1198.8 L98.0,1196.1 L95.7,1193.3Z" fill="#222222" opacity="1.0"/>
<path d="M81.6,1167.3 L83.5,1170.6 L86.1,1173.8 L89.4,1176.9 L93.3,1179.9 L98.0,1182.8 L103.2,1185.4 L109.1,1187.9 L115.4,1190.2 L122.3,1192.2 L129.5,1194.1 L137.2,1195.6 L145.2,1196.9 L153.4,1197.9 L161.8,1198.6 L170.4,1199.1 L179.0,1199.2 L187.6,1199.1 L196.2,1198.6 L204.6,1197.9 L212.8,1196.9 L220.8,1195.6 L228.5,1194.1 L235.7,1192.2 L242.6,1190.2 L248.9,1187.9 L254.8,1185.4 L260.0,1182.8 L264.7,1179.9 L268.6,1176.9 L271.9,1173.8 L274.5,1170.6 L276.4,1167.3 L271.1,1179.3 L269.3,1182.4 L266.8,1185.5 L263.7,1188.4 L260.0,1191.2 L255.6,1193.9 L250.6,1196.4 L245.1,1198.8 L239.1,1200.9 L232.6,1202.9 L225.7,1204.6 L218.5,1206.1 L211.0,1207.3 L203.2,1208.2 L195.2,1208.9 L187.1,1209.4 L179.0,1209.5 L170.9,1209.4 L162.8,1208.9 L154.8,1208.2 L147.0,1207.3 L139.5,1206.1 L132.3,1204.6 L125.4,1202.9 L118.9,1200.9 L112.9,1198.8 L107.4,1196.4 L102.4,1193.9 L98.0,1191.2 L94.3,1188.4 L91.2,1185.5 L88.7,1182.4 L86.9,1179.3Z" fill="#525252" opacity="1.0"/>
<path d="M78.1,1154.6 L80.1,1158.0 L82.8,1161.3 L86.2,1164.5 L90.3,1167.6 L95.1,1170.6 L100.5,1173.3 L106.6,1175.9 L113.2,1178.3 L120.3,1180.4 L127.8,1182.3 L135.7,1183.9 L144.0,1185.2 L152.5,1186.3 L161.2,1187.0 L170.1,1187.5 L179.0,1187.6 L187.9,1187.5 L196.8,1187.0 L205.5,1186.3 L214.0,1185.2 L222.3,1183.9 L230.2,1182.3 L237.7,1180.4 L244.8,1178.3 L251.4,1175.9 L257.5,1173.3 L262.9,1170.6 L267.7,1167.6 L271.8,1164.5 L275.2,1161.3 L277.9,1158.0 L279.9,1154.6 L276.4,1167.3 L274.5,1170.6 L271.9,1173.8 L268.6,1176.9 L264.7,1179.9 L260.0,1182.8 L254.8,1185.4 L248.9,1187.9 L242.6,1190.2 L235.7,1192.2 L228.5,1194.1 L220.8,1195.6 L212.8,1196.9 L204.6,1197.9 L196.2,1198.6 L187.6,1199.1 L179.0,1199.2 L170.4,1199.1 L161.8,1198.6 L153.4,1197.9 L145.2,1196.9 L137.2,1195.6 L129.5,1194.1 L122.3,1192.2 L115.4,1190.2 L109.1,1187.9 L103.2,1185.4 L98.0,1182.8 L93.3,1179.9 L89.4,1176.9 L86.1,1173.8 L83.5,1170.6 L81.6,1167.3Z" fill="#222222" opacity="1.0"/>
<path d="M75.5,1137.9 L76.6,1141.4 L78.6,1144.9 L81.3,1148.2 L84.8,1151.5 L89.0,1154.6 L93.9,1157.6 L99.4,1160.4 L105.5,1163.1 L112.2,1165.5 L119.4,1167.6 L127.0,1169.5 L135.1,1171.1 L143.5,1172.5 L152.1,1173.6 L161.0,1174.3 L169.9,1174.8 L179.0,1175.0 L188.1,1174.8 L197.0,1174.3 L205.9,1173.6 L214.5,1172.5 L222.9,1171.1 L231.0,1169.5 L238.6,1167.6 L245.8,1165.5 L252.5,1163.1 L258.6,1160.4 L264.1,1157.6 L269.0,1154.6 L273.2,1151.5 L276.7,1148.2 L279.4,1144.9 L281.4,1141.4 L282.5,1137.9 L281.0,1151.1 L279.9,1154.6 L277.9,1158.0 L275.2,1161.3 L271.8,1164.5 L267.7,1167.6 L262.9,1170.6 L257.5,1173.3 L251.4,1175.9 L244.8,1178.3 L237.7,1180.4 L230.2,1182.3 L222.3,1183.9 L214.0,1185.2 L205.5,1186.3 L196.8,1187.0 L187.9,1187.5 L179.0,1187.6 L170.1,1187.5 L161.2,1187.0 L152.5,1186.3 L144.0,1185.2 L135.7,1183.9 L127.8,1182.3 L120.3,1180.4 L113.2,1178.3 L106.6,1175.9 L100.5,1173.3 L95.1,1170.6 L90.3,1167.6 L86.2,1164.5 L82.8,1161.3 L80.1,1158.0 L78.1,1154.6 L77.0,1151.1Z" fill="#525252" opacity="1.0"/>
<path d="M75.6,1121.0 L76.0,1124.5 L77.1,1128.0 L79.1,1131.5 L81.8,1134.8 L85.3,1138.1 L89.4,1141.2 L94.3,1144.2 L99.8,1147.0 L105.9,1149.6 L112.5,1152.0 L119.7,1154.1 L127.3,1156.0 L135.3,1157.6 L143.6,1159.0 L152.2,1160.0 L161.0,1160.8 L170.0,1161.3 L179.0,1161.4 L188.0,1161.3 L197.0,1160.8 L205.8,1160.0 L214.4,1159.0 L222.7,1157.6 L230.7,1156.0 L238.3,1154.1 L245.5,1152.0 L252.1,1149.6 L258.2,1147.0 L263.7,1144.2 L268.6,1141.2 L272.7,1138.1 L276.2,1134.8 L278.9,1131.5 L280.9,1128.0 L282.0,1124.5 L282.4,1121.0 L282.9,1134.3 L282.5,1137.9 L281.4,1141.4 L279.4,1144.9 L276.7,1148.2 L273.2,1151.5 L269.0,1154.6 L264.1,1157.6 L258.6,1160.4 L252.5,1163.1 L245.8,1165.5 L238.6,1167.6 L231.0,1169.5 L222.9,1171.1 L214.5,1172.5 L205.9,1173.6 L197.0,1174.3 L188.1,1174.8 L179.0,1175.0 L169.9,1174.8 L161.0,1174.3 L152.1,1173.6 L143.5,1172.5 L135.1,1171.1 L127.0,1169.5 L119.4,1167.6 L112.2,1165.5 L105.5,1163.1 L99.4,1160.4 L93.9,1157.6 L89.0,1154.6 L84.8,1151.5 L81.3,1148.2 L78.6,1144.9 L76.6,1141.4 L75.5,1137.9 L75.1,1134.3Z" fill="#222222" opacity="1.0"/>
<path d="M78.1,1107.8 L78.5,1111.3 L79.6,1114.7 L81.5,1118.0 L84.2,1121.3 L87.5,1124.5 L91.6,1127.6 L96.3,1130.5 L101.7,1133.2 L107.6,1135.7 L114.1,1138.0 L121.1,1140.1 L128.5,1142.0 L136.4,1143.6 L144.5,1144.9 L152.9,1145.9 L161.5,1146.7 L170.2,1147.1 L179.0,1147.3 L187.8,1147.1 L196.5,1146.7 L205.1,1145.9 L213.5,1144.9 L221.6,1143.6 L229.5,1142.0 L236.9,1140.1 L243.9,1138.0 L250.4,1135.7 L256.3,1133.2 L261.7,1130.5 L266.4,1127.6 L270.5,1124.5 L273.8,1121.3 L276.5,1118.0 L278.4,1114.7 L279.5,1111.3 L279.9,1107.8 L282.4,1121.0 L282.0,1124.5 L280.9,1128.0 L278.9,1131.5 L276.2,1134.8 L272.7,1138.1 L268.6,1141.2 L263.7,1144.2 L258.2,1147.0 L252.1,1149.6 L245.5,1152.0 L238.3,1154.1 L230.7,1156.0 L222.7,1157.6 L214.4,1159.0 L205.8,1160.0 L197.0,1160.8 L188.0,1161.3 L179.0,1161.4 L170.0,1161.3 L161.0,1160.8 L152.2,1160.0 L143.6,1159.0 L135.3,1157.6 L127.3,1156.0 L119.7,1154.1 L112.5,1152.0 L105.9,1149.6 L99.8,1147.0 L94.3,1144.2 L89.4,1141.2 L85.3,1138.1 L81.8,1134.8 L79.1,1131.5 L77.1,1128.0 L76.0,1124.5 L75.6,1121.0Z" fill="#525252" opacity="1.0"/>
<path d="M82.9,1091.9 L82.6,1095.1 L82.9,1098.4 L84.0,1101.7 L85.9,1104.9 L88.4,1108.0 L91.6,1111.1 L95.5,1114.0 L100.0,1116.7 L105.1,1119.4 L110.8,1121.8 L117.0,1124.0 L123.7,1126.0 L130.8,1127.8 L138.2,1129.3 L146.0,1130.5 L154.0,1131.5 L162.3,1132.2 L170.6,1132.7 L179.0,1132.8 L187.4,1132.7 L195.7,1132.2 L204.0,1131.5 L212.0,1130.5 L219.8,1129.3 L227.2,1127.8 L234.3,1126.0 L241.0,1124.0 L247.2,1121.8 L252.9,1119.4 L258.0,1116.7 L262.5,1114.0 L266.4,1111.1 L269.6,1108.0 L272.1,1104.9 L274.0,1101.7 L275.1,1098.4 L275.4,1095.1 L275.1,1091.9 L279.5,1104.4 L279.9,1107.8 L279.5,1111.3 L278.4,1114.7 L276.5,1118.0 L273.8,1121.3 L270.5,1124.5 L266.4,1127.6 L261.7,1130.5 L256.3,1133.2 L250.4,1135.7 L243.9,1138.0 L236.9,1140.1 L229.5,1142.0 L221.6,1143.6 L213.5,1144.9 L205.1,1145.9 L196.5,1146.7 L187.8,1147.1 L179.0,1147.3 L170.2,1147.1 L161.5,1146.7 L152.9,1145.9 L144.5,1144.9 L136.4,1143.6 L128.5,1142.0 L121.1,1140.1 L114.1,1138.0 L107.6,1135.7 L101.7,1133.2 L96.3,1130.5 L91.6,1127.6 L87.5,1124.5 L84.2,1121.3 L81.5,1118.0 L79.6,1114.7 L78.5,1111.3 L78.1,1107.8 L78.5,1104.4Z" fill="#222222" opacity="1.0"/>
<path d="M90.3,1077.0 L89.3,1080.1 L88.9,1083.1 L89.3,1086.2 L90.3,1089.2 L92.0,1092.2 L94.4,1095.2 L97.4,1098.0 L101.0,1100.7 L105.2,1103.3 L110.0,1105.8 L115.3,1108.0 L121.1,1110.1 L127.3,1112.0 L134.0,1113.6 L140.9,1115.0 L148.2,1116.2 L155.7,1117.1 L163.4,1117.8 L171.2,1118.2 L179.0,1118.3 L186.8,1118.2 L194.6,1117.8 L202.3,1117.1 L209.8,1116.2 L217.1,1115.0 L224.0,1113.6 L230.7,1112.0 L236.9,1110.1 L242.7,1108.0 L248.0,1105.8 L252.8,1103.3 L257.0,1100.7 L260.6,1098.0 L263.6,1095.2 L266.0,1092.2 L267.7,1089.2 L268.7,1086.2 L269.1,1083.1 L268.7,1080.1 L267.7,1077.0 L274.0,1088.6 L275.1,1091.9 L275.4,1095.1 L275.1,1098.4 L274.0,1101.7 L272.1,1104.9 L269.6,1108.0 L266.4,1111.1 L262.5,1114.0 L258.0,1116.7 L252.9,1119.4 L247.2,1121.8 L241.0,1124.0 L234.3,1126.0 L227.2,1127.8 L219.8,1129.3 L212.0,1130.5 L204.0,1131.5 L195.7,1132.2 L187.4,1132.7 L179.0,1132.8 L170.6,1132.7 L162.3,1132.2 L154.0,1131.5 L146.0,1130.5 L138.2,1129.3 L130.8,1127.8 L123.7,1126.0 L117.0,1124.0 L110.8,1121.8 L105.1,1119.4 L100.0,1116.7 L95.5,1114.0 L91.6,1111.1 L88.4,1108.0 L85.9,1104.9 L84.0,1101.7 L82.9,1098.4 L82.6,1095.1 L82.9,1091.9 L84.0,1088.6Z" fill="#525252" opacity="1.0"/>
<path d="M99.8,1063.8 L98.3,1066.5 L97.4,1069.3 L97.0,1072.1 L97.4,1074.9 L98.3,1077.6 L99.8,1080.3 L102.0,1083.0 L104.7,1085.6 L108.0,1088.1 L111.9,1090.4 L116.2,1092.6 L121.1,1094.7 L126.3,1096.6 L132.0,1098.3 L138.0,1099.8 L144.4,1101.1 L151.0,1102.2 L157.8,1103.0 L164.8,1103.6 L171.9,1104.0 L179.0,1104.1 L186.1,1104.0 L193.2,1103.6 L200.2,1103.0 L207.0,1102.2 L213.6,1101.1 L220.0,1099.8 L226.0,1098.3 L231.7,1096.6 L236.9,1094.7 L241.8,1092.6 L246.1,1090.4 L250.0,1088.1 L253.3,1085.6 L256.0,1083.0 L258.2,1080.3 L259.7,1077.6 L260.6,1074.9 L261.0,1072.1 L260.6,1069.3 L259.7,1066.5 L258.2,1063.8 L266.0,1074.0 L267.7,1077.0 L268.7,1080.1 L269.1,1083.1 L268.7,1086.2 L267.7,1089.2 L266.0,1092.2 L263.6,1095.2 L260.6,1098.0 L257.0,1100.7 L252.8,1103.3 L248.0,1105.8 L242.7,1108.0 L236.9,1110.1 L230.7,1112.0 L224.0,1113.6 L217.1,1115.0 L209.8,1116.2 L202.3,1117.1 L194.6,1117.8 L186.8,1118.2 L179.0,1118.3 L171.2,1118.2 L163.4,1117.8 L155.7,1117.1 L148.2,1116.2 L140.9,1115.0 L134.0,1113.6 L127.3,1112.0 L121.1,1110.1 L115.3,1108.0 L110.0,1105.8 L105.2,1103.3 L101.0,1100.7 L97.4,1098.0 L94.4,1095.2 L92.0,1092.2 L90.3,1089.2 L89.3,1086.2 L88.9,1083.1 L89.3,1080.1 L90.3,1077.0 L92.0,1074.0Z" fill="#222222" opacity="1.0"/>
<path d="M111.1,1052.5 L109.2,1054.8 L107.9,1057.2 L107.0,1059.7 L106.8,1062.1 L107.0,1064.6 L107.9,1067.0 L109.2,1069.4 L111.1,1071.8 L113.5,1074.1 L116.4,1076.2 L119.8,1078.3 L123.7,1080.3 L127.9,1082.1 L132.6,1083.8 L137.6,1085.3 L142.9,1086.6 L148.5,1087.7 L154.3,1088.7 L160.3,1089.4 L166.5,1089.9 L172.7,1090.3 L179.0,1090.4 L185.3,1090.3 L191.5,1089.9 L197.7,1089.4 L203.7,1088.7 L209.5,1087.7 L215.1,1086.6 L220.4,1085.3 L225.4,1083.8 L230.1,1082.1 L234.3,1080.3 L238.2,1078.3 L241.6,1076.2 L244.5,1074.1 L246.9,1071.8 L248.8,1069.4 L250.1,1067.0 L251.0,1064.6 L251.2,1062.1 L251.0,1059.7 L250.1,1057.2 L248.8,1054.8 L246.9,1052.5 L256.0,1061.1 L258.2,1063.8 L259.7,1066.5 L260.6,1069.3 L261.0,1072.1 L260.6,1074.9 L259.7,1077.6 L258.2,1080.3 L256.0,1083.0 L253.3,1085.6 L250.0,1088.1 L246.1,1090.4 L241.8,1092.6 L236.9,1094.7 L231.7,1096.6 L226.0,1098.3 L220.0,1099.8 L213.6,1101.1 L207.0,1102.2 L200.2,1103.0 L193.2,1103.6 L186.1,1104.0 L179.0,1104.1 L171.9,1104.0 L164.8,1103.6 L157.8,1103.0 L151.0,1102.2 L144.4,1101.1 L138.0,1099.8 L132.0,1098.3 L126.3,1096.6 L121.1,1094.7 L116.2,1092.6 L111.9,1090.4 L108.0,1088.1 L104.7,1085.6 L102.0,1083.0 L99.8,1080.3 L98.3,1077.6 L97.4,1074.9 L97.0,1072.1 L97.4,1069.3 L98.3,1066.5 L99.8,1063.8 L102.0,1061.1Z" fill="#525252" opacity="1.0"/>
<path d="M126.1,1041.6 L123.6,1043.5 L121.6,1045.4 L120.0,1047.4 L118.8,1049.4 L118.1,1051.5 L117.9,1053.6 L118.1,1055.6 L118.8,1057.7 L120.0,1059.7 L121.6,1061.7 L123.6,1063.6 L126.1,1065.5 L128.9,1067.3 L132.2,1068.9 L135.8,1070.4 L139.7,1071.8 L143.9,1073.1 L148.4,1074.2 L153.2,1075.2 L158.1,1076.0 L163.2,1076.6 L168.4,1077.1 L173.7,1077.3 L179.0,1077.4 L184.3,1077.3 L189.6,1077.1 L194.8,1076.6 L199.9,1076.0 L204.8,1075.2 L209.6,1074.2 L214.1,1073.1 L218.3,1071.8 L222.2,1070.4 L225.8,1068.9 L229.1,1067.3 L231.9,1065.5 L234.4,1063.6 L236.4,1061.7 L238.0,1059.7 L239.2,1057.7 L239.9,1055.6 L240.1,1053.6 L239.9,1051.5 L239.2,1049.4 L238.0,1047.4 L236.4,1045.4 L234.4,1043.5 L231.9,1041.6 L241.6,1048.0 L244.5,1050.2 L246.9,1052.5 L248.8,1054.8 L250.1,1057.2 L251.0,1059.7 L251.2,1062.1 L251.0,1064.6 L250.1,1067.0 L248.8,1069.4 L246.9,1071.8 L244.5,1074.1 L241.6,1076.2 L238.2,1078.3 L234.3,1080.3 L230.1,1082.1 L225.4,1083.8 L220.4,1085.3 L215.1,1086.6 L209.5,1087.7 L203.7,1088.7 L197.7,1089.4 L191.5,1089.9 L185.3,1090.3 L179.0,1090.4 L172.7,1090.3 L166.5,1089.9 L160.3,1089.4 L154.3,1088.7 L148.5,1087.7 L142.9,1086.6 L137.6,1085.3 L132.6,1083.8 L127.9,1082.1 L123.7,1080.3 L119.8,1078.3 L116.4,1076.2 L113.5,1074.1 L111.1,1071.8 L109.2,1069.4 L107.9,1067.0 L107.0,1064.6 L106.8,1062.1 L107.0,1059.7 L107.9,1057.2 L109.2,1054.8 L111.1,1052.5 L113.5,1050.2 L116.4,1048.0Z" fill="#222222" opacity="1.0"/>
<path d="M141.6,1034.2 L139.0,1035.5 L136.7,1036.9 L134.7,1038.4 L133.1,1039.9 L131.8,1041.5 L130.9,1043.2 L130.4,1044.8 L130.2,1046.5 L130.4,1048.1 L130.9,1049.8 L131.8,1051.4 L133.1,1053.0 L134.7,1054.5 L136.7,1056.0 L139.0,1057.4 L141.6,1058.7 L144.5,1060.0 L147.6,1061.1 L151.0,1062.1 L154.6,1063.0 L158.4,1063.8 L162.3,1064.4 L166.4,1064.9 L170.5,1065.3 L174.7,1065.5 L179.0,1065.6 L183.3,1065.5 L187.5,1065.3 L191.6,1064.9 L195.7,1064.4 L199.6,1063.8 L203.4,1063.0 L207.0,1062.1 L210.4,1061.1 L213.5,1060.0 L216.4,1058.7 L219.0,1057.4 L221.3,1056.0 L223.3,1054.5 L224.9,1053.0 L226.2,1051.4 L227.1,1049.8 L227.6,1048.1 L227.8,1046.5 L227.6,1044.8 L227.1,1043.2 L226.2,1041.5 L224.9,1039.9 L223.3,1038.4 L221.3,1036.9 L219.0,1035.5 L216.4,1034.2 L225.8,1038.2 L229.1,1039.9 L231.9,1041.6 L234.4,1043.5 L236.4,1045.4 L238.0,1047.4 L239.2,1049.4 L239.9,1051.5 L240.1,1053.6 L239.9,1055.6 L239.2,1057.7 L238.0,1059.7 L236.4,1061.7 L234.4,1063.6 L231.9,1065.5 L229.1,1067.3 L225.8,1068.9 L222.2,1070.4 L218.3,1071.8 L214.1,1073.1 L209.6,1074.2 L204.8,1075.2 L199.9,1076.0 L194.8,1076.6 L189.6,1077.1 L184.3,1077.3 L179.0,1077.4 L173.7,1077.3 L168.4,1077.1 L163.2,1076.6 L158.1,1076.0 L153.2,1075.2 L148.4,1074.2 L143.9,1073.1 L139.7,1071.8 L135.8,1070.4 L132.2,1068.9 L128.9,1067.3 L126.1,1065.5 L123.6,1063.6 L121.6,1061.7 L120.0,1059.7 L118.8,1057.7 L118.1,1055.6 L117.9,1053.6 L118.1,1051.5 L118.8,1049.4 L120.0,1047.4 L121.6,1045.4 L123.6,1043.5 L126.1,1041.6 L128.9,1039.9 L132.2,1038.2Z" fill="#525252" opacity="1.0"/>
<path d="M166.8,1028.0 L164.0,1028.4 L161.2,1029.0 L158.6,1029.7 L156.1,1030.4 L153.8,1031.2 L151.8,1032.1 L149.9,1033.1 L148.2,1034.1 L146.8,1035.2 L145.6,1036.3 L144.6,1037.4 L144.0,1038.6 L143.6,1039.8 L143.4,1041.0 L143.6,1042.3 L144.0,1043.5 L144.6,1044.6 L145.6,1045.8 L146.8,1046.9 L148.2,1048.0 L149.9,1049.0 L151.8,1050.0 L153.8,1050.9 L156.1,1051.7 L158.6,1052.4 L161.2,1053.1 L164.0,1053.6 L166.8,1054.1 L169.8,1054.5 L172.8,1054.7 L175.9,1054.9 L179.0,1054.9 L182.1,1054.9 L185.2,1054.7 L188.2,1054.5 L191.2,1054.1 L194.0,1053.6 L196.8,1053.1 L199.4,1052.4 L201.9,1051.7 L204.2,1050.9 L206.2,1050.0 L208.1,1049.0 L209.8,1048.0 L211.2,1046.9 L212.4,1045.8 L213.4,1044.6 L214.0,1043.5 L214.4,1042.3 L214.6,1041.0 L214.4,1039.8 L214.0,1038.6 L213.4,1037.4 L212.4,1036.3 L211.2,1035.2 L209.8,1034.1 L208.1,1033.1 L206.2,1032.1 L204.2,1031.2 L201.9,1030.4 L199.4,1029.7 L196.8,1029.0 L194.0,1028.4 L191.2,1028.0 L195.7,1028.5 L199.6,1029.2 L203.4,1030.0 L207.0,1030.8 L210.4,1031.9 L213.5,1033.0 L216.4,1034.2 L219.0,1035.5 L221.3,1036.9 L223.3,1038.4 L224.9,1039.9 L226.2,1041.5 L227.1,1043.2 L227.6,1044.8 L227.8,1046.5 L227.6,1048.1 L227.1,1049.8 L226.2,1051.4 L224.9,1053.0 L223.3,1054.5 L221.3,1056.0 L219.0,1057.4 L216.4,1058.7 L213.5,1060.0 L210.4,1061.1 L207.0,1062.1 L203.4,1063.0 L199.6,1063.8 L195.7,1064.4 L191.6,1064.9 L187.5,1065.3 L183.3,1065.5 L179.0,1065.6 L174.7,1065.5 L170.5,1065.3 L166.4,1064.9 L162.3,1064.4 L158.4,1063.8 L154.6,1063.0 L151.0,1062.1 L147.6,1061.1 L144.5,1060.0 L141.6,1058.7 L139.0,1057.4 L136.7,1056.0 L134.7,1054.5 L133.1,1053.0 L131.8,1051.4 L130.9,1049.8 L130.4,1048.1 L130.2,1046.5 L130.4,1044.8 L130.9,1043.2 L131.8,1041.5 L133.1,1039.9 L134.7,1038.4 L136.7,1036.9 L139.0,1035.5 L141.6,1034.2 L144.5,1033.0 L147.6,1031.9 L151.0,1030.8 L154.6,1030.0 L158.4,1029.2 L162.3,1028.5Z" fill="#222222" opacity="1.0"/>
<path d="M179.0,1028.9 L177.1,1028.9 L175.2,1029.0 L173.4,1029.2 L171.6,1029.4 L169.9,1029.7 L168.2,1030.0 L166.6,1030.4 L165.1,1030.9 L163.7,1031.4 L162.4,1031.9 L161.3,1032.5 L160.3,1033.1 L159.4,1033.8 L158.7,1034.5 L158.1,1035.2 L157.7,1035.9 L157.5,1036.6 L157.4,1037.4 L157.5,1038.1 L157.7,1038.8 L158.1,1039.5 L158.7,1040.2 L159.4,1040.9 L160.3,1041.6 L161.3,1042.2 L162.4,1042.8 L163.7,1043.3 L165.1,1043.8 L166.6,1044.3 L168.2,1044.7 L169.9,1045.0 L171.6,1045.3 L173.4,1045.5 L175.2,1045.7 L177.1,1045.8 L179.0,1045.8 L180.9,1045.8 L182.8,1045.7 L184.6,1045.5 L186.4,1045.3 L188.1,1045.0 L189.8,1044.7 L191.4,1044.3 L192.9,1043.8 L194.3,1043.3 L195.6,1042.8 L196.7,1042.2 L197.7,1041.6 L198.6,1040.9 L199.3,1040.2 L199.9,1039.5 L200.3,1038.8 L200.5,1038.1 L200.6,1037.4 L200.5,1036.6 L200.3,1035.9 L199.9,1035.2 L199.3,1034.5 L198.6,1033.8 L197.7,1033.1 L196.7,1032.5 L195.6,1031.9 L194.3,1031.4 L192.9,1030.9 L191.4,1030.4 L189.8,1030.0 L188.1,1029.7 L186.4,1029.4 L184.6,1029.2 L182.8,1029.0 L180.9,1028.9 L179.0,1028.9 L179.0,1027.1 L182.1,1027.2 L185.2,1027.4 L188.2,1027.6 L191.2,1028.0 L194.0,1028.4 L196.8,1029.0 L199.4,1029.7 L201.9,1030.4 L204.2,1031.2 L206.2,1032.1 L208.1,1033.1 L209.8,1034.1 L211.2,1035.2 L212.4,1036.3 L213.4,1037.4 L214.0,1038.6 L214.4,1039.8 L214.6,1041.0 L214.4,1042.3 L214.0,1043.5 L213.4,1044.6 L212.4,1045.8 L211.2,1046.9 L209.8,1048.0 L208.1,1049.0 L206.2,1050.0 L204.2,1050.9 L201.9,1051.7 L199.4,1052.4 L196.8,1053.1 L194.0,1053.6 L191.2,1054.1 L188.2,1054.5 L185.2,1054.7 L182.1,1054.9 L179.0,1054.9 L175.9,1054.9 L172.8,1054.7 L169.8,1054.5 L166.8,1054.1 L164.0,1053.6 L161.2,1053.1 L158.6,1052.4 L156.1,1051.7 L153.8,1050.9 L151.8,1050.0 L149.9,1049.0 L148.2,1048.0 L146.8,1046.9 L145.6,1045.8 L144.6,1044.6 L144.0,1043.5 L143.6,1042.3 L143.4,1041.0 L143.6,1039.8 L144.0,1038.6 L144.6,1037.4 L145.6,1036.3 L146.8,1035.2 L148.2,1034.1 L149.9,1033.1 L151.8,1032.1 L153.8,1031.2 L156.1,1030.4 L158.6,1029.7 L161.2,1029.0 L164.0,1028.4 L166.8,1028.0 L169.8,1027.6 L172.8,1027.4 L175.9,1027.2 L179.0,1027.1Z" fill="#525252" opacity="1.0"/>
<path d="M179.0,1032.7 L178.4,1032.7 L177.7,1032.7 L177.1,1032.8 L176.5,1032.8 L175.9,1032.9 L175.4,1033.0 L174.8,1033.2 L174.3,1033.3 L173.9,1033.5 L173.4,1033.7 L173.1,1033.9 L172.7,1034.1 L172.4,1034.3 L172.2,1034.5 L172.0,1034.8 L171.9,1035.0 L171.8,1035.3 L171.7,1035.5 L171.8,1035.7 L171.9,1036.0 L172.0,1036.2 L172.2,1036.5 L172.4,1036.7 L172.7,1036.9 L173.1,1037.1 L173.4,1037.3 L173.9,1037.5 L174.3,1037.7 L174.8,1037.8 L175.4,1038.0 L175.9,1038.1 L176.5,1038.2 L177.1,1038.2 L177.7,1038.3 L178.4,1038.3 L179.0,1038.3 L179.6,1038.3 L180.3,1038.3 L180.9,1038.2 L181.5,1038.2 L182.1,1038.1 L182.6,1038.0 L183.2,1037.8 L183.7,1037.7 L184.1,1037.5 L184.6,1037.3 L184.9,1037.1 L185.3,1036.9 L185.6,1036.7 L185.8,1036.5 L186.0,1036.2 L186.1,1036.0 L186.2,1035.7 L186.3,1035.5 L186.2,1035.3 L186.1,1035.0 L186.0,1034.8 L185.8,1034.5 L185.6,1034.3 L185.3,1034.1 L184.9,1033.9 L184.6,1033.7 L184.1,1033.5 L183.7,1033.3 L183.2,1033.2 L182.6,1033.0 L182.1,1032.9 L181.5,1032.8 L180.9,1032.8 L180.3,1032.7 L179.6,1032.7 L179.0,1032.7 L179.0,1028.9 L180.9,1028.9 L182.8,1029.0 L184.6,1029.2 L186.4,1029.4 L188.1,1029.7 L189.8,1030.0 L191.4,1030.4 L192.9,1030.9 L194.3,1031.4 L195.6,1031.9 L196.7,1032.5 L197.7,1033.1 L198.6,1033.8 L199.3,1034.5 L199.9,1035.2 L200.3,1035.9 L200.5,1036.6 L200.6,1037.4 L200.5,1038.1 L200.3,1038.8 L199.9,1039.5 L199.3,1040.2 L198.6,1040.9 L197.7,1041.6 L196.7,1042.2 L195.6,1042.8 L194.3,1043.3 L192.9,1043.8 L191.4,1044.3 L189.8,1044.7 L188.1,1045.0 L186.4,1045.3 L184.6,1045.5 L182.8,1045.7 L180.9,1045.8 L179.0,1045.8 L177.1,1045.8 L175.2,1045.7 L173.4,1045.5 L171.6,1045.3 L169.9,1045.0 L168.2,1044.7 L166.6,1044.3 L165.1,1043.8 L163.7,1043.3 L162.4,1042.8 L161.3,1042.2 L160.3,1041.6 L159.4,1040.9 L158.7,1040.2 L158.1,1039.5 L157.7,1038.8 L157.5,1038.1 L157.4,1037.4 L157.5,1036.6 L157.7,1035.9 L158.1,1035.2 L158.7,1034.5 L159.4,1033.8 L160.3,1033.1 L161.3,1032.5 L162.4,1031.9 L163.7,1031.4 L165.1,1030.9 L166.6,1030.4 L168.2,1030.0 L169.9,1029.7 L171.6,1029.4 L173.4,1029.2 L175.2,1029.0 L177.1,1028.9 L179.0,1028.9Z" fill="#222222" opacity="1.0"/>
<circle cx="179" cy="1131" r="103.5" fill="url(#shellShade)"/>
<circle cx="181" cy="1130" r="84" fill="#0a0a0a" opacity="0.6" transform="translate(0,3)"/>
<circle cx="181" cy="1130" r="84" fill="url(#gBlue)"/>
<rect x="97" y="1046" width="168" height="168" fill="url(#landGrad)" mask="url(#landMask2)"/>
<circle cx="181" cy="1130" r="84" fill="url(#gShade)"/>
<g clip-path="url(#gclip2)"><path d="M147.4,1229.8 L151.4,1230.8 L155.7,1231.7 L160.2,1232.4 L164.7,1233.0 L169.4,1233.4 L174.2,1233.6 L179.0,1233.7 L183.8,1233.6 L188.6,1233.4 L193.3,1233.0 L197.8,1232.4 L202.3,1231.7 L206.6,1230.8 L210.6,1229.8 L203.3,1232.0 L200.2,1232.8 L196.9,1233.4 L193.5,1234.0 L189.9,1234.4 L186.3,1234.7 L182.7,1234.9 L179.0,1235.0 L175.3,1234.9 L171.7,1234.7 L168.1,1234.4 L164.5,1234.0 L161.1,1233.4 L157.8,1232.8 L154.7,1232.0Z" fill="#222222" opacity="0.55"/>
<path d="M127.8,1221.1 L131.7,1222.8 L136.0,1224.3 L140.7,1225.7 L145.6,1227.0 L150.7,1228.0 L156.1,1228.9 L161.7,1229.6 L167.4,1230.1 L173.2,1230.4 L179.0,1230.5 L184.8,1230.4 L190.6,1230.1 L196.3,1229.6 L201.9,1228.9 L207.3,1228.0 L212.4,1227.0 L217.3,1225.7 L222.0,1224.3 L226.3,1222.8 L230.2,1221.1 L221.2,1226.0 L218.0,1227.4 L214.4,1228.7 L210.6,1229.8 L206.6,1230.8 L202.3,1231.7 L197.8,1232.4 L193.3,1233.0 L188.6,1233.4 L183.8,1233.6 L179.0,1233.7 L174.2,1233.6 L169.4,1233.4 L164.7,1233.0 L160.2,1232.4 L155.7,1231.7 L151.4,1230.8 L147.4,1229.8 L143.6,1228.7 L140.0,1227.4 L136.8,1226.0Z" fill="#525252" opacity="0.55"/>
<path d="M112.1,1210.2 L115.7,1212.4 L119.8,1214.5 L124.3,1216.4 L129.3,1218.2 L134.7,1219.8 L140.4,1221.2 L146.3,1222.4 L152.6,1223.4 L159.0,1224.2 L165.6,1224.8 L172.3,1225.1 L179.0,1225.3 L185.7,1225.1 L192.4,1224.8 L199.0,1224.2 L205.4,1223.4 L211.7,1222.4 L217.6,1221.2 L223.3,1219.8 L228.7,1218.2 L233.7,1216.4 L238.2,1214.5 L242.3,1212.4 L245.9,1210.2 L236.9,1217.4 L233.8,1219.3 L230.2,1221.1 L226.3,1222.8 L222.0,1224.3 L217.3,1225.7 L212.4,1227.0 L207.3,1228.0 L201.9,1228.9 L196.3,1229.6 L190.6,1230.1 L184.8,1230.4 L179.0,1230.5 L173.2,1230.4 L167.4,1230.1 L161.7,1229.6 L156.1,1228.9 L150.7,1228.0 L145.6,1227.0 L140.7,1225.7 L136.0,1224.3 L131.7,1222.8 L127.8,1221.1 L124.2,1219.3 L121.1,1217.4Z" fill="#222222" opacity="0.55"/>
<path d="M98.0,1196.1 L100.9,1198.8 L104.3,1201.4 L108.4,1203.9 L113.0,1206.2 L118.0,1208.4 L123.6,1210.3 L129.5,1212.1 L135.9,1213.7 L142.6,1215.1 L149.5,1216.2 L156.7,1217.1 L164.0,1217.7 L171.5,1218.1 L179.0,1218.2 L186.5,1218.1 L194.0,1217.7 L201.3,1217.1 L208.5,1216.2 L215.4,1215.1 L222.1,1213.7 L228.5,1212.1 L234.4,1210.3 L240.0,1208.4 L245.0,1206.2 L249.6,1203.9 L253.7,1201.4 L257.1,1198.8 L260.0,1196.1 L251.6,1205.4 L249.0,1207.8 L245.9,1210.2 L242.3,1212.4 L238.2,1214.5 L233.7,1216.4 L228.7,1218.2 L223.3,1219.8 L217.6,1221.2 L211.7,1222.4 L205.4,1223.4 L199.0,1224.2 L192.4,1224.8 L185.7,1225.1 L179.0,1225.3 L172.3,1225.1 L165.6,1224.8 L159.0,1224.2 L152.6,1223.4 L146.3,1222.4 L140.4,1221.2 L134.7,1219.8 L129.3,1218.2 L124.3,1216.4 L119.8,1214.5 L115.7,1212.4 L112.1,1210.2 L109.0,1207.8 L106.4,1205.4Z" fill="#525252" opacity="0.55"/>
<path d="M88.7,1182.4 L91.2,1185.5 L94.3,1188.4 L98.0,1191.2 L102.4,1193.9 L107.4,1196.4 L112.9,1198.8 L118.9,1200.9 L125.4,1202.9 L132.3,1204.6 L139.5,1206.1 L147.0,1207.3 L154.8,1208.2 L162.8,1208.9 L170.9,1209.4 L179.0,1209.5 L187.1,1209.4 L195.2,1208.9 L203.2,1208.2 L211.0,1207.3 L218.5,1206.1 L225.7,1204.6 L232.6,1202.9 L239.1,1200.9 L245.1,1198.8 L250.6,1196.4 L255.6,1193.9 L260.0,1191.2 L263.7,1188.4 L266.8,1185.5 L269.3,1182.4 L262.3,1193.3 L260.0,1196.1 L257.1,1198.8 L253.7,1201.4 L249.6,1203.9 L245.0,1206.2 L240.0,1208.4 L234.4,1210.3 L228.5,1212.1 L222.1,1213.7 L215.4,1215.1 L208.5,1216.2 L201.3,1217.1 L194.0,1217.7 L186.5,1218.1 L179.0,1218.2 L171.5,1218.1 L164.0,1217.7 L156.7,1217.1 L149.5,1216.2 L142.6,1215.1 L135.9,1213.7 L129.5,1212.1 L123.6,1210.3 L118.0,1208.4 L113.0,1206.2 L108.4,1203.9 L104.3,1201.4 L100.9,1198.8 L98.0,1196.1 L95.7,1193.3Z" fill="#222222" opacity="0.55"/></g>
</g>
<text x="135.6" y="515.6" font-family='"Liberation Sans", sans-serif' font-size="24" font-weight="normal" fill="#f4f4f4" stroke="#f4f4f4" stroke-width="0.5" stroke-linejoin="round" textLength="88" lengthAdjust="spacingAndGlyphs">Internet</text>
<text x="135.6" y="1263" font-family='"Liberation Sans", sans-serif' font-size="24" font-weight="normal" fill="#f4f4f4" stroke="#f4f4f4" stroke-width="0.5" stroke-linejoin="round" textLength="88" lengthAdjust="spacingAndGlyphs">Internet</text>
<text x="526" y="517" font-family='"Liberation Sans", sans-serif' font-size="24" font-weight="normal" fill="#f4f4f4" stroke="#f4f4f4" stroke-width="0.5" stroke-linejoin="round" textLength="176" lengthAdjust="spacingAndGlyphs">Wireless Router</text>
<text x="571" y="1211.2" font-family='"Liberation Sans", sans-serif' font-size="24" font-weight="normal" fill="#f4f4f4" stroke="#f4f4f4" stroke-width="0.5" stroke-linejoin="round" textLength="84.5" lengthAdjust="spacingAndGlyphs">Modem</text>
<g>
<path d="M385,364.0 L415.5,383.5 L385,403.0 Z" fill="#0a2326" stroke="#3a6a6c" stroke-width="1.2"/>
<rect x="337" y="377.3" width="50" height="12.4" fill="url(#gShaftH)"/>
<path d="M387,368.5 L410.5,383.5 L387,398.5 Z" fill="url(#gHead)"/>
</g>
<g>
<path d="M385,1111.1 L415.5,1130.6 L385,1150.1 Z" fill="#0a2326" stroke="#3a6a6c" stroke-width="1.2"/>
<rect x="337" y="1124.3999999999999" width="50" height="12.4" fill="url(#gShaftH)"/>
<path d="M387,1115.6 L410.5,1130.6 L387,1145.6 Z" fill="url(#gHead)"/>
</g>
<g>
<path d="M843.5,1111.1 L874.0,1130.6 L843.5,1150.1 Z" fill="#0a2326" stroke="#3a6a6c" stroke-width="1.2"/>
<rect x="795.5" y="1124.3999999999999" width="50.0" height="12.4" fill="url(#gShaftH)"/>
<path d="M845.5,1115.6 L869.0,1130.6 L845.5,1145.6 Z" fill="url(#gHead)"/>
</g>
<g transform="translate(788.7,297.6) rotate(-31)" fill="none" stroke="#12e4f6" stroke-width="7.5" stroke-linecap="round" filter="url(#softglow)">
<path d="M11.67,-11.67 A16.5,16.5 0 0 1 11.67,11.67"/>
<path d="M21.92,-21.92 A31,31 0 0 1 21.92,21.92"/>
<path d="M32.88,-32.88 A46.5,46.5 0 0 1 32.88,32.88"/>
<circle cx="0" cy="0" r="4.9" fill="#12e4f6" stroke="none"/>
</g>
<g transform="translate(1086.5,194) rotate(150)" fill="none" stroke="#12e4f6" stroke-width="6" stroke-linecap="round" filter="url(#softglow)">
<path d="M10.96,-10.96 A15.5,15.5 0 0 1 10.96,10.96"/>
<path d="M20.51,-20.51 A29,29 0 0 1 20.51,20.51"/>
<path d="M30.76,-30.76 A43.5,43.5 0 0 1 30.76,30.76"/>
<circle cx="0" cy="0" r="4.5" fill="#12e4f6" stroke="none"/>
</g>
<g transform="translate(1238,1337.6) rotate(180)" fill="none" stroke="#12e4f6" stroke-width="10" stroke-linecap="round" filter="url(#softglow)">
<path d="M14.85,-14.85 A21,21 0 0 1 14.85,14.85"/>
<path d="M28.28,-28.28 A40,40 0 0 1 28.28,28.28"/>
<path d="M42.43,-42.43 A60,60 0 0 1 42.43,42.43"/>
<circle cx="0" cy="0" r="6.4" fill="#12e4f6" stroke="none"/>
</g>
<defs><g id="desk"><path d="M959.0,502.0 L1012.0,502.0 L1016.0,606.0 L959.0,613.0Z" fill="url(#towerSide)"/>
<path d="M928.5,502.0 L959.5,502.0 L959.5,615.0 L928.5,614.0Z" fill="#161616"/>
<path d="M928.5,502.0 L959.5,502.0 L959.5,615.0 L928.5,614.0Z" fill="url(#mesh)"/>
<rect x="938" y="504" width="18" height="54" fill="#1e1e1e" stroke="#333" stroke-width="0.8"/>
<rect x="948" y="532" width="5" height="5" fill="#333"/><rect x="948" y="540" width="5" height="6" fill="#333"/>
<circle cx="942" cy="588" r="5" fill="none" stroke="#bbb" stroke-width="1.6"/><rect x="939" y="587" width="6" height="2" fill="#ccc"/>
<path d="M1052.0,625.0 L1108.0,615.6 L1181.0,625.0 L1128.0,634.0Z" fill="url(#baseG)"/>
<path d="M1052.0,625.0 L1128.0,634.0 L1181.0,625.0 L1181.0,627.0 L1128.0,636.5 L1052.0,627.0Z" fill="#8a8a8a"/>
<rect x="1116.5" y="596" width="20.5" height="26" fill="url(#neckG)"/>
<path d="M1034,597 C1060,606 1090,612 1116,612" stroke="#222" stroke-width="1.5" fill="none"/>
<path d="M1004.0,444.5 L1220.0,435.5 L1220.0,604.5 L1004.0,597.0Z" fill="#19191b" stroke="#3c3c3e" stroke-width="1.6"/>
<path d="M1215.0,436.0 L1220.0,435.5 L1220.0,604.5 L1215.0,604.0Z" fill="#8a8a90"/>
<path d="M1006.7,449.0 L1214.6,440.0 L1214.6,601.2 L1006.7,592.0Z" fill="url(#cadBg)" />
<path d="M1006.7,449.0 L1031.6,447.9 L1031.6,593.1 L1006.7,592.0Z" fill="url(#sidebarG)" />
<path d="M1031.6,447.9 L1100.3,444.9 L1100.3,596.1 L1031.6,593.1Z" fill="#f2f2f6" />
<path d="M1035.8,451.9 L1094.0,449.5 L1094.0,456.0 L1035.8,458.1Z" fill="#e2e2ea" />
<path d="M1031.6,493.5 L1100.3,492.5 L1100.3,505.4 L1031.6,506.0Z" fill="#d4d4ea" />
<path d="M1036.8,474.7 L1055.6,474.2 L1055.6,475.9 L1036.8,476.4Z" fill="#6a6a70" />
<path d="M1075.3,473.7 L1095.1,473.2 L1095.1,474.5 L1075.3,475.0Z" fill="#9a9aa0" />
<path d="M1036.8,478.9 L1078.4,477.9 L1078.4,479.1 L1036.8,480.0Z" fill="#b0b0b6" />
<path d="M1036.8,482.0 L1070.1,481.3 L1070.1,482.4 L1036.8,483.2Z" fill="#b8b8be" />
<path d="M1036.8,491.9 L1055.6,491.6 L1055.6,493.3 L1036.8,493.6Z" fill="#6a6a70" />
<path d="M1075.3,491.3 L1095.1,490.9 L1095.1,492.2 L1075.3,492.5Z" fill="#9a9aa0" />
<path d="M1036.8,496.1 L1078.4,495.5 L1078.4,496.6 L1036.8,497.2Z" fill="#b0b0b6" />
<path d="M1036.8,499.2 L1070.1,498.8 L1070.1,499.9 L1036.8,500.3Z" fill="#b8b8be" />
<path d="M1036.8,509.1 L1055.6,509.0 L1055.6,510.6 L1036.8,510.7Z" fill="#6a6a70" />
<path d="M1075.3,508.8 L1095.1,508.7 L1095.1,510.0 L1075.3,510.1Z" fill="#9a9aa0" />
<path d="M1036.8,513.2 L1078.4,513.1 L1078.4,514.2 L1036.8,514.4Z" fill="#b0b0b6" />
<path d="M1036.8,516.4 L1070.1,516.3 L1070.1,517.5 L1036.8,517.5Z" fill="#b8b8be" />
<path d="M1036.8,526.2 L1055.6,526.3 L1055.6,528.0 L1036.8,527.9Z" fill="#6a6a70" />
<path d="M1075.3,526.4 L1095.1,526.5 L1095.1,527.8 L1075.3,527.7Z" fill="#9a9aa0" />
<path d="M1036.8,530.4 L1078.4,530.7 L1078.4,531.8 L1036.8,531.5Z" fill="#b0b0b6" />
<path d="M1036.8,533.5 L1070.1,533.8 L1070.1,535.0 L1036.8,534.7Z" fill="#b8b8be" />
<path d="M1036.8,543.4 L1055.6,543.7 L1055.6,545.4 L1036.8,545.1Z" fill="#6a6a70" />
<path d="M1075.3,543.9 L1095.1,544.2 L1095.1,545.5 L1075.3,545.2Z" fill="#9a9aa0" />
<path d="M1036.8,547.6 L1078.4,548.3 L1078.4,549.4 L1036.8,548.7Z" fill="#b0b0b6" />
<path d="M1036.8,550.7 L1070.1,551.3 L1070.1,552.5 L1036.8,551.8Z" fill="#b8b8be" />
<path d="M1036.8,560.6 L1055.6,561.0 L1055.6,562.7 L1036.8,562.2Z" fill="#6a6a70" />
<path d="M1075.3,561.5 L1095.1,562.0 L1095.1,563.3 L1075.3,562.8Z" fill="#9a9aa0" />
<path d="M1036.8,564.7 L1078.4,565.9 L1078.4,567.0 L1036.8,565.9Z" fill="#b0b0b6" />
<path d="M1036.8,567.8 L1070.1,568.8 L1070.1,570.0 L1036.8,569.0Z" fill="#b8b8be" />
<path d="M1036.8,577.7 L1055.6,578.4 L1055.6,580.1 L1036.8,579.4Z" fill="#6a6a70" />
<path d="M1075.3,579.1 L1095.1,579.8 L1095.1,581.1 L1075.3,580.3Z" fill="#9a9aa0" />
<path d="M1036.8,581.9 L1078.4,583.4 L1078.4,584.6 L1036.8,583.0Z" fill="#b0b0b6" />
<path d="M1036.8,585.0 L1070.1,586.3 L1070.1,587.5 L1036.8,586.2Z" fill="#b8b8be" />
<path d="M1010.9,485.7 L1023.3,485.4 L1023.3,487.1 L1010.9,487.3Z" fill="#c8c8f0" opacity="0.75"/>
<path d="M1010.9,493.4 L1023.3,493.2 L1023.3,494.8 L1010.9,495.0Z" fill="#c8c8f0" opacity="0.75"/>
<path d="M1010.9,501.0 L1023.3,500.9 L1023.3,502.6 L1010.9,502.7Z" fill="#c8c8f0" opacity="0.75"/>
<path d="M1010.9,508.7 L1023.3,508.6 L1023.3,510.3 L1010.9,510.4Z" fill="#c8c8f0" opacity="0.75"/>
<path d="M1010.9,516.4 L1023.3,516.4 L1023.3,518.0 L1010.9,518.0Z" fill="#c8c8f0" opacity="0.75"/>
<path d="M1010.9,524.1 L1023.3,524.1 L1023.3,525.8 L1010.9,525.7Z" fill="#c8c8f0" opacity="0.75"/>
<path d="M1009.8,459.1 L1025.4,458.5 L1025.4,462.7 L1009.8,463.2Z" fill="#e0e0ff" opacity="0.7"/>
<path d="M1100.3,444.9 L1214.6,440.0 L1214.6,445.8 L1100.3,450.3Z" fill="#17202c" />
<path d="M1093.0,446.6 L1094.8,446.5 L1094.8,448.4 L1093.0,448.5Z" fill="#e8e8e8" />
<path d="M1096.1,446.4 L1098.0,446.3 L1098.0,448.3 L1096.1,448.4Z" fill="#e8e8e8" />
<path d="M1099.2,446.3 L1101.1,446.2 L1101.1,448.2 L1099.2,448.2Z" fill="#e8e8e8" />
<path d="M1202.1,441.5 L1204.2,441.4 L1204.2,443.7 L1202.1,443.7Z" fill="#e8e8e8" />
<path d="M1205.8,441.3 L1207.8,441.2 L1207.8,443.5 L1205.8,443.6Z" fill="#e8e8e8" />
<path d="M1209.4,441.1 L1211.5,441.1 L1211.5,443.4 L1209.4,443.4Z" fill="#e8e8e8" />
<g transform="matrix(1.03950,0.00050,0.00000,1.11243,1152.23,520.57)">
<ellipse cx="8" cy="4" rx="60" ry="70" fill="url(#cadGlow)"/>
<path d="M-6.7,-50.7 L19,-56 L28.8,-18.4 L0,-13.8 Z" fill="#8ee6f2" opacity="0.7"/>
<path d="M-3,-46 L16,-50 L22,-28 L2,-24 Z" fill="#d0f8fc" opacity="0.45"/>
<ellipse cx="-4" cy="2" rx="31" ry="46" fill="#5ad8ec" opacity="0.55"/>
<ellipse cx="-4" cy="2" rx="29" ry="44" fill="none" stroke="#b0f4fc" stroke-width="2.5" opacity="0.6"/>
<path d="M-1.9,27.6 L34.6,27.6 L27,57 L0,64.5 Z" fill="#6adcee" opacity="0.5"/>
<ellipse cx="27" cy="7" rx="21" ry="28" fill="#52cce2" opacity="0.8"/>
<ellipse cx="30" cy="5" rx="12.5" ry="16.6" fill="#aeeef8" opacity="0.65"/>
<ellipse cx="-9.6" cy="9" rx="9" ry="22" fill="#262e36"/>
<path d="M-3.8,-26 L11,-24 L13.5,39 L-2,37 Z" fill="#8a5a44"/>
<path d="M-3.8,-26 L11,-24 L13.5,39 L-2,37 Z" fill="url(#ribs)"/>
<path d="M-23,54 L6,40.5 L9.5,47.5 L-19.5,61 Z" fill="#9ae8f4" opacity="0.85"/>
<path d="M-8.5,61.5 L20.5,48 L24,55 L-5,68.5 Z" fill="#9ae8f4" opacity="0.85"/>
</g>
<path d="M936.0,628.0 L1098.0,648.0 L1056.0,666.0 L897.0,642.0Z" fill="#8a8a8e"/>
<path d="M937.7,629.7 L1089.8,648.8 L1057.5,662.6 L907.6,640.6Z" fill="url(#keysP)"/>
<path d="M897.0,642.0 L1056.0,666.0 L1056.0,670.0 L897.0,646.0Z" fill="#b8b8bc"/>
<path d="M1056.0,666.0 L1098.0,648.0 L1098.0,651.0 L1056.0,670.0Z" fill="#8a8a8e"/>
<ellipse cx="1114" cy="660" rx="24.5" ry="12.5" transform="rotate(12 1114 660)" fill="url(#mouseG)"/>
<path d="M1306.0,547.0 L1439.2,554.3 L1414.0,668.6 L1284.4,647.0Z" fill="#1c1c20"/>
<path d="M1307.8,551.2 L1434.9,558.7 L1411.4,665.2 L1287.5,644.9Z" fill="url(#cadBg)" />
<path d="M1307.8,551.2 L1323.0,552.1 L1302.4,647.4 L1287.5,644.9Z" fill="url(#sidebarG)" />
<path d="M1323.0,552.1 L1365.0,554.5 L1343.3,654.1 L1302.4,647.4Z" fill="#f2f2f6" />
<path d="M1325.0,554.9 L1360.5,557.1 L1359.6,561.4 L1324.1,559.0Z" fill="#e2e2ea" />
<path d="M1316.6,582.0 L1358.2,585.8 L1356.3,594.3 L1314.8,590.2Z" fill="#d4d4ea" />
<path d="M1322.4,570.0 L1333.8,570.9 L1333.5,572.0 L1322.1,571.1Z" fill="#6a6a70" />
<path d="M1345.8,571.8 L1357.8,572.8 L1357.6,573.6 L1345.6,572.7Z" fill="#9a9aa0" />
<path d="M1321.8,572.7 L1347.1,574.8 L1346.9,575.6 L1321.6,573.5Z" fill="#b0b0b6" />
<path d="M1321.3,574.8 L1341.5,576.5 L1341.4,577.2 L1321.2,575.5Z" fill="#b8b8be" />
<path d="M1319.9,581.3 L1331.3,582.3 L1331.0,583.4 L1319.7,582.4Z" fill="#6a6a70" />
<path d="M1343.3,583.4 L1355.2,584.5 L1355.0,585.3 L1343.1,584.2Z" fill="#9a9aa0" />
<path d="M1319.3,584.0 L1344.5,586.4 L1344.4,587.1 L1319.2,584.8Z" fill="#b0b0b6" />
<path d="M1318.9,586.1 L1339.0,588.0 L1338.9,588.7 L1318.7,586.8Z" fill="#b8b8be" />
<path d="M1317.5,592.5 L1328.8,593.7 L1328.6,594.8 L1317.2,593.6Z" fill="#6a6a70" />
<path d="M1340.7,594.9 L1352.7,596.2 L1352.5,597.0 L1340.6,595.8Z" fill="#9a9aa0" />
<path d="M1316.9,595.3 L1342.0,597.9 L1341.9,598.7 L1316.7,596.0Z" fill="#b0b0b6" />
<path d="M1316.4,597.3 L1336.5,599.5 L1336.4,600.3 L1316.3,598.1Z" fill="#b8b8be" />
<path d="M1315.0,603.8 L1326.3,605.1 L1326.1,606.2 L1314.8,604.9Z" fill="#6a6a70" />
<path d="M1338.2,606.5 L1350.1,607.8 L1350.0,608.7 L1338.0,607.3Z" fill="#9a9aa0" />
<path d="M1314.5,606.5 L1339.5,609.5 L1339.3,610.3 L1314.3,607.3Z" fill="#b0b0b6" />
<path d="M1314.0,608.6 L1334.0,611.0 L1333.9,611.8 L1313.8,609.3Z" fill="#b8b8be" />
<path d="M1312.6,615.1 L1323.8,616.5 L1323.6,617.6 L1312.4,616.2Z" fill="#6a6a70" />
<path d="M1335.7,618.0 L1347.6,619.5 L1347.4,620.4 L1335.5,618.9Z" fill="#9a9aa0" />
<path d="M1312.0,617.8 L1337.0,621.1 L1336.8,621.8 L1311.8,618.6Z" fill="#b0b0b6" />
<path d="M1311.6,619.9 L1331.5,622.5 L1331.4,623.3 L1311.4,620.6Z" fill="#b8b8be" />
<path d="M1310.2,626.4 L1321.4,627.9 L1321.1,629.0 L1309.9,627.4Z" fill="#6a6a70" />
<path d="M1333.2,629.6 L1345.0,631.2 L1344.9,632.1 L1333.0,630.4Z" fill="#9a9aa0" />
<path d="M1309.6,629.1 L1334.5,632.6 L1334.3,633.4 L1309.4,629.8Z" fill="#b0b0b6" />
<path d="M1309.1,631.1 L1329.0,634.0 L1328.9,634.8 L1309.0,631.9Z" fill="#b8b8be" />
<path d="M1307.7,637.6 L1318.9,639.3 L1318.7,640.4 L1307.5,638.7Z" fill="#6a6a70" />
<path d="M1330.7,641.1 L1342.5,642.9 L1342.3,643.8 L1330.5,642.0Z" fill="#9a9aa0" />
<path d="M1307.1,640.4 L1331.9,644.2 L1331.8,645.0 L1307.0,641.1Z" fill="#b0b0b6" />
<path d="M1306.7,642.4 L1326.5,645.5 L1326.4,646.3 L1306.5,643.2Z" fill="#b8b8be" />
<path d="M1305.1,575.5 L1312.7,576.1 L1312.5,577.2 L1304.9,576.6Z" fill="#c8c8f0" opacity="0.75"/>
<path d="M1304.0,580.5 L1311.6,581.2 L1311.4,582.3 L1303.8,581.6Z" fill="#c8c8f0" opacity="0.75"/>
<path d="M1302.9,585.6 L1310.5,586.3 L1310.3,587.4 L1302.7,586.6Z" fill="#c8c8f0" opacity="0.75"/>
<path d="M1301.8,590.6 L1309.4,591.4 L1309.2,592.5 L1301.6,591.7Z" fill="#c8c8f0" opacity="0.75"/>
<path d="M1300.8,595.6 L1308.3,596.4 L1308.1,597.5 L1300.5,596.7Z" fill="#c8c8f0" opacity="0.75"/>
<path d="M1299.7,600.7 L1307.2,601.5 L1307.0,602.6 L1299.4,601.7Z" fill="#c8c8f0" opacity="0.75"/>
<path d="M1308.3,558.0 L1317.8,558.6 L1317.2,561.3 L1307.7,560.7Z" fill="#e0e0ff" opacity="0.7"/>
<path d="M1365.0,554.5 L1434.9,558.7 L1434.0,562.5 L1364.2,558.1Z" fill="#17202c" />
<path d="M1360.3,555.1 L1361.5,555.2 L1361.2,556.5 L1360.1,556.4Z" fill="#e8e8e8" />
<path d="M1362.3,555.2 L1363.4,555.3 L1363.1,556.6 L1362.0,556.5Z" fill="#e8e8e8" />
<path d="M1364.2,555.4 L1365.3,555.4 L1365.0,556.7 L1363.9,556.6Z" fill="#e8e8e8" />
<path d="M1427.1,558.8 L1428.4,558.9 L1428.0,560.4 L1426.8,560.3Z" fill="#e8e8e8" />
<path d="M1429.3,559.0 L1430.6,559.0 L1430.3,560.6 L1429.0,560.5Z" fill="#e8e8e8" />
<path d="M1431.6,559.1 L1432.8,559.2 L1432.5,560.7 L1431.2,560.6Z" fill="#e8e8e8" />
<g transform="matrix(0.62731,0.06951,-0.16081,0.73361,1385.49,607.77)">
<ellipse cx="8" cy="4" rx="60" ry="70" fill="url(#cadGlow)"/>
<path d="M-6.7,-50.7 L19,-56 L28.8,-18.4 L0,-13.8 Z" fill="#8ee6f2" opacity="0.7"/>
<path d="M-3,-46 L16,-50 L22,-28 L2,-24 Z" fill="#d0f8fc" opacity="0.45"/>
<ellipse cx="-4" cy="2" rx="31" ry="46" fill="#5ad8ec" opacity="0.55"/>
<ellipse cx="-4" cy="2" rx="29" ry="44" fill="none" stroke="#b0f4fc" stroke-width="2.5" opacity="0.6"/>
<path d="M-1.9,27.6 L34.6,27.6 L27,57 L0,64.5 Z" fill="#6adcee" opacity="0.5"/>
<ellipse cx="27" cy="7" rx="21" ry="28" fill="#52cce2" opacity="0.8"/>
<ellipse cx="30" cy="5" rx="12.5" ry="16.6" fill="#aeeef8" opacity="0.65"/>
<ellipse cx="-9.6" cy="9" rx="9" ry="22" fill="#262e36"/>
<path d="M-3.8,-26 L11,-24 L13.5,39 L-2,37 Z" fill="#8a5a44"/>
<path d="M-3.8,-26 L11,-24 L13.5,39 L-2,37 Z" fill="url(#ribs)"/>
<path d="M-23,54 L6,40.5 L9.5,47.5 L-19.5,61 Z" fill="#9ae8f4" opacity="0.85"/>
<path d="M-8.5,61.5 L20.5,48 L24,55 L-5,68.5 Z" fill="#9ae8f4" opacity="0.85"/>
</g>
<path d="M1197.0,659.0 L1284.4,647.0 L1414.0,668.6 L1412.0,676.0 L1322.0,687.5 L1197.0,662.0Z" fill="url(#deckG)"/>
<path d="M1240.0,653.0 L1284.0,648.0 L1400.0,668.0 L1390.0,674.0 L1262.0,657.0Z" fill="url(#keysP2)"/>
<path d="M1240.0,664.0 L1290.0,670.0 L1300.0,677.0 L1250.0,671.0Z" fill="#55555c" opacity="0.7"/>
<path d="M1197.0,662.0 L1322.0,687.5 L1412.0,676.0 L1412.0,679.0 L1322.0,690.5 L1197.0,664.5Z" fill="#a8a8ae"/></g></defs>
<use href="#desk"/>
<use href="#desk" transform="translate(0,475)"/>
<path d="M486,304 Q490,300 493,304 L500,440 L489,442 Z" fill="#cfcfcf"/>
<path d="M472,300 Q479,294 487,300 L497,446 L481,447 Z" fill="url(#antG)"/>
<path d="M737,304 Q740,300 744,304 L738,442 L728,440 Z" fill="#cfcfcf"/>
<path d="M741,300 Q748,294 755,300 L745,447 L731,446 Z" fill="url(#antG2)"/>
<path d="M536.5,291 Q543,282 549.5,291 L550,393 L536,393 Z" fill="url(#antG)"/>
<path d="M679,291 Q686,282 694.5,291 L694,393 L679,393 Z" fill="url(#antG2)"/>
<path d="M497.0,423.0 L518.0,390.0 L715.0,390.0 L731.0,423.0 L731.0,428.0 L613.0,460.0 L497.0,428.0Z" fill="#0a0a0b"/>
<path d="M497.0,423.0 L518.0,390.0 L605.0,390.0 L569.0,442.0Z" fill="url(#routerTop)"/>
<path d="M623.0,390.0 L715.0,390.0 L731.0,423.0 L657.0,442.0Z" fill="url(#routerTop)"/>
<path d="M605.0,391.0 L623.0,391.0 L657.0,442.0 L613.0,458.0 L569.0,442.0Z" fill="url(#prismG)"/>
<path d="M605,391 L569,442 M623,391 L657,442" stroke="#060607" stroke-width="2.6"/>
<path d="M569,442 L613,458 L657,442" stroke="#050505" stroke-width="1.5" fill="none"/>
<ellipse cx="613.3" cy="424" rx="1.5" ry="2.3" fill="#3ae0f0"/>
<circle cx="613" cy="449" r="1.2" fill="#ddd"/>
<path d="M497.0,426.7 L613.3,457.5 L728.0,427.5 L730.0,441.7 L613.3,468.3 L497.0,441.7Z" fill="url(#routerBase)"/>
<path d="M508,437 L562,452 M666,452 L720,437" stroke="#6a6a6a" stroke-width="3" stroke-dasharray="0.9 1.3"/>
<rect x="538" y="390" width="30" height="2" fill="#aaa" opacity="0.6"/>
<path d="M470.3,1095.2 L759.7,1095.2 L776.0,1117.3 L451.7,1117.3Z" fill="url(#modemTop)"/>
<rect x="451.7" y="1117.3" width="324.3" height="51.4" fill="url(#modemFront)"/>
<rect x="451.7" y="1116.5" width="324.3" height="1.6" fill="#9a9a9a"/>
<text x="475" y="1144" font-family='"Liberation Sans", sans-serif' font-size="10" font-weight="bold" fill="#f08a2a" textLength="48" lengthAdjust="spacingAndGlyphs">COMFAST</text>
<rect x="476" y="1147" width="46" height="5" fill="#cfcfcf" opacity="0.75"/><rect x="476" y="1154" width="46" height="2" fill="#888" opacity="0.6"/>
<circle cx="548.5" cy="1146.5" r="2" fill="#3fbf5f"/><circle cx="548.5" cy="1152.3" r="2" fill="#c83a3a"/><circle cx="557.8" cy="1151" r="2.6" fill="#050505"/>
<rect x="567" y="1139.5" width="19.5" height="16.3" fill="#e8e8e8"/><rect x="569.5" y="1142" width="14.5" height="11.3" fill="#2a2a2a"/><rect x="572" y="1146" width="9.5" height="6" fill="#111"/>
<rect x="592" y="1139.5" width="6" height="16" rx="2.5" fill="#c8c8cc"/><rect x="606" y="1139.5" width="7.5" height="16" rx="3" fill="#4a8ad0"/>
<rect x="619.7" y="1139.5" width="19.5" height="16.3" fill="#e8d8a0"/><rect x="622.2" y="1142" width="14.5" height="11.3" fill="#2a2a2a"/><rect x="624.7" y="1146" width="9.5" height="6" fill="#111"/>
<rect x="645.3" y="1139.5" width="19.5" height="16.3" fill="#d8ecd0"/><rect x="647.8" y="1142" width="14.5" height="11.3" fill="#2a2a2a"/><rect x="650.3" y="1146" width="9.5" height="6" fill="#111"/>
<rect x="669.8" y="1139.5" width="19.5" height="16.3" fill="#d8ecd0"/><rect x="672.3" y="1142" width="14.5" height="11.3" fill="#2a2a2a"/><rect x="674.8" y="1146" width="9.5" height="6" fill="#111"/>
<rect x="694.8" y="1139.5" width="19.5" height="16.3" fill="#d8ecd0"/><rect x="697.3" y="1142" width="14.5" height="11.3" fill="#2a2a2a"/><rect x="699.8" y="1146" width="9.5" height="6" fill="#111"/>
<rect x="720" y="1139.5" width="19.5" height="16.3" fill="#d8ecd0"/><rect x="722.5" y="1142" width="14.5" height="11.3" fill="#2a2a2a"/><rect x="725" y="1146" width="9.5" height="6" fill="#111"/>
<rect x="570" y="1160" width="14" height="1.4" fill="#777"/><rect x="592" y="1160" width="6" height="1.4" fill="#777"/><rect x="605" y="1160" width="8" height="1.4" fill="#777"/>
<rect x="964.7" y="1238" width="139.3" height="199.5" rx="9" fill="url(#ipadBody)"/>
<rect x="972.7" y="1255.7" width="123.2" height="163.3" fill="url(#ipadScreen)"/>
<circle cx="1034" cy="1247" r="1" fill="#444"/>
<rect x="985.3" y="1269.5" width="13" height="13" rx="3" fill="#3ac060"/>
<rect x="1013.5" y="1269.5" width="13" height="13" rx="3" fill="#f0f0f0"/>
<rect x="1041.5" y="1269.5" width="13" height="13" rx="3" fill="#f0c040"/>
<rect x="1069.5" y="1269.5" width="13" height="13" rx="3" fill="#d8d8d8"/>
<rect x="985.3" y="1295.3" width="13" height="13" rx="3" fill="#d0d0d0"/>
<rect x="1013.5" y="1295.3" width="13" height="13" rx="3" fill="#f4f4f4"/>
<rect x="1041.5" y="1295.3" width="13" height="13" rx="3" fill="#e0e0a0"/>
<rect x="1069.5" y="1295.3" width="13" height="13" rx="3" fill="#40c0d0"/>
<rect x="985.3" y="1321.0" width="13" height="13" rx="3" fill="#f4d060"/>
<rect x="1013.5" y="1321.0" width="13" height="13" rx="3" fill="#f0f0f0"/>
<rect x="1041.5" y="1321.0" width="13" height="13" rx="3" fill="#d83a3a"/>
<rect x="1069.5" y="1321.0" width="13" height="13" rx="3" fill="#50a0e0"/>
<rect x="985.3" y="1346.5" width="13" height="13" rx="3" fill="#e0e040"/>
<rect x="1013.5" y="1346.5" width="13" height="13" rx="3" fill="#c040d8"/>
<rect x="1041.5" y="1346.5" width="13" height="13" rx="3" fill="#3a90e0"/>
<rect x="1069.5" y="1346.5" width="13" height="13" rx="3" fill="#f09030"/>
<path d="M972.7,1398 L972.7,1388 L985,1378 L998,1384 L1010,1372 L1024,1380 L1036,1370 L1050,1378 L1064,1368 L1080,1376 L1095.9,1366 L1095.9,1398 Z" fill="#7a6a78" opacity="0.9"/>
<path d="M972.7,1392 L990,1386 L1004,1390 L1020,1383 L1040,1388 L1060,1380 L1080,1386 L1095.9,1380 L1095.9,1398 L972.7,1398 Z" fill="#3e3440" opacity="0.85"/>
<circle cx="991.8" cy="1378.8" r="6.5" fill="#8a8a8e"/><circle cx="991.8" cy="1378.8" r="3.5" fill="none" stroke="#5a5a5e" stroke-width="1.2"/>
<rect x="1013.5" y="1372.3" width="13" height="13" rx="3" fill="#9a8a98" opacity="0.6"/>
<rect x="972.7" y="1398" width="123.2" height="21" fill="#7a6a78" opacity="0.55"/>
<rect x="985.3" y="1401.5" width="13" height="13" rx="3" fill="#40c050"/>
<rect x="1013.5" y="1401.5" width="13" height="13" rx="3" fill="#3a9ae0"/>
<rect x="1041.5" y="1401.5" width="13" height="13" rx="3" fill="#50a8e8"/>
<rect x="1069.5" y="1401.5" width="13" height="13" rx="3" fill="#e03a4a"/>
<rect x="1076.8" y="1319.5" width="57.6" height="118.3" rx="9" fill="#1a1a1c" stroke="#8a8a8e" stroke-width="1.2"/>
<rect x="1079" y="1322" width="53.2" height="113.3" rx="7" fill="url(#iphoneScreen)"/>
<rect x="1079" y="1322" width="53.2" height="113.3" rx="7" fill="url(#iphoneBottom)"/>
<path d="M1091,1322 L1120,1322 L1118.5,1326.5 Q1117.5,1328 1115.5,1328 L1095.5,1328 Q1093.5,1328 1092.5,1326.5 Z" fill="#0a0a0a"/>
<rect x="1082.2" y="1333.5" width="8" height="8" rx="2" fill="#f6f0f4" opacity="0.9"/>
<rect x="1083.6000000000001" y="1334.9" width="5.2" height="5.2" rx="1.2" fill="#6ac8f0" opacity="0.85"/>
<rect x="1094.4" y="1333.5" width="8" height="8" rx="2" fill="#f6f0f4" opacity="0.9"/>
<rect x="1095.8000000000002" y="1334.9" width="5.2" height="5.2" rx="1.2" fill="#f4f4f4" opacity="0.85"/>
<rect x="1106.5" y="1333.5" width="8" height="8" rx="2" fill="#f6f0f4" opacity="0.9"/>
<rect x="1107.9" y="1334.9" width="5.2" height="5.2" rx="1.2" fill="#f0a040" opacity="0.85"/>
<rect x="1119.1" y="1333.5" width="8" height="8" rx="2" fill="#f6f0f4" opacity="0.9"/>
<rect x="1120.5" y="1334.9" width="5.2" height="5.2" rx="1.2" fill="#303030" opacity="0.85"/>
<rect x="1082.2" y="1347.4" width="8" height="8" rx="2" fill="#f6f0f4" opacity="0.9"/>
<rect x="1083.6000000000001" y="1348.8000000000002" width="5.2" height="5.2" rx="1.2" fill="#70c060" opacity="0.85"/>
<rect x="1094.4" y="1347.4" width="8" height="8" rx="2" fill="#f6f0f4" opacity="0.9"/>
<rect x="1095.8000000000002" y="1348.8000000000002" width="5.2" height="5.2" rx="1.2" fill="#f4f4f4" opacity="0.85"/>
<rect x="1106.5" y="1347.4" width="8" height="8" rx="2" fill="#f6f0f4" opacity="0.9"/>
<rect x="1107.9" y="1348.8000000000002" width="5.2" height="5.2" rx="1.2" fill="#40b0e0" opacity="0.85"/>
<rect x="1119.1" y="1347.4" width="8" height="8" rx="2" fill="#f6f0f4" opacity="0.9"/>
<rect x="1120.5" y="1348.8000000000002" width="5.2" height="5.2" rx="1.2" fill="#e07080" opacity="0.85"/>
<rect x="1082.2" y="1361.4" width="8" height="8" rx="2" fill="#f6f0f4" opacity="0.9"/>
<rect x="1083.6000000000001" y="1362.8000000000002" width="5.2" height="5.2" rx="1.2" fill="#f4c040" opacity="0.85"/>
<rect x="1094.4" y="1361.4" width="8" height="8" rx="2" fill="#f6f0f4" opacity="0.9"/>
<rect x="1095.8000000000002" y="1362.8000000000002" width="5.2" height="5.2" rx="1.2" fill="#f8e8a0" opacity="0.85"/>
<rect x="1106.5" y="1361.4" width="8" height="8" rx="2" fill="#f6f0f4" opacity="0.9"/>
<rect x="1107.9" y="1362.8000000000002" width="5.2" height="5.2" rx="1.2" fill="#202020" opacity="0.85"/>
<rect x="1119.1" y="1361.4" width="8" height="8" rx="2" fill="#f6f0f4" opacity="0.9"/>
<rect x="1120.5" y="1362.8000000000002" width="5.2" height="5.2" rx="1.2" fill="#e8f0f8" opacity="0.85"/>
<rect x="1082.2" y="1375.3" width="8" height="8" rx="2" fill="#f6f0f4" opacity="0.9"/>
<rect x="1083.6000000000001" y="1376.7" width="5.2" height="5.2" rx="1.2" fill="#30a090" opacity="0.85"/>
<rect x="1094.4" y="1375.3" width="8" height="8" rx="2" fill="#f6f0f4" opacity="0.9"/>
<rect x="1095.8000000000002" y="1376.7" width="5.2" height="5.2" rx="1.2" fill="#3a80e0" opacity="0.85"/>
<rect x="1106.5" y="1375.3" width="8" height="8" rx="2" fill="#f6f0f4" opacity="0.9"/>
<rect x="1107.9" y="1376.7" width="5.2" height="5.2" rx="1.2" fill="#c040d0" opacity="0.85"/>
<rect x="1119.1" y="1375.3" width="8" height="8" rx="2" fill="#f6f0f4" opacity="0.9"/>
<rect x="1120.5" y="1376.7" width="5.2" height="5.2" rx="1.2" fill="#f0a040" opacity="0.85"/>
<rect x="1082.2" y="1389.3" width="8" height="8" rx="2" fill="#f6f0f4" opacity="0.9"/>
<rect x="1083.6000000000001" y="1390.7" width="5.2" height="5.2" rx="1.2" fill="#f8f0f0" opacity="0.85"/>
<rect x="1094.4" y="1389.3" width="8" height="8" rx="2" fill="#f6f0f4" opacity="0.9"/>
<rect x="1095.8000000000002" y="1390.7" width="5.2" height="5.2" rx="1.2" fill="#1a1a1a" opacity="0.85"/>
<rect x="1106.5" y="1389.3" width="8" height="8" rx="2" fill="#f6f0f4" opacity="0.9"/>
<rect x="1107.9" y="1390.7" width="5.2" height="5.2" rx="1.2" fill="#606060" opacity="0.85"/>
<rect x="1082.2" y="1422.6" width="8" height="8" rx="2" fill="#3ac050"/>
<rect x="1094.4" y="1422.6" width="8" height="8" rx="2" fill="#2a80e0"/>
<rect x="1106.5" y="1422.6" width="8" height="8" rx="2" fill="#50c050"/>
<rect x="1119.1" y="1422.6" width="8" height="8" rx="2" fill="#f4f4f4"/>
<rect x="1137.5" y="146.2" width="41.2" height="44" fill="url(#usbG)"/>
<rect x="1137.5" y="146.2" width="41.2" height="2" fill="#fafafa"/>
<rect x="1143.0" y="163.2" width="8.5" height="6.5" rx="1.2" fill="#2e5cb8"/><rect x="1163.0" y="163.2" width="8.5" height="6.5" rx="1.2" fill="#2e5cb8"/>
<rect x="1145.5" y="164.7" width="4" height="3" fill="#9ec0f0"/><rect x="1165.5" y="164.7" width="4" height="3" fill="#9ec0f0"/>
<rect x="1144.0" y="173.2" width="6.5" height="2.5" rx="1" fill="none" stroke="#c4c4c4" stroke-width="0.7"/><rect x="1164.0" y="173.2" width="6.5" height="2.5" rx="1" fill="none" stroke="#c4c4c4" stroke-width="0.7"/>
<path d="M1122,189.5 L1195.5,189.5 L1195.5,201.5 L1200,203.5 L1200,344.5 Q1200,349.0 1195,349.0 L1122,349.0 Q1117,349.0 1117,344.5 L1117,203.5 L1122,201.5 Z" fill="url(#dongleG)"/>
<rect x="1122" y="189.5" width="73.5" height="41" fill="#464649"/>
<rect x="1122" y="229.5" width="73.5" height="1.5" fill="#2a2a2c"/>
<rect x="1153" y="191.0" width="10" height="2.2" rx="1.1" fill="#1a1a1a"/>
<rect x="1121.5" y="201.5" width="1.2" height="147" fill="#262628"/><rect x="1194.5" y="201.5" width="1.2" height="147" fill="#262628"/>
<rect x="1128.7" y="242.5" width="1.6" height="106.5" fill="#28282a"/>
<rect x="1130.3" y="242.5" width="1.4" height="106.5" fill="#5c5c60" opacity="0.8"/>
<rect x="1139.0" y="242.5" width="1.6" height="106.5" fill="#28282a"/>
<rect x="1140.6" y="242.5" width="1.4" height="106.5" fill="#5c5c60" opacity="0.8"/>
<rect x="1149.2" y="242.5" width="1.6" height="106.5" fill="#28282a"/>
<rect x="1150.8" y="242.5" width="1.4" height="106.5" fill="#5c5c60" opacity="0.8"/>
<rect x="1158.7" y="242.5" width="1.6" height="106.5" fill="#28282a"/>
<rect x="1160.3" y="242.5" width="1.4" height="106.5" fill="#5c5c60" opacity="0.8"/>
<rect x="1169.1" y="242.5" width="1.6" height="106.5" fill="#28282a"/>
<rect x="1170.7" y="242.5" width="1.4" height="106.5" fill="#5c5c60" opacity="0.8"/>
<rect x="1178.6" y="242.5" width="1.6" height="106.5" fill="#28282a"/>
<rect x="1180.2" y="242.5" width="1.4" height="106.5" fill="#5c5c60" opacity="0.8"/>
<rect x="1188.9" y="242.5" width="1.6" height="106.5" fill="#28282a"/>
<rect x="1190.5" y="242.5" width="1.4" height="106.5" fill="#5c5c60" opacity="0.8"/>
<text x="1157.5" y="216.0" text-anchor="middle" font-family='"Liberation Sans", sans-serif' font-size="9" font-weight="bold" fill="#f6f6f6" stroke="#f6f6f6" stroke-width="0.4" textLength="55" lengthAdjust="spacingAndGlyphs">NEWFAST</text>
<circle cx="1158" cy="237.2" r="2.4" fill="#30c8b8" opacity="0.35"/><circle cx="1158" cy="237.2" r="1.3" fill="#60f0e0"/>
<text x="1157.5" y="247.5" text-anchor="middle" font-family='"Liberation Sans", sans-serif' font-size="7" fill="#e0e0e0" textLength="18" lengthAdjust="spacingAndGlyphs">WiFi6</text>
<rect x="1292.0" y="1234.5" width="41.2" height="44" fill="url(#usbG)"/>
<rect x="1292.0" y="1234.5" width="41.2" height="2" fill="#fafafa"/>
<rect x="1297.5" y="1251.5" width="8.5" height="6.5" rx="1.2" fill="#2e5cb8"/><rect x="1317.5" y="1251.5" width="8.5" height="6.5" rx="1.2" fill="#2e5cb8"/>
<rect x="1300.0" y="1253.0" width="4" height="3" fill="#9ec0f0"/><rect x="1320.0" y="1253.0" width="4" height="3" fill="#9ec0f0"/>
<rect x="1298.5" y="1261.5" width="6.5" height="2.5" rx="1" fill="none" stroke="#c4c4c4" stroke-width="0.7"/><rect x="1318.5" y="1261.5" width="6.5" height="2.5" rx="1" fill="none" stroke="#c4c4c4" stroke-width="0.7"/>
<path d="M1276.5,1277.8 L1350.0,1277.8 L1350.0,1289.8 L1354.5,1291.8 L1354.5,1432.8 Q1354.5,1437.3 1349.5,1437.3 L1276.5,1437.3 Q1271.5,1437.3 1271.5,1432.8 L1271.5,1291.8 L1276.5,1289.8 Z" fill="url(#dongleG)"/>
<rect x="1276.5" y="1277.8" width="73.5" height="41" fill="#464649"/>
<rect x="1276.5" y="1317.8" width="73.5" height="1.5" fill="#2a2a2c"/>
<rect x="1307.5" y="1279.3" width="10" height="2.2" rx="1.1" fill="#1a1a1a"/>
<rect x="1276.0" y="1289.8" width="1.2" height="147" fill="#262628"/><rect x="1349.0" y="1289.8" width="1.2" height="147" fill="#262628"/>
<rect x="1283.2" y="1330.8" width="1.6" height="106.5" fill="#28282a"/>
<rect x="1284.8" y="1330.8" width="1.4" height="106.5" fill="#5c5c60" opacity="0.8"/>
<rect x="1293.5" y="1330.8" width="1.6" height="106.5" fill="#28282a"/>
<rect x="1295.1" y="1330.8" width="1.4" height="106.5" fill="#5c5c60" opacity="0.8"/>
<rect x="1303.7" y="1330.8" width="1.6" height="106.5" fill="#28282a"/>
<rect x="1305.3" y="1330.8" width="1.4" height="106.5" fill="#5c5c60" opacity="0.8"/>
<rect x="1313.2" y="1330.8" width="1.6" height="106.5" fill="#28282a"/>
<rect x="1314.8" y="1330.8" width="1.4" height="106.5" fill="#5c5c60" opacity="0.8"/>
<rect x="1323.6" y="1330.8" width="1.6" height="106.5" fill="#28282a"/>
<rect x="1325.2" y="1330.8" width="1.4" height="106.5" fill="#5c5c60" opacity="0.8"/>
<rect x="1333.1" y="1330.8" width="1.6" height="106.5" fill="#28282a"/>
<rect x="1334.7" y="1330.8" width="1.4" height="106.5" fill="#5c5c60" opacity="0.8"/>
<rect x="1343.4" y="1330.8" width="1.6" height="106.5" fill="#28282a"/>
<rect x="1345.0" y="1330.8" width="1.4" height="106.5" fill="#5c5c60" opacity="0.8"/>
<text x="1312.0" y="1304.3" text-anchor="middle" font-family='"Liberation Sans", sans-serif' font-size="9" font-weight="bold" fill="#f6f6f6" stroke="#f6f6f6" stroke-width="0.4" textLength="55" lengthAdjust="spacingAndGlyphs">NEWFAST</text>
<circle cx="1312.5" cy="1325.5" r="2.4" fill="#30c8b8" opacity="0.35"/><circle cx="1312.5" cy="1325.5" r="1.3" fill="#60f0e0"/>
<text x="1312.0" y="1335.8" text-anchor="middle" font-family='"Liberation Sans", sans-serif' font-size="7" fill="#e0e0e0" textLength="18" lengthAdjust="spacingAndGlyphs">WiFi6</text>
<g>
<path d="M1138.5,397 L1178.5,397 L1158.5,427.0 Z" fill="#0a2326" stroke="#3a6a6c" stroke-width="1.2"/>
<rect x="1152.0" y="349" width="13" height="50" fill="url(#gShaftV)"/>
<path d="M1143.0,399 L1174.0,399 L1158.5,422.0 Z" fill="url(#gHead)"/>
</g>
<g>
<path d="M1293.05,1202.5 L1332.55,1202.5 L1312.8,1171.1 Z" fill="#0a2326" stroke="#3a6a6c" stroke-width="1.2"/>
<rect x="1306.0" y="1200.5" width="13.6" height="34.5" fill="url(#gShaftVu)"/>
<path d="M1297.55,1200.5 L1328.05,1200.5 L1312.8,1176.1 Z" fill="url(#gHead)"/>
</g>
</svg></body></html>
